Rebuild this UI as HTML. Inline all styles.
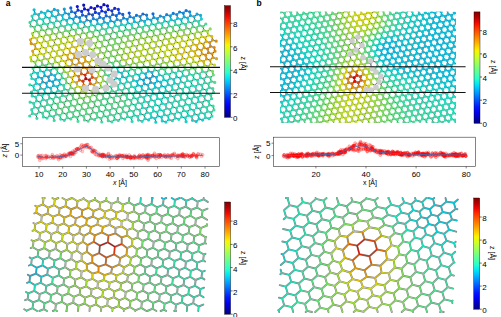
<!DOCTYPE html><html><head><meta charset="utf-8"><style>
html,body{margin:0;padding:0;background:#fff;width:501px;height:317px;overflow:hidden}
svg{display:block;font-family:"Liberation Sans",sans-serif;font-size:7px}
</style></head><body>
<svg width="501" height="317" viewBox="0 0 501 317"><g fill="none"><path fill="none" stroke="#4a4a4a" stroke-opacity="0.7" stroke-width="1.9" stroke-linecap="round" d="M26.6 310.7l-2.4 -1.5M26.6 310.7l-0 0.3M27.7 299.1l5.4 3.3M27.7 299.1l-2.6 1.1M27.7 299.1l0.6 -5.8M45.6 291.8l0.6 -5.8M52.2 283.6l-6 2.4M52.2 283.6l0.6 -5.8M49.1 257.2l-6 2.4M58.7 275.4l-6 2.4M162.6 265.9l5.4 3.3M162.6 265.9l-6 2.5M167.5 275l5.4 3.3M177.1 293.2l5.4 3.3M181.9 302.3l-6 2.4M181.9 302.3l0.6 -5.8M140.3 203.1l5.4 3.3M169.2 257.7l5.4 3.3M178.8 275.9l5.4 3.3M178.8 275.9l-6 2.4M183.6 285l5.4 3.3M183.6 285l-6 2.4M183.6 285l0.6 -5.8M151.6 204l5.4 3.3M151.6 204l-6 2.4M180.5 258.6l-6 2.4M180.5 258.6l0.6 -5.8M163 204.9l5.4 3.3M163 204.9l-6 2.4M191.9 259.4l0.6 -5.8M203.2 260.3l0.6 -5.8M28.3 293.4l-2.3 -1.4M34.3 290.9l5.4 3.3M34.3 290.9l-6 2.4M37.7 256.3l5.4 3.3M53.9 266.3l5.4 3.3M53.9 266.3l0.6 -5.8M167.5 275l0.6 -5.8M181.9 302.3l5.4 3.3M187.3 305.6l-0.5 5.4M174 266.8l5.4 3.3M174 266.8l-6 2.4M174 266.8l0.6 -5.8M178.8 275.9l0.6 -5.8M188.4 294.1l5.4 3.3M188.4 294.1l-6 2.4M188.4 294.1l0.6 -5.8M193.3 303.2l-6 2.4M180.5 258.6l5.4 3.3M185.3 267.7l5.4 3.3M185.3 267.7l-6 2.4M185.3 267.7l0.6 -5.8M190.2 276.8l5.4 3.3M190.2 276.8l-6 2.4M190.2 276.8l0.6 -5.8M195 285.8l-6 2.4M191.9 259.4l5.4 3.3M191.9 259.4l-6 2.4M203.2 260.3l1.9 1.2M203.2 260.3l-6 2.4M185.7 206.6l0.6 -5.8M203.6 199.3l4.2 2.6M203.6 199.3l-6 2.4M32.6 308.2l4.5 2.8M32.6 308.2l-6 2.4M32.6 308.2l0.6 -5.8M39.1 300l-6 2.4M39.1 300l0.6 -5.8M45.6 291.8l-6 2.4M49.1 257.2l5.4 3.3M58.7 275.4l0.6 -5.8M151.3 265.1l5.3 3.3M156.1 274.1l-6 2.5M156.1 274.1l0.6 -5.8M170.6 301.4l5.4 3.3M175.4 310.5l0.8 0.5M175.4 310.5l-1.2 0.5M175.4 310.5l0.6 -5.8M162.6 265.9l0.6 -5.8M167.5 275l-6 2.4M172.3 284.1l5.4 3.3M172.3 284.1l0.6 -5.8M177.1 293.2l-6 2.4M177.1 293.2l0.6 -5.8M169.2 257.7l-6 2.4M169.2 257.7l0.6 -5.8M175.7 249.5l5.4 3.3M187.1 250.4l5.4 3.3M187.1 250.4l-6 2.4M174.3 205.8l5.4 3.3M174.3 205.8l-6 2.4M198.4 251.2l5.4 3.3M198.4 251.2l-6 2.4M203.8 254.5l1.7 -0.7M197.1 207.5l0.6 -5.8M30 276.1l-2.2 -1.3M36 273.6l-6 2.4M36 273.6l0.6 -5.8M152.2 198.2l-0.4 -0.2M152.2 198.2l0.6 -0.2M29.5 281.8l5.4 3.3M40.8 282.7l0.6 -5.8M47.3 274.5l-6 2.4M47.3 274.5l0.6 -5.8M151.6 204l0.6 -5.8M174.9 200l4.9 -2M29.5 281.8l-2.5 1M31.2 264.5l-2.3 1M42.5 265.4l5.4 3.3M174.9 200l-3.2 -2M29.5 281.8l0.6 -5.8M31.2 264.5l5.4 3.3M36 273.6l5.4 3.3M42.5 265.4l-6 2.4M163.6 199.1l-1.8 -1.1M163.6 199.1l2.7 -1.1M34.3 290.9l0.6 -5.8M47.3 274.5l5.4 3.3M53.9 266.3l-6 2.4M140.3 203.1l0.5 -5.1M199.8 294.9l3.8 2.3M196.7 268.5l5.4 3.3M201.5 277.6l2.9 1.8M201.5 277.6l0.6 -5.8M200.4 289.2l3.7 -1.5M192.2 198.4l-6 2.4M39.1 300l5.4 3.3M43.9 309.1l-4.6 1.9M45.6 291.8l5.4 3.3M37.7 256.3l0.6 -5.8M52.2 283.6l5.4 3.3M60.4 258.1l-5.9 2.4M65.2 267.2l-5.9 2.4M144.8 273.3l5.3 3.3M144.8 273.3l0.6 -5.8M151.3 265.1l-5.9 2.5M156.1 274.1l5.4 3.3M165.7 292.3l5.4 3.3M170.6 301.4l-6 2.4M170.6 301.4l0.6 -5.8M157.8 256.8l5.4 3.3M172.3 284.1l-6 2.4M140.3 203.1l-6 2.4M164.4 248.6l5.4 3.3M175.7 249.5l-6 2.4M175.7 249.5l0.6 -5.8M187.1 250.4l0.6 -5.8M198.4 251.2l0.6 -5.8M185.7 206.6l5.4 3.3M185.7 206.6l-6 2.4M43.9 309.1l3.1 1.9M43.9 309.1l0.6 -5.8M50.4 300.9l-6 2.4M50.4 300.9l0.6 -5.8M58.7 275.4l5.4 3.3M149.6 282.4l0.6 -5.8M159.2 300.5l5.4 3.3M159.2 300.5l0.6 -5.8M164 309.6l2.2 1.4M164 309.6l-3.4 1.4M164 309.6l0.6 -5.8M151.3 265.1l0.6 -5.8M160.9 283.2l5.4 3.3M160.9 283.2l0.6 -5.8M165.7 292.3l-6 2.4M165.7 292.3l0.6 -5.8M128.9 202.3l0.4 -4.3M153.1 247.7l5.3 3.3M157.8 256.8l-5.9 2.5M157.8 256.8l0.6 -5.8M145.1 212.2l0.6 -5.8M164.4 248.6l-5.9 2.4M164.4 248.6l0.6 -5.8M156.4 213.1l0.6 -5.8M170.9 240.4l5.4 3.3M167.8 214l0.6 -5.8M182.3 241.3l5.4 3.3M182.3 241.3l-6 2.4M182.3 241.3l0.6 -5.8M179.2 214.9l0.6 -5.8M193.6 242.1l5.4 3.3M193.6 242.1l-6 2.4M205 243l1 0.6M205 243l-6 2.4M197.1 207.5l5.4 3.3M197.1 207.5l-6 2.4M202.4 210.8l5.1 -2.1M31.7 258.7l-2.1 -1.3M40.8 282.7l5.4 3.3M37.7 256.3l-6 2.4M193.3 303.2l5.4 3.3M193.3 303.2l0.6 -5.8M198.7 306.5l-0.4 4.5M195 285.8l5.4 3.3M195 285.8l0.6 -5.8M199.8 294.9l-6 2.4M199.8 294.9l0.6 -5.8M198.7 306.5l4.6 -1.9M196.7 268.5l-6 2.4M196.7 268.5l0.6 -5.8M201.5 277.6l-6 2.4M174.3 205.8l0.6 -5.8M192.2 198.4l5.4 3.3M203.6 199.3l0.1 -1.3M31.2 264.5l0.6 -5.8M40.8 282.7l-6 2.4M42.5 265.4l0.6 -5.8M163 204.9l0.6 -5.8M202.1 271.9l2.7 -1.1M186.3 200.9l-4.7 -2.9M192.2 198.4l0 -0.4M50.4 300.9l5.4 3.3M57 292.7l-6 2.4M57 292.7l0.6 -5.8M49.1 257.2l0.6 -5.8M63.5 284.4l-6 2.4M60.4 258.1l5.3 3.4M147.8 299.7l5.4 3.3M152.7 308.7l3.7 2.3M152.7 308.7l0.6 -5.8M140.4 264.4l5.1 3.2M144.8 273.3l-5.9 2.5M149.6 282.4l5.4 3.3M149.6 282.4l-6 2.5M154.4 291.4l5.4 3.3M154.4 291.4l-6 2.4M154.4 291.4l0.6 -5.8M159.2 300.5l-6 2.4M146.7 256l5.2 3.3M146.7 256l0.6 -5.8M160.9 283.2l-6 2.4M153.1 247.7l-5.8 2.5M153.1 247.7l0.6 -5.8M159.6 239.5l5.4 3.3M170.9 240.4l-6 2.4M170.9 240.4l0.6 -5.8M167.8 214l5.4 3.3M177.4 232.2l5.4 3.3M177.4 232.2l-6 2.4M179.2 214.9l5.4 3.3M179.2 214.9l-6 2.4M184 223.9l-6 2.4M188.8 233l-6 2.4M193.6 242.1l0.6 -5.8M190.5 215.7l0.6 -5.8M205 243l0.6 -5.8M55.3 310l1.7 1M55.3 310l-2.5 1M55.3 310l0.6 -5.8M57 292.7l5.4 3.3M63.5 284.4l0.6 -5.8M65.2 267.2l0.5 -5.8M141.3 307.9l5.1 3.1M143 290.6l5.4 3.3M143 290.6l0.6 -5.8M147.8 299.7l-6 2.4M147.8 299.7l0.6 -5.8M152.7 308.7l-5.5 2.3M142.2 246.8l5.1 3.4M146.7 256l-5.6 2.6M128.9 202.3l5.4 3.3M143.5 229.5l5.3 3.4M148.3 238.6l5.3 3.4M148.3 238.6l-5.7 2.4M148.3 238.6l0.5 -5.8M145.1 212.2l5.4 3.3M149.9 221.3l5.4 3.3M149.9 221.3l-5.9 2.4M149.9 221.3l0.6 -5.8M154.7 230.4l-5.9 2.4M154.7 230.4l0.6 -5.8M159.6 239.5l-5.9 2.4M159.6 239.5l0.6 -5.8M156.4 213.1l5.4 3.3M156.4 213.1l-6 2.4M161.3 222.2l5.4 3.3M161.3 222.2l-6 2.4M161.3 222.2l0.6 -5.8M166.1 231.3l5.4 3.3M167.8 214l-6 2.4M172.6 223.1l5.4 3.3M172.6 223.1l-6 2.4M172.6 223.1l0.6 -5.8M177.4 232.2l0.6 -5.8M184 223.9l5.4 3.3M184 223.9l0.6 -5.8M188.8 233l5.4 3.3M188.8 233l0.6 -5.8M190.5 215.7l5.4 3.3M190.5 215.7l-6 2.4M201.9 216.6l5.2 3.2M201.9 216.6l-6 2.4M201.9 216.6l0.6 -5.8M33.5 241.4l-2 -1.2M66.7 249.8l5.1 3.4M81.2 277.4l5.4 3.4M97.5 287.4l-5.9 2.3M102.4 296.2l5.4 3.3M102.4 296.2l-6 2.4M107.2 305.3l0.6 -5.7M113.8 297.1l5.4 3.3M113.8 297.1l-6 2.4M113.8 297.1l0.6 -5.7M115.7 280.6l5.3 2.8M120.4 289l-6 2.4M83.5 198.8l0.1 -0.8M94.8 199.6l5.4 3.3M94.8 199.6l-6 2.4M130 264.2l1 -6M132.2 245.6l4.7 3.6M127.4 219.2l5.4 3.4M137.6 237.5l-5.2 2.1M32.9 247.2l5.4 3.3M32.9 247.2l-2.2 0.9M61.8 301.8l-6 2.4M61.8 301.8l0.6 -5.8M63.5 284.4l5.4 3.3M60.4 258.1l0.6 -5.8M70 276.3l-5.9 2.4M136.5 298.8l5.4 3.3M141.3 307.9l-6 2.4M141.3 307.9l0.6 -5.8M138.3 281.5l5.3 3.3M138.3 281.5l0.7 -5.7M143 290.6l-6 2.5M140.4 264.4l0.7 -5.8M142.2 246.8l0.4 -5.8M138.6 220.4l5.4 3.4M143.5 229.5l0.5 -5.7M145.1 212.2l-5.9 2.4M154.7 230.4l5.4 3.3M166.1 231.3l-6 2.4M166.1 231.3l0.6 -5.8M195.3 224.8l-6 2.4M195.3 224.8l0.6 -5.8M200.1 233.9l5.4 3.3M200.1 233.9l-6 2.4M205.5 237.2l0.7 -0.3M32.9 247.2l0.6 -5.8M70 276.3l5.4 3.4M74.8 285.4l5.4 3.3M74.8 285.4l0.5 -5.7M79.7 294.4l5.4 3.3M79.7 294.4l0.5 -5.7M84.5 303.5l5.4 3.3M84.5 303.5l0.6 -5.8M89.9 306.8l-0.4 4.2M124 309.4l-0.2 1.6M125.1 297.9l5.4 3.3M125.1 297.9l0.6 -5.7M129.9 307l-6 2.4M127.1 281l5.3 3.1M133.8 272.8l-5.9 2.7M137.6 237.5l0.3 -5.7M61.8 301.8l5.4 3.3M66.6 310.8l0.2 0.2M66.6 310.8l-0.4 0.2M66.6 310.8l0.6 -5.8M44.3 248.1l-6 2.4M68.3 293.5l-6 2.4M65.2 267.2l5.3 3.4M135.3 310.3l-0.1 0.7M136.5 298.8l0.6 -5.8M133.8 272.8l5.1 3.1M136.3 255.3l4.7 3.2M140.4 264.4l-5.7 2.7M117.6 201.4l0.3 -3.4M143.5 229.5l-5.7 2.3M195.3 224.8l5.4 3.3M200.1 233.9l0.6 -5.8M206.7 225.7l0.1 0.1M206.7 225.7l-6 2.4M206.7 225.7l0.2 -1.6M35.2 224.1l-1.8 -1.1M41.2 221.7l5.4 3.3M46 230.8l0.6 -5.8M42.9 204.4l0.6 -5.8M52.5 222.5l5.4 3.3M52.5 222.5l-6 2.4M57.3 231.6l0.6 -5.8M54.2 205.2l0.6 -5.8M68.5 232.4l5.1 3.2M68.5 232.4l-5.9 2.5M72.9 241.5l0.7 -5.8M86.9 269.9l-5.5 1.9M65.6 206.1l0.6 -5.8M104 280l0.5 -4.9M88.3 207.8l0.6 -5.7M104.4 217l5.6 2.9M111 209.4l-6 2.3M116 218l-6.1 2M121.5 226.4l5.6 3.6M127.2 235.6l5.2 3.9M34.6 229.9l5.4 3.3M34.6 229.9l-2.1 0.9M34.6 229.9l0.6 -5.8M46 230.8l5.4 3.3M46 230.8l-6 2.4M57.3 231.6l5.3 3.3M57.3 231.6l-6 2.5M72.9 241.5l4.7 3.2M77.1 250.7l0.6 -6M81.6 260.4l0.1 -6.1M122.9 272.8l-6.3 2.7M122.9 272.8l1.2 -5.5M126.5 254.9l4.6 3.3M116 218l5.6 3.3M39.4 239l5.4 3.3M39.4 239l-6 2.4M50.8 239.9l-6 2.4M66.7 249.8l0.6 -5.8M76.2 268.3l0.3 -5.7M77.1 250.7l-5.3 2.5M97.5 287.4l5.4 3.2M102.4 296.2l0.6 -5.6M109 288.3l5.4 3.2M109 288.3l-6 2.3M109 288.3l0.6 -5.3M122.9 272.8l5 2.6M127.4 219.2l0.4 -5.6M39.4 239l0.6 -5.8M50.8 239.9l0.6 -5.8M43.4 198.6l-1 -0.6M62.1 240.7l0.6 -5.8M54.8 199.5l-2.4 -1.5M43.4 198.6l1.4 -0.6M72.9 241.5l-5.6 2.6M77.1 250.7l4.7 3.6M92.4 278.8l5.6 3.3M54.8 199.5l3.6 -1.5M104 280l5.6 2.9M104 280l-6.1 2M77.5 201.2l-5.2 -3.2M115.7 280.6l0.9 -5.1M83.5 198.8l-6 2.4M99.6 208.6l0.6 -5.7M111 209.4l0.6 -5.6M121.5 226.4l0.1 -5.2M132.2 245.6l0.1 -6.1M122.4 210.3l5.4 3.3M132.6 228.2l-5.5 1.9M44.3 248.1l5.4 3.3M68.3 293.5l5.4 3.3M68.3 293.5l0.6 -5.8M73.2 302.6l5.4 3.3M73.2 302.6l-6 2.4M73.2 302.6l0.6 -5.8M55.6 248.9l-5.9 2.4M74.8 285.4l-5.9 2.4M71.4 259l-5.7 2.4M129.9 307l5.4 3.3M131.7 289.7l5.4 3.3M131.7 289.7l0.6 -5.7M136.5 298.8l-6 2.4M138.3 281.5l-5.9 2.5M137.6 237.5l5.1 3.5M142.2 246.8l-5.3 2.5M133.8 211.3l0.5 -5.7M138.6 220.4l0.5 -5.7M44.3 248.1l0.6 -5.8M66.7 249.8l-5.8 2.5M86.2 286.3l-5.9 2.3M91 295.3l-6 2.4M95.9 304.4l5.4 3.3M95.9 304.4l-6 2.4M101.3 307.7l-0.3 3.3M118.6 306.1l5.4 3.3M120.4 289l5.4 3.2M125.1 297.9l-6 2.4M127.1 281l-6 2.5M127.1 281l0.9 -5.5M94.8 199.6l0.2 -1.6M130 264.2l4.7 2.9M117.6 201.4l5.4 3.3M117.6 201.4l-6 2.4M132.6 228.2l5.3 3.5M78.5 306l-0.5 5M55.6 248.9l5.3 3.3M70 276.3l0.5 -5.7M79.7 294.4l-6 2.4M84.5 303.5l-6 2.4M129.9 307l0.6 -5.8M131.7 289.7l-6 2.5M133.8 272.8l0.9 -5.7M106.2 200.5l0.2 -2.5M136.3 255.3l0.6 -6M128.9 202.3l-6 2.4M133.8 211.3l5.4 3.3M138.6 220.4l-5.8 2.3M36.9 206.8l-1.7 -1.1M41.2 221.7l-6 2.4M41.2 221.7l0.6 -5.8M42.9 204.4l5.4 3.3M42.9 204.4l-6 2.4M52.5 222.5l0.6 -5.8M54.2 205.2l-6 2.4M63.8 223.4l5.3 3.3M63.8 223.4l-6 2.5M68.5 232.4l0.6 -5.8M81.6 260.4l5.2 3.9M92.4 278.8l0.1 -5.2M79.3 232.9l-5.7 2.7M82.9 241.8l-5.3 2.9M86.9 251.8l-5.1 2.5M99.6 208.6l5.4 3.2M104.4 217l-6.2 2.3M104.4 217l0.6 -5.3M109.5 224.9l0.5 -4.9M111 209.4l5.4 3.2M116 218l0.4 -5.3M121.5 226.4l-6 1.6M127.2 235.6l-0.1 -5.6M122.4 210.3l-5.9 2.3M36.3 212.6l5.4 3.3M36.3 212.6l-2 0.8M36.3 212.6l0.6 -5.8M47.7 213.5l5.4 3.3M47.7 213.5l-6 2.4M47.7 213.5l0.6 -5.8M54.2 205.2l5.4 3.3M59 214.3l-6 2.4M63.8 223.4l0.6 -5.8M65.6 206.1l-6 2.4M75.1 224.2l-5.9 2.5M76.9 207l0.6 -5.8M111.1 273l5.6 2.5M97.3 224.5l0.9 -5.1M119.1 264.7l5.1 2.6M99.6 208.6l-6 2.4M109.5 224.9l6 3.2M109.5 224.9l-6.6 2.1M132.2 245.6l-5.1 2.5M50.8 239.9l5.4 3.3M62.1 240.7l5.2 3.3M62.1 240.7l-5.9 2.5M76.2 268.3l5.3 3.5M81.2 277.4l0.3 -5.6M81.6 260.4l-5.2 2.1M92.4 278.8l-5.8 2M97.5 287.4l0.4 -5.3M66.2 200.3l-3.8 -2.3M66.2 200.3l5.7 -2.3M115.7 280.6l-6.2 2.3M83.5 198.8l5.4 3.3M130 264.2l-5.9 3.1M122.4 210.3l0.5 -5.7M127.4 219.2l-5.8 2M55.6 248.9l0.6 -5.8M71.4 259l5.1 3.5M71.4 259l0.4 -5.8M76.2 268.3l-5.7 2.3M81.2 277.4l-5.8 2.3M86.2 286.3l5.4 3.3M86.2 286.3l0.4 -5.6M91 295.3l5.4 3.3M91 295.3l0.5 -5.7M95.9 304.4l0.6 -5.7M107.2 305.3l5.4 3.3M107.2 305.3l-6 2.4M112.6 308.6l-0.2 2.4M118.6 306.1l-6 2.4M118.6 306.1l0.6 -5.8M120.4 289l0.7 -5.5M106.2 200.5l5.4 3.3M106.2 200.5l-6 2.4M136.3 255.3l-5.3 2.9M132.6 228.2l0.3 -5.6M133.8 211.3l-5.9 2.3M59 214.3l5.4 3.3M59 214.3l0.6 -5.8M86.9 269.9l5.6 3.6M86.9 269.9l-0.1 -5.6M65.6 206.1l5.4 3.3M75.1 224.2l5.1 3.1M79.3 232.9l4.7 2.9M79.3 232.9l0.9 -5.7M82.9 241.8l1 -6M111.1 273l-6.6 2.1M88.3 207.8l5.4 3.2M92.9 216.5l5.3 2.8M97.3 224.5l5.6 2.5M70.4 215.2l5.3 3.3M70.4 215.2l0.6 -5.8M86.9 251.8l0.6 -6.7M76.9 207l5.4 3.3M76.9 207l-6 2.5M89.8 232.7l5.1 2.6M101.9 232.3l1 -5.3M115.4 233.4l0.1 -5.4M126.5 254.9l0.6 -6.7M127.2 235.6l-5.5 1.8M70.4 215.2l-6 2.5M75.1 224.2l0.7 -5.7M82.9 241.8l4.6 3.3M98.5 272l6 3.2M98.5 272l-6 1.6M86.1 224.5l5 2.6M86.1 224.5l-5.9 2.7M86.1 224.5l0.9 -5.5M89.8 232.7l-5.9 3.1M89.8 232.7l1.2 -5.5M88.3 207.8l-6 2.5M92.9 216.5l-6 2.5M92.9 216.5l0.7 -5.5M97.3 224.5l-6.3 2.7M119.1 264.7l1.2 -6.5M126.5 254.9l-6.2 3.3M86.9 251.8l5.5 4.2M92.3 262.5l-5.5 1.8M81.7 216l5.3 3.1M81.7 216l-5.9 2.5M81.7 216l0.6 -5.7M111.1 273l1 -5.3M101.9 232.3l-7 3M119.1 264.7l-7 3M92.3 262.5l6.3 4.1M114.1 254.4l6.2 3.8M92.3 262.5l0 -6.5M101.9 232.3l6.5 3.3M115.4 233.4l6.3 4.1M98.5 272l0.1 -5.4M93.7 241.8l-6.2 3.3M93.7 241.8l1.2 -6.5M115.4 233.4l-7 2.2M93.7 241.8l6.2 3.8M99.2 253.2l7.1 4.4M99.2 253.2l-6.8 2.8M105.6 264.4l6.5 3.3M105.6 264.4l-7 2.2M121.7 244l5.5 4.2M121.7 244l0 -6.5M99.2 253.2l0.7 -7.6M114.1 254.4l0.7 -7.6M121.7 244l-6.8 2.8M105.6 264.4l0.7 -6.8M107.8 242.4l7.1 4.4M107.8 242.4l-7.9 3.3M107.8 242.4l0.7 -6.8M114.1 254.4l-7.9 3.3"/><g fill="none" stroke-width="1.0" stroke-linecap="round"><path stroke="#3be1a5" d="M26.6 310.7l-2.4 -1.5M26.6 310.7l-0 0.3M27.7 299.1l5.4 3.3M27.7 299.1l-2.6 1.1M27.7 299.1l0.6 -5.8M45.6 291.8l0.6 -5.8M52.2 283.6l-6 2.4M52.2 283.6l0.6 -5.8M49.1 257.2l-6 2.4M58.7 275.4l-6 2.4M162.6 265.9l5.4 3.3M162.6 265.9l-6 2.5M167.5 275l5.4 3.3M177.1 293.2l5.4 3.3M181.9 302.3l-6 2.4M181.9 302.3l0.6 -5.8M140.3 203.1l5.4 3.3M169.2 257.7l5.4 3.3M178.8 275.9l5.4 3.3M178.8 275.9l-6 2.4M183.6 285l5.4 3.3M183.6 285l-6 2.4M183.6 285l0.6 -5.8M151.6 204l5.4 3.3M151.6 204l-6 2.4M180.5 258.6l-6 2.4M180.5 258.6l0.6 -5.8M163 204.9l5.4 3.3M163 204.9l-6 2.4M191.9 259.4l0.6 -5.8M203.2 260.3l0.6 -5.8"/><path stroke="#31e1ad" d="M28.3 293.4l-2.3 -1.4M34.3 290.9l5.4 3.3M34.3 290.9l-6 2.4M37.7 256.3l5.4 3.3M53.9 266.3l5.4 3.3M53.9 266.3l0.6 -5.8M167.5 275l0.6 -5.8M181.9 302.3l5.4 3.3M187.3 305.6l-0.5 5.4M174 266.8l5.4 3.3M174 266.8l-6 2.4M174 266.8l0.6 -5.8M178.8 275.9l0.6 -5.8M188.4 294.1l5.4 3.3M188.4 294.1l-6 2.4M188.4 294.1l0.6 -5.8M193.3 303.2l-6 2.4M180.5 258.6l5.4 3.3M185.3 267.7l5.4 3.3M185.3 267.7l-6 2.4M185.3 267.7l0.6 -5.8M190.2 276.8l5.4 3.3M190.2 276.8l-6 2.4M190.2 276.8l0.6 -5.8M195 285.8l-6 2.4M191.9 259.4l5.4 3.3M191.9 259.4l-6 2.4M203.2 260.3l1.9 1.2M203.2 260.3l-6 2.4M185.7 206.6l0.6 -5.8M203.6 199.3l4.2 2.6M203.6 199.3l-6 2.4"/><path stroke="#43e19c" d="M32.6 308.2l4.5 2.8M32.6 308.2l-6 2.4M32.6 308.2l0.6 -5.8M39.1 300l-6 2.4M39.1 300l0.6 -5.8M45.6 291.8l-6 2.4M49.1 257.2l5.4 3.3M58.7 275.4l0.6 -5.8M151.3 265.1l5.3 3.3M156.1 274.1l-6 2.5M156.1 274.1l0.6 -5.8M170.6 301.4l5.4 3.3M175.4 310.5l0.8 0.5M175.4 310.5l-1.2 0.5M175.4 310.5l0.6 -5.8M162.6 265.9l0.6 -5.8M167.5 275l-6 2.4M172.3 284.1l5.4 3.3M172.3 284.1l0.6 -5.8M177.1 293.2l-6 2.4M177.1 293.2l0.6 -5.8M169.2 257.7l-6 2.4M169.2 257.7l0.6 -5.8M175.7 249.5l5.4 3.3M187.1 250.4l5.4 3.3M187.1 250.4l-6 2.4M174.3 205.8l5.4 3.3M174.3 205.8l-6 2.4M198.4 251.2l5.4 3.3M198.4 251.2l-6 2.4M203.8 254.5l1.7 -0.7M197.1 207.5l0.6 -5.8"/><path stroke="#06b5e1" d="M30 276.1l-2.2 -1.3M36 273.6l-6 2.4M36 273.6l0.6 -5.8M152.2 198.2l-0.4 -0.2M152.2 198.2l0.6 -0.2"/><path stroke="#0ed6d0" d="M29.5 281.8l5.4 3.3M40.8 282.7l0.6 -5.8M47.3 274.5l-6 2.4M47.3 274.5l0.6 -5.8M151.6 204l0.6 -5.8M174.9 200l4.9 -2"/><path stroke="#06cada" d="M29.5 281.8l-2.5 1M31.2 264.5l-2.3 1M42.5 265.4l5.4 3.3M174.9 200l-3.2 -2"/><path stroke="#06c0e1" d="M29.5 281.8l0.6 -5.8M31.2 264.5l5.4 3.3M36 273.6l5.4 3.3M42.5 265.4l-6 2.4M163.6 199.1l-1.8 -1.1M163.6 199.1l2.7 -1.1"/><path stroke="#20e1bf" d="M34.3 290.9l0.6 -5.8M47.3 274.5l5.4 3.3M53.9 266.3l-6 2.4M140.3 203.1l0.5 -5.1M199.8 294.9l3.8 2.3M196.7 268.5l5.4 3.3M201.5 277.6l2.9 1.8M201.5 277.6l0.6 -5.8M200.4 289.2l3.7 -1.5M192.2 198.4l-6 2.4"/><path stroke="#4ce193" d="M39.1 300l5.4 3.3M43.9 309.1l-4.6 1.9M45.6 291.8l5.4 3.3M37.7 256.3l0.6 -5.8M52.2 283.6l5.4 3.3M60.4 258.1l-5.9 2.4M65.2 267.2l-5.9 2.4M144.8 273.3l5.3 3.3M144.8 273.3l0.6 -5.8M151.3 265.1l-5.9 2.5M156.1 274.1l5.4 3.3M165.7 292.3l5.4 3.3M170.6 301.4l-6 2.4M170.6 301.4l0.6 -5.8M157.8 256.8l5.4 3.3M172.3 284.1l-6 2.4M140.3 203.1l-6 2.4M164.4 248.6l5.4 3.3M175.7 249.5l-6 2.4M175.7 249.5l0.6 -5.8M187.1 250.4l0.6 -5.8M198.4 251.2l0.6 -5.8M185.7 206.6l5.4 3.3M185.7 206.6l-6 2.4"/><path stroke="#55e18a" d="M43.9 309.1l3.1 1.9M43.9 309.1l0.6 -5.8M50.4 300.9l-6 2.4M50.4 300.9l0.6 -5.8M58.7 275.4l5.4 3.3M149.6 282.4l0.6 -5.8M159.2 300.5l5.4 3.3M159.2 300.5l0.6 -5.8M164 309.6l2.2 1.4M164 309.6l-3.4 1.4M164 309.6l0.6 -5.8M151.3 265.1l0.6 -5.8M160.9 283.2l5.4 3.3M160.9 283.2l0.6 -5.8M165.7 292.3l-6 2.4M165.7 292.3l0.6 -5.8M128.9 202.3l0.4 -4.3M153.1 247.7l5.3 3.3M157.8 256.8l-5.9 2.5M157.8 256.8l0.6 -5.8M145.1 212.2l0.6 -5.8M164.4 248.6l-5.9 2.4M164.4 248.6l0.6 -5.8M156.4 213.1l0.6 -5.8M170.9 240.4l5.4 3.3M167.8 214l0.6 -5.8M182.3 241.3l5.4 3.3M182.3 241.3l-6 2.4M182.3 241.3l0.6 -5.8M179.2 214.9l0.6 -5.8M193.6 242.1l5.4 3.3M193.6 242.1l-6 2.4M205 243l1 0.6M205 243l-6 2.4M197.1 207.5l5.4 3.3M197.1 207.5l-6 2.4M202.4 210.8l5.1 -2.1"/><path stroke="#29e1b7" d="M31.7 258.7l-2.1 -1.3M40.8 282.7l5.4 3.3M37.7 256.3l-6 2.4M193.3 303.2l5.4 3.3M193.3 303.2l0.6 -5.8M198.7 306.5l-0.4 4.5M195 285.8l5.4 3.3M195 285.8l0.6 -5.8M199.8 294.9l-6 2.4M199.8 294.9l0.6 -5.8M198.7 306.5l4.6 -1.9M196.7 268.5l-6 2.4M196.7 268.5l0.6 -5.8M201.5 277.6l-6 2.4M174.3 205.8l0.6 -5.8M192.2 198.4l5.4 3.3M203.6 199.3l0.1 -1.3"/><path stroke="#18e1c8" d="M31.2 264.5l0.6 -5.8M40.8 282.7l-6 2.4M42.5 265.4l0.6 -5.8M163 204.9l0.6 -5.8M202.1 271.9l2.7 -1.1M186.3 200.9l-4.7 -2.9M192.2 198.4l0 -0.4"/><path stroke="#5ee181" d="M50.4 300.9l5.4 3.3M57 292.7l-6 2.4M57 292.7l0.6 -5.8M49.1 257.2l0.6 -5.8M63.5 284.4l-6 2.4M60.4 258.1l5.3 3.4M147.8 299.7l5.4 3.3M152.7 308.7l3.7 2.3M152.7 308.7l0.6 -5.8M140.4 264.4l5.1 3.2M144.8 273.3l-5.9 2.5M149.6 282.4l5.4 3.3M149.6 282.4l-6 2.5M154.4 291.4l5.4 3.3M154.4 291.4l-6 2.4M154.4 291.4l0.6 -5.8M159.2 300.5l-6 2.4M146.7 256l5.2 3.3M146.7 256l0.6 -5.8M160.9 283.2l-6 2.4M153.1 247.7l-5.8 2.5M153.1 247.7l0.6 -5.8M159.6 239.5l5.4 3.3M170.9 240.4l-6 2.4M170.9 240.4l0.6 -5.8M167.8 214l5.4 3.3M177.4 232.2l5.4 3.3M177.4 232.2l-6 2.4M179.2 214.9l5.4 3.3M179.2 214.9l-6 2.4M184 223.9l-6 2.4M188.8 233l-6 2.4M193.6 242.1l0.6 -5.8M190.5 215.7l0.6 -5.8M205 243l0.6 -5.8"/><path stroke="#67e179" d="M55.3 310l1.7 1M55.3 310l-2.5 1M55.3 310l0.6 -5.8M57 292.7l5.4 3.3M63.5 284.4l0.6 -5.8M65.2 267.2l0.5 -5.8M141.3 307.9l5.1 3.1M143 290.6l5.4 3.3M143 290.6l0.6 -5.8M147.8 299.7l-6 2.4M147.8 299.7l0.6 -5.8M152.7 308.7l-5.5 2.3M142.2 246.8l5.1 3.4M146.7 256l-5.6 2.6M128.9 202.3l5.4 3.3M143.5 229.5l5.3 3.4M148.3 238.6l5.3 3.4M148.3 238.6l-5.7 2.4M148.3 238.6l0.5 -5.8M145.1 212.2l5.4 3.3M149.9 221.3l5.4 3.3M149.9 221.3l-5.9 2.4M149.9 221.3l0.6 -5.8M154.7 230.4l-5.9 2.4M154.7 230.4l0.6 -5.8M159.6 239.5l-5.9 2.4M159.6 239.5l0.6 -5.8M156.4 213.1l5.4 3.3M156.4 213.1l-6 2.4M161.3 222.2l5.4 3.3M161.3 222.2l-6 2.4M161.3 222.2l0.6 -5.8M166.1 231.3l5.4 3.3M167.8 214l-6 2.4M172.6 223.1l5.4 3.3M172.6 223.1l-6 2.4M172.6 223.1l0.6 -5.8M177.4 232.2l0.6 -5.8M184 223.9l5.4 3.3M184 223.9l0.6 -5.8M188.8 233l5.4 3.3M188.8 233l0.6 -5.8M190.5 215.7l5.4 3.3M190.5 215.7l-6 2.4M201.9 216.6l5.2 3.2M201.9 216.6l-6 2.4M201.9 216.6l0.6 -5.8"/><path stroke="#ade131" d="M33.5 241.4l-2 -1.2M66.7 249.8l5.1 3.4M81.2 277.4l5.4 3.4M97.5 287.4l-5.9 2.3M102.4 296.2l5.4 3.3M102.4 296.2l-6 2.4M107.2 305.3l0.6 -5.7M113.8 297.1l5.4 3.3M113.8 297.1l-6 2.4M113.8 297.1l0.6 -5.7M115.7 280.6l5.3 2.8M120.4 289l-6 2.4M83.5 198.8l0.1 -0.8M94.8 199.6l5.4 3.3M94.8 199.6l-6 2.4M130 264.2l1 -6M132.2 245.6l4.7 3.6M127.4 219.2l5.4 3.4M137.6 237.5l-5.2 2.1"/><path stroke="#6fe16f" d="M32.9 247.2l5.4 3.3M32.9 247.2l-2.2 0.9M61.8 301.8l-6 2.4M61.8 301.8l0.6 -5.8M63.5 284.4l5.4 3.3M60.4 258.1l0.6 -5.8M70 276.3l-5.9 2.4M136.5 298.8l5.4 3.3M141.3 307.9l-6 2.4M141.3 307.9l0.6 -5.8M138.3 281.5l5.3 3.3M138.3 281.5l0.7 -5.7M143 290.6l-6 2.5M140.4 264.4l0.7 -5.8M142.2 246.8l0.4 -5.8M138.6 220.4l5.4 3.4M143.5 229.5l0.5 -5.7M145.1 212.2l-5.9 2.4M154.7 230.4l5.4 3.3M166.1 231.3l-6 2.4M166.1 231.3l0.6 -5.8M195.3 224.8l-6 2.4M195.3 224.8l0.6 -5.8M200.1 233.9l5.4 3.3M200.1 233.9l-6 2.4M205.5 237.2l0.7 -0.3"/><path stroke="#93e14c" d="M32.9 247.2l0.6 -5.8M70 276.3l5.4 3.4M74.8 285.4l5.4 3.3M74.8 285.4l0.5 -5.7M79.7 294.4l5.4 3.3M79.7 294.4l0.5 -5.7M84.5 303.5l5.4 3.3M84.5 303.5l0.6 -5.8M89.9 306.8l-0.4 4.2M124 309.4l-0.2 1.6M125.1 297.9l5.4 3.3M125.1 297.9l0.6 -5.7M129.9 307l-6 2.4M127.1 281l5.3 3.1M133.8 272.8l-5.9 2.7M137.6 237.5l0.3 -5.7"/><path stroke="#79e167" d="M61.8 301.8l5.4 3.3M66.6 310.8l0.2 0.2M66.6 310.8l-0.4 0.2M66.6 310.8l0.6 -5.8M44.3 248.1l-6 2.4M68.3 293.5l-6 2.4M65.2 267.2l5.3 3.4M135.3 310.3l-0.1 0.7M136.5 298.8l0.6 -5.8M133.8 272.8l5.1 3.1M136.3 255.3l4.7 3.2M140.4 264.4l-5.7 2.7M117.6 201.4l0.3 -3.4M143.5 229.5l-5.7 2.3M195.3 224.8l5.4 3.3M200.1 233.9l0.6 -5.8M206.7 225.7l0.1 0.1M206.7 225.7l-6 2.4M206.7 225.7l0.2 -1.6"/><path stroke="#dad906" d="M35.2 224.1l-1.8 -1.1M41.2 221.7l5.4 3.3M46 230.8l0.6 -5.8M42.9 204.4l0.6 -5.8M52.5 222.5l5.4 3.3M52.5 222.5l-6 2.4M57.3 231.6l0.6 -5.8M54.2 205.2l0.6 -5.8M68.5 232.4l5.1 3.2M68.5 232.4l-5.9 2.5M72.9 241.5l0.7 -5.8M86.9 269.9l-5.5 1.9M65.6 206.1l0.6 -5.8M104 280l0.5 -4.9M88.3 207.8l0.6 -5.7M104.4 217l5.6 2.9M111 209.4l-6 2.3M116 218l-6.1 2M121.5 226.4l5.6 3.6M127.2 235.6l5.2 3.9"/><path stroke="#d0e10e" d="M34.6 229.9l5.4 3.3M34.6 229.9l-2.1 0.9M34.6 229.9l0.6 -5.8M46 230.8l5.4 3.3M46 230.8l-6 2.4M57.3 231.6l5.3 3.3M57.3 231.6l-6 2.5M72.9 241.5l4.7 3.2M77.1 250.7l0.6 -6M81.6 260.4l0.1 -6.1M122.9 272.8l-6.3 2.7M122.9 272.8l1.2 -5.5M126.5 254.9l4.6 3.3M116 218l5.6 3.3"/><path stroke="#b7e129" d="M39.4 239l5.4 3.3M39.4 239l-6 2.4M50.8 239.9l-6 2.4M66.7 249.8l0.6 -5.8M76.2 268.3l0.3 -5.7M77.1 250.7l-5.3 2.5M97.5 287.4l5.4 3.2M102.4 296.2l0.6 -5.6M109 288.3l5.4 3.2M109 288.3l-6 2.3M109 288.3l0.6 -5.3M122.9 272.8l5 2.6M127.4 219.2l0.4 -5.6"/><path stroke="#c8e118" d="M39.4 239l0.6 -5.8M50.8 239.9l0.6 -5.8M43.4 198.6l-1 -0.6M62.1 240.7l0.6 -5.8M54.8 199.5l-2.4 -1.5M43.4 198.6l1.4 -0.6M72.9 241.5l-5.6 2.6M77.1 250.7l4.7 3.6M92.4 278.8l5.6 3.3M54.8 199.5l3.6 -1.5M104 280l5.6 2.9M104 280l-6.1 2M77.5 201.2l-5.2 -3.2M115.7 280.6l0.9 -5.1M83.5 198.8l-6 2.4M99.6 208.6l0.6 -5.7M111 209.4l0.6 -5.6M121.5 226.4l0.1 -5.2M132.2 245.6l0.1 -6.1M122.4 210.3l5.4 3.3M132.6 228.2l-5.5 1.9"/><path stroke="#81e15e" d="M44.3 248.1l5.4 3.3M68.3 293.5l5.4 3.3M68.3 293.5l0.6 -5.8M73.2 302.6l5.4 3.3M73.2 302.6l-6 2.4M73.2 302.6l0.6 -5.8M55.6 248.9l-5.9 2.4M74.8 285.4l-5.9 2.4M71.4 259l-5.7 2.4M129.9 307l5.4 3.3M131.7 289.7l5.4 3.3M131.7 289.7l0.6 -5.7M136.5 298.8l-6 2.4M138.3 281.5l-5.9 2.5M137.6 237.5l5.1 3.5M142.2 246.8l-5.3 2.5M133.8 211.3l0.5 -5.7M138.6 220.4l0.5 -5.7"/><path stroke="#9ce143" d="M44.3 248.1l0.6 -5.8M66.7 249.8l-5.8 2.5M86.2 286.3l-5.9 2.3M91 295.3l-6 2.4M95.9 304.4l5.4 3.3M95.9 304.4l-6 2.4M101.3 307.7l-0.3 3.3M118.6 306.1l5.4 3.3M120.4 289l5.4 3.2M125.1 297.9l-6 2.4M127.1 281l-6 2.5M127.1 281l0.9 -5.5M94.8 199.6l0.2 -1.6M130 264.2l4.7 2.9M117.6 201.4l5.4 3.3M117.6 201.4l-6 2.4M132.6 228.2l5.3 3.5"/><path stroke="#8ae155" d="M78.5 306l-0.5 5M55.6 248.9l5.3 3.3M70 276.3l0.5 -5.7M79.7 294.4l-6 2.4M84.5 303.5l-6 2.4M129.9 307l0.6 -5.8M131.7 289.7l-6 2.5M133.8 272.8l0.9 -5.7M106.2 200.5l0.2 -2.5M136.3 255.3l0.6 -6M128.9 202.3l-6 2.4M133.8 211.3l5.4 3.3M138.6 220.4l-5.8 2.3"/><path stroke="#e1cf06" d="M36.9 206.8l-1.7 -1.1M41.2 221.7l-6 2.4M41.2 221.7l0.6 -5.8M42.9 204.4l5.4 3.3M42.9 204.4l-6 2.4M52.5 222.5l0.6 -5.8M54.2 205.2l-6 2.4M63.8 223.4l5.3 3.3M63.8 223.4l-6 2.5M68.5 232.4l0.6 -5.8M81.6 260.4l5.2 3.9M92.4 278.8l0.1 -5.2M79.3 232.9l-5.7 2.7M82.9 241.8l-5.3 2.9M86.9 251.8l-5.1 2.5M99.6 208.6l5.4 3.2M104.4 217l-6.2 2.3M104.4 217l0.6 -5.3M109.5 224.9l0.5 -4.9M111 209.4l5.4 3.2M116 218l0.4 -5.3M121.5 226.4l-6 1.6M127.2 235.6l-0.1 -5.6M122.4 210.3l-5.9 2.3"/><path stroke="#e1c406" d="M36.3 212.6l5.4 3.3M36.3 212.6l-2 0.8M36.3 212.6l0.6 -5.8M47.7 213.5l5.4 3.3M47.7 213.5l-6 2.4M47.7 213.5l0.6 -5.8M54.2 205.2l5.4 3.3M59 214.3l-6 2.4M63.8 223.4l0.6 -5.8M65.6 206.1l-6 2.4M75.1 224.2l-5.9 2.5M76.9 207l0.6 -5.8M111.1 273l5.6 2.5M97.3 224.5l0.9 -5.1M119.1 264.7l5.1 2.6M99.6 208.6l-6 2.4M109.5 224.9l6 3.2M109.5 224.9l-6.6 2.1M132.2 245.6l-5.1 2.5"/><path stroke="#bfe120" d="M50.8 239.9l5.4 3.3M62.1 240.7l5.2 3.3M62.1 240.7l-5.9 2.5M76.2 268.3l5.3 3.5M81.2 277.4l0.3 -5.6M81.6 260.4l-5.2 2.1M92.4 278.8l-5.8 2M97.5 287.4l0.4 -5.3M66.2 200.3l-3.8 -2.3M66.2 200.3l5.7 -2.3M115.7 280.6l-6.2 2.3M83.5 198.8l5.4 3.3M130 264.2l-5.9 3.1M122.4 210.3l0.5 -5.7M127.4 219.2l-5.8 2"/><path stroke="#a5e13b" d="M55.6 248.9l0.6 -5.8M71.4 259l5.1 3.5M71.4 259l0.4 -5.8M76.2 268.3l-5.7 2.3M81.2 277.4l-5.8 2.3M86.2 286.3l5.4 3.3M86.2 286.3l0.4 -5.6M91 295.3l5.4 3.3M91 295.3l0.5 -5.7M95.9 304.4l0.6 -5.7M107.2 305.3l5.4 3.3M107.2 305.3l-6 2.4M112.6 308.6l-0.2 2.4M118.6 306.1l-6 2.4M118.6 306.1l0.6 -5.8M120.4 289l0.7 -5.5M106.2 200.5l5.4 3.3M106.2 200.5l-6 2.4M136.3 255.3l-5.3 2.9M132.6 228.2l0.3 -5.6M133.8 211.3l-5.9 2.3"/><path stroke="#e1ba06" d="M59 214.3l5.4 3.3M59 214.3l0.6 -5.8M86.9 269.9l5.6 3.6M86.9 269.9l-0.1 -5.6M65.6 206.1l5.4 3.3M75.1 224.2l5.1 3.1M79.3 232.9l4.7 2.9M79.3 232.9l0.9 -5.7M82.9 241.8l1 -6M111.1 273l-6.6 2.1M88.3 207.8l5.4 3.2M92.9 216.5l5.3 2.8M97.3 224.5l5.6 2.5"/><path stroke="#e1a606" d="M70.4 215.2l5.3 3.3M70.4 215.2l0.6 -5.8M86.9 251.8l0.6 -6.7M76.9 207l5.4 3.3M76.9 207l-6 2.5M89.8 232.7l5.1 2.6M101.9 232.3l1 -5.3M115.4 233.4l0.1 -5.4M126.5 254.9l0.6 -6.7M127.2 235.6l-5.5 1.8"/><path stroke="#e1b006" d="M70.4 215.2l-6 2.5M75.1 224.2l0.7 -5.7M82.9 241.8l4.6 3.3M98.5 272l6 3.2M98.5 272l-6 1.6M86.1 224.5l5 2.6M86.1 224.5l-5.9 2.7M86.1 224.5l0.9 -5.5M89.8 232.7l-5.9 3.1M89.8 232.7l1.2 -5.5M88.3 207.8l-6 2.5M92.9 216.5l-6 2.5M92.9 216.5l0.7 -5.5M97.3 224.5l-6.3 2.7M119.1 264.7l1.2 -6.5M126.5 254.9l-6.2 3.3"/><path stroke="#e19c06" d="M86.9 251.8l5.5 4.2M92.3 262.5l-5.5 1.8M81.7 216l5.3 3.1M81.7 216l-5.9 2.5M81.7 216l0.6 -5.7M111.1 273l1 -5.3M101.9 232.3l-7 3M119.1 264.7l-7 3"/><path stroke="#e17d06" d="M92.3 262.5l6.3 4.1M114.1 254.4l6.2 3.8"/><path stroke="#e19206" d="M92.3 262.5l0 -6.5M101.9 232.3l6.5 3.3M115.4 233.4l6.3 4.1"/><path stroke="#e18706" d="M98.5 272l0.1 -5.4M93.7 241.8l-6.2 3.3M93.7 241.8l1.2 -6.5M115.4 233.4l-7 2.2"/><path stroke="#e14006" d="M93.7 241.8l6.2 3.8"/><path stroke="#e14a06" d="M99.2 253.2l7.1 4.4"/><path stroke="#e17406" d="M99.2 253.2l-6.8 2.8M105.6 264.4l6.5 3.3M105.6 264.4l-7 2.2M121.7 244l5.5 4.2M121.7 244l0 -6.5"/><path stroke="#e12c06" d="M99.2 253.2l0.7 -7.6M114.1 254.4l0.7 -7.6M121.7 244l-6.8 2.8"/><path stroke="#e15f06" d="M105.6 264.4l0.7 -6.8"/><path stroke="#be0606" d="M107.8 242.4l7.1 4.4"/><path stroke="#ca0606" d="M107.8 242.4l-7.9 3.3"/><path stroke="#e15506" d="M107.8 242.4l0.7 -6.8M114.1 254.4l-7.9 3.3"/></g><path fill="none" stroke="#4a4a4a" stroke-opacity="0.7" stroke-width="1.9" stroke-linecap="round" d="M278.7 310.3l-0.5 -0.1M282.2 298.5l-3.3 -0.8M285.7 286.7l-6 -1.5M287.7 293.5l-2 -6.8M291.2 281.7l-5.6 5M291.2 281.7l-2 -6.8M294.8 269.8l-5.6 5M294.8 269.8l-2 -6.8M298.3 258l-5.6 5M298.3 258l-2 -6.8M290.2 230.7l-7.1 -1.7M292.2 237.5l7.6 1.8M292.2 237.5l-2 -6.8M286.1 217.1l-2.4 2.2M286.1 217.1l-1.9 -6.3M295.7 225.7l-5.6 5M406.8 230l-1.6 -5.9M422.9 246.1l6.8 2M422.9 246.1l-1.7 -6.9M391.2 204.6l7.9 2M401.3 212.5l-5.4 4.2M434.5 243.1l-4.8 5M443.9 252.6l7.5 2.4M443.9 252.6l-5 5M443.9 252.6l-2.4 -7.3M453.9 262.4l0.7 0.2M453.9 262.4l-2.5 -7.3M451.5 255.1l3.7 -3.4M278.7 310.3l0.5 1.7M284.2 305.3l-5.6 5M284.2 305.3l-2 -6.8M287.7 293.5l7.6 1.8M287.7 293.5l-5.6 5M291.2 281.7l7.6 1.8M294.8 269.8l7.6 1.8M298.3 258l7.6 1.8M301.8 246.2l-5.6 5M301.8 246.2l-2 -6.8M286.1 217.1l7.6 1.8M295.7 225.7l7.6 1.8M295.7 225.7l-2 -6.8M305.3 234.4l-5.6 5M305.3 234.4l-2 -6.8M287.6 198.4l-1.7 -0.4M289.6 205.2l7.6 1.8M289.6 205.2l-5.4 4.8M289.6 205.2l-2 -6.8M299.2 213.9l-5.6 5M299.2 213.9l-2 -6.8M287.6 198.4l0.5 -0.4M387.9 214.9l8 1.7M398 222.5l7.2 1.5M398 222.5l-2.1 -5.8M406.8 230l6.5 1.4M414.8 237.6l6.4 1.6M414.8 237.6l-1.5 -6.3M422.9 246.1l-5.1 5.4M431.7 255.4l7.2 2.3M431.7 255.4l-2 -7.3M441.2 265.1l7.5 2.3M441.2 265.1l-2.3 -7.5M391.2 204.6l-2.5 -6.5M453.9 262.4l-5.3 5M284.2 305.3l7.6 1.8M300.9 290.3l-5.6 5M301.8 246.2l7.6 1.8M305.3 234.4l7.6 1.8M299.2 213.9l7.6 1.8M308.9 222.5l7.6 1.8M308.9 222.5l-5.6 5M308.9 222.5l-2 -6.8M302.8 202.1l7.6 1.8M302.8 202.1l-5.6 5M302.8 202.1l-1.2 -4.1M312.4 210.7l-5.6 5M312.4 210.7l-2 -6.8M414.8 237.6l-5.1 5.2M431.7 255.4l-5.1 5.4M441.2 265.1l-5.2 5.3M451 274.8l3 0.8M451 274.8l-2.3 -7.4M388.7 198.1l-0.4 -0.1M391.2 204.6l-5.7 4.3M388.7 198.1l0.1 -0.1M291.8 307.1l1.4 4.9M297.3 302.1l-5.6 5M297.3 302.1l-2 -6.8M300.9 290.3l-2 -6.8M304.4 278.5l-5.6 5M304.4 278.5l-2 -6.8M307.9 266.7l-5.5 5M307.9 266.7l-2 -6.8M311.4 254.8l-5.5 5M311.4 254.8l-2 -6.8M318.4 231.2l-5.5 5M318.4 231.2l-2 -6.8M312.4 210.7l7.6 1.8M322 219.3l-5.6 5M322 219.3l-2 -6.8M315.9 198.9l7.6 1.8M315.9 198.9l-5.6 5M315.9 198.9l-0.3 -0.9M325.6 207.5l-5.6 5M411.1 249.9l6.7 1.6M411.1 249.9l-1.4 -7M419.5 258.8l-1.7 -7.3M428.6 268.3l7.4 2.1M438.1 277.8l7.5 2.1M438.1 277.8l-2.1 -7.4M447.7 287.1l-2.2 -7.2M387.9 214.9l-2.4 -6.1M398 222.5l-5.4 4.3M406.8 230l-5.1 4.8M451 274.8l-5.4 5.1M297.3 302.1l7.6 1.8M300.9 290.3l7.6 1.8M304.4 278.5l7.6 1.8M307.9 266.7l7.5 1.8M314.9 243l-5.5 5M314.9 243l-2 -6.8M322 219.3l7.6 1.7M325.6 207.5l7.7 1.8M325.6 207.5l-2 -6.8M323.5 200.7l3.1 -2.7M444.4 299.3l7.6 1.9M444.4 299.3l-2.1 -7M451.9 301.2l0.5 1.8M419.5 258.8l7.1 1.9M428.6 268.3l-2 -7.5M447.7 287.1l5.5 1.5M447.7 287.1l-5.5 5.1M451.9 301.2l0.7 -0.6M377.2 206.9l8.3 1.9M387.9 214.9l-5.9 4.1M307 310.8l5 1.2M310.5 299l7.6 1.8M314 287.2l7.6 1.8M320.9 263.5l-2 -6.9M324.2 251.7l-5.3 5M331.4 227.8l-5.5 5.1M418.2 305.7l7.6 1.9M348.7 212.7l8 1.5M348.7 212.7l-5.9 4.9M407.2 262.8l7 1.6M415.9 271.8l-1.7 -7.4M425.2 281.1l-5.5 5.3M362.8 209.6l-2.2 -6.5M373.5 217.3l8.5 1.7M366.4 198.4l-5.9 4.7M366.4 198.4l-0.1 -0.4M307 310.8l-1.3 1.2M307 310.8l-2 -6.8M314 287.2l-2 -6.8M317.5 275.3l-5.5 5M317.5 275.3l-2 -6.8M320.9 263.5l-5.4 5M314.9 243l7.4 1.8M331.4 227.8l-1.8 -6.7M425.7 307.6l1.3 4.4M335.2 216.1l7.6 1.6M421.7 293.6l7.5 1.9M431.3 302.5l-5.5 5.1M431.3 302.5l-2 -7M348.7 212.7l-2 -6.6M415.9 271.8l7.3 1.9M425.2 281.1l7.5 2M425.2 281.1l-2 -7.4M434.7 290.3l-5.5 5.2M352.5 201.3l8.1 1.9M352.5 201.3l-5.8 4.9M352.5 201.3l-1.1 -3.3M384.6 224.9l8 1.9M384.6 224.9l-2.6 -5.9M394.8 233l6.9 1.7M394.8 233l-2.2 -6.2M403.2 241.4l-1.5 -6.7M411.1 249.9l-5.3 5.7M419.5 258.8l-5.3 5.6M366.4 198.4l8.3 2M377.2 206.9l-6 4.4M281.6 273l7.6 1.8M281.6 273l-1.3 1.2M285.1 261.2l7.6 1.8M286.6 242.5l-4.3 -1M288.7 249.4l7.6 1.8M288.7 249.4l-2 -6.8M292.2 237.5l-5.6 5M401.3 212.5l7.1 1.6M401.3 212.5l-2.2 -6M410.2 219.7l-5.1 4.3M418.1 226.8l-4.8 4.6M426 234.4l6.5 1.9M426 234.4l-4.7 4.8M434.5 243.1l7.1 2.3M434.5 243.1l-2.1 -6.8M404.2 202.4l7 2M404.2 202.4l-5.1 4.1M404.2 202.4l-1.7 -4.4M446.5 240.7l7.6 2.4M446.5 240.7l-4.9 4.6M454.1 243.2l1.3 3.7M454.1 243.2l1.6 -1.4M281.6 273l-1 -3.4M285.1 261.2l-4.3 3.8M285.1 261.2l-2 -6.8M288.7 249.4l-5.6 5M410.2 219.7l6.4 1.4M410.2 219.7l-1.8 -5.6M418.1 226.8l6.1 1.5M418.1 226.8l-1.5 -5.6M426 234.4l-1.7 -6.1M413.2 210.2l6.3 1.6M413.2 210.2l-4.8 4M413.2 210.2l-2 -5.8M421.1 217.1l-4.5 4M421.1 217.1l-1.6 -5.4M428.7 224l-4.4 4.2M437 231.8l7 2.1M437 231.8l-4.6 4.4M446.5 240.7l-2.4 -6.7M415.8 200.3l6.3 1.8M415.8 200.3l-4.6 4.1M415.8 200.3l-0.7 -2.3M423.9 207.8l-4.4 4M423.9 207.8l-1.7 -5.7M449 229.7l7.2 2M449 229.7l-5 4.3M422.2 202.1l4.2 -4.1M310.5 299l-5.6 5M310.5 299l-2 -6.8M314 287.2l-5.5 5M311.4 254.8l7.5 1.8M318.4 231.2l7.4 1.7M335.2 216.1l-5.7 5M335.2 216.1l-2 -6.7M431.3 302.5l7.6 1.9M440.9 311.3l2.8 0.7M440.9 311.3l-0.8 0.7M440.9 311.3l-2 -6.9M338.9 204.4l7.8 1.8M338.9 204.4l-5.7 5M338.9 204.4l-2 -6.4M434.7 290.3l7.6 2M434.7 290.3l-2.1 -7.2M444.4 299.3l-5.5 5.1M403.2 241.4l6.5 1.5M428.6 268.3l-5.3 5.5M438.1 277.8l-5.4 5.3M377.2 206.9l-2.5 -6.5M374.7 200.4l3.1 -2.4M320.1 307.6l7.6 1.8M323.6 295.8l7.6 1.8M327.1 284l-2.1 -6.8M330.3 272.4l-5.3 4.8M324.2 251.7l7 1.9M405 309l-3.3 3M405 309l-2 -6.9M408.6 296.9l-5.6 5.1M408.6 296.9l-1.9 -7M344.6 224l-5.9 5.2M403.1 275.7l7.3 1.6M412.2 284.6l-5.6 5.3M412.2 284.6l-1.8 -7.2M399.3 254.2l6.5 1.4M407.2 262.8l-5.5 5.8M373.5 217.3l-6.3 4.2M320.1 307.6l-4.9 4.4M320.1 307.6l-2 -6.8M317.5 275.3l7.5 1.9M320.9 263.5l7.3 2M324.2 251.7l-1.9 -6.9M327.6 239.7l-5.4 5.1M327.6 239.7l-1.8 -6.8M412.6 310.8l0.4 1.2M418.2 305.7l-5.6 5.1M418.2 305.7l-2 -7M344.6 224l-1.7 -6.4M421.7 293.6l-5.5 5.2M421.7 293.6l-2 -7.1M415.9 271.8l-5.5 5.5M362.8 209.6l8.4 1.7M362.8 209.6l-6.1 4.6M373.5 217.3l-2.4 -6M327.7 309.5l0.8 2.5M333.2 304.5l-5.5 5M330.3 272.4l-2.1 -6.9M333.1 260.6l-4.9 4.9M395.5 300.3l7.6 1.8M399.2 288.2l7.5 1.7M344.6 224l7.7 1.1M403.1 275.7l-1.5 -7.1M384.6 224.9l-6 4.1M394.8 233l-5.2 4.8M283.1 254.4l-1.6 -0.4M421.1 217.1l5.9 1.4M428.7 224l6.3 1.7M428.7 224l-1.7 -5.5M437 231.8l-2 -6.1M423.9 207.8l6 1.4M431.4 214.6l6.3 1.5M431.4 214.6l-4.4 3.9M431.4 214.6l-1.6 -5.4M439.6 221.7l7.1 1.8M439.6 221.7l-4.6 4M439.6 221.7l-1.9 -5.6M449 229.7l-2.3 -6.2M433 199.1l-4.8 -1.1M434.5 205l6.5 1.3M434.5 205l-4.6 4.2M434.5 205l-1.5 -5.9M442.7 212l7.2 1.5M442.7 212l-5 4.1M442.7 212l-1.7 -5.7M452 219.4l4.8 1.1M452 219.4l-5.3 4.2M452 219.4l-2.1 -5.9M433 199.1l1.2 -1.1M446.4 201.6l7.4 1.2M446.4 201.6l-5.4 4.6M446.4 201.6l-0.9 -3.6M455.6 208.9l1.8 0.3M455.6 208.9l-5.7 4.5M455.6 208.9l-1.8 -6.1M453.8 202.9l4.1 -3.4M323.6 295.8l-5.5 5M323.6 295.8l-2 -6.8M327.1 284l-5.5 4.9M405 309l7.6 1.8M331.4 227.8l7.3 1.4M408.6 296.9l7.5 1.8M412.2 284.6l7.5 1.9M358.7 220.3l-2 -6M407.2 262.8l-1.4 -7.3M403.2 241.4l-5.1 5.5M333.2 304.5l7.6 1.8M333.2 304.5l-2 -6.8M327.1 284l7.5 1.9M336.7 292.7l-5.5 4.9M333.1 260.6l-1.9 -7.1M389.9 305.4l1.9 6.6M327.6 239.7l6.9 1.6M395.5 300.3l-5.6 5.1M395.5 300.3l-1.9 -6.9M399.2 288.2l-5.6 5.2M403.1 275.7l-5.7 5.5M358.7 220.3l8.5 1.3M358.7 220.3l-6.4 4.8M399.3 254.2l-1.2 -7.3M340.8 306.3l1.7 5.7M336.7 292.7l-2.1 -6.8M330.3 272.4l7.3 2.1M382.3 303.6l7.6 1.8M399.2 288.2l-1.7 -6.9M394.8 267.5l6.8 1.2M336.7 292.7l7.6 1.9M346.4 301.3l-5.5 5M356 310l7.6 1.8M356 310l-2.3 2M356 310l-2 -6.8M363.6 311.8l0.1 0.2M339.9 281.3l-5.3 4.7M376.7 308.6l1 3.4M333.1 260.6l6.9 2.3M382.3 303.6l-5.6 5M386 291.8l7.5 1.6M340.1 235.7l-1.4 -6.6M369.5 227.3l-2.3 -5.8M391.5 245.2l6.6 1.7M346.4 301.3l7.6 1.8M346.4 301.3l-2.1 -6.7M359.5 298.3l-5.6 4.9M369.1 306.8l7.6 1.8M369.1 306.8l-5.6 5M369.1 306.8l-2 -6.7M382.3 303.6l-2 -6.7M336.1 248.2l-5 5.3M386 291.8l-5.7 5.1M390.2 279.9l7.3 1.3M399.3 254.2l-5.5 6.1M339.9 281.3l7.6 2.1M359.5 298.3l-2.1 -6.5M342.4 270l-4.9 4.5M342.4 270l-2.5 -7.1M336.1 248.2l-1.5 -7M340.1 235.7l-5.5 5.5M390.2 279.9l-5.9 5.3M390.2 279.9l-1.3 -6.6M394.8 267.5l-5.9 5.9M381.4 235.7l-2.7 -6.6M391.5 245.2l-1.9 -7.4M339.9 281.3l-2.3 -6.7M349.7 289.9l-5.5 4.7M359.5 298.3l7.6 1.8M372.8 295.2l7.6 1.7M372.8 295.2l-5.6 4.9M386 291.8l-1.7 -6.6M353.7 231.2l-1.5 -6.1M394.8 267.5l-1 -7.1M369.5 227.3l9.2 1.7M349.7 289.9l7.7 1.9M349.7 289.9l-2.3 -6.5M372.8 295.2l-1.9 -6.4M381.4 235.7l8.2 2.1M342.4 270l7.6 2.5M352.7 279.1l-5.3 4.2M363 287.2l7.8 1.6M376.7 284l-5.9 4.8M352.7 279.1l8.1 2M353.7 231.2l8.7 1M353.7 231.2l-6.5 5.6M352.7 279.1l-2.7 -6.5M363 287.2l-2.2 -6.1M376.7 284l-1.6 -6M391.5 245.2l-5.8 6.1M363 287.2l-5.6 4.5M344.8 257.8l-4.8 5.1M376.7 284l7.6 1.2M387 259.3l6.9 1.1M336.1 248.2l6.7 1.8M340.1 235.7l7.1 1.1M381.6 272.6l7.4 0.8M369.5 227.3l-7 4.8M344.8 257.8l8 2.5M344.8 257.8l-2 -7.8M381.6 272.6l-6.5 5.4M381.6 272.6l-1.2 -6.8M387 259.3l-6.6 6.5M387 259.3l-1.3 -8M355.5 268.1l9 2.2M355.5 268.1l-2.8 -7.8M371.6 264.6l8.8 1.2M355.5 268.1l-5.5 4.5M366.8 276.7l8.3 1.2M366.8 276.7l-6 4.4M366.8 276.7l-2.3 -6.5M381.4 235.7l-6.8 5.5M348.6 244l8.6 1.6M364.6 239.3l10 1.9M348.6 244l-5.7 6M348.6 244l-1.4 -7.2M359.4 254.2l10 2.1M359.4 254.2l-6.6 6.1M371.6 264.6l-2.2 -8.3M359.4 254.2l-2.3 -8.6M371.6 264.6l-7 5.7M364.6 239.3l-2.2 -7.1M364.6 239.3l-7.5 6.4M377 249.5l8.7 1.8M377 249.5l-7.6 6.8M377 249.5l-2.4 -8.4"/><g fill="none" stroke-width="1.1" stroke-linecap="round"><path stroke="#20e1bf" d="M278.7 310.3l-0.5 -0.1M282.2 298.5l-3.3 -0.8M285.7 286.7l-6 -1.5M287.7 293.5l-2 -6.8M291.2 281.7l-5.6 5M291.2 281.7l-2 -6.8M294.8 269.8l-5.6 5M294.8 269.8l-2 -6.8M298.3 258l-5.6 5M298.3 258l-2 -6.8M290.2 230.7l-7.1 -1.7M292.2 237.5l7.6 1.8M292.2 237.5l-2 -6.8M286.1 217.1l-2.4 2.2M286.1 217.1l-1.9 -6.3M295.7 225.7l-5.6 5M406.8 230l-1.6 -5.9M422.9 246.1l6.8 2M422.9 246.1l-1.7 -6.9M391.2 204.6l7.9 2M401.3 212.5l-5.4 4.2M434.5 243.1l-4.8 5M443.9 252.6l7.5 2.4M443.9 252.6l-5 5M443.9 252.6l-2.4 -7.3M453.9 262.4l0.7 0.2M453.9 262.4l-2.5 -7.3M451.5 255.1l3.7 -3.4"/><path stroke="#29e1b7" d="M278.7 310.3l0.5 1.7M284.2 305.3l-5.6 5M284.2 305.3l-2 -6.8M287.7 293.5l7.6 1.8M287.7 293.5l-5.6 5M291.2 281.7l7.6 1.8M294.8 269.8l7.6 1.8M298.3 258l7.6 1.8M301.8 246.2l-5.6 5M301.8 246.2l-2 -6.8M286.1 217.1l7.6 1.8M295.7 225.7l7.6 1.8M295.7 225.7l-2 -6.8M305.3 234.4l-5.6 5M305.3 234.4l-2 -6.8M287.6 198.4l-1.7 -0.4M289.6 205.2l7.6 1.8M289.6 205.2l-5.4 4.8M289.6 205.2l-2 -6.8M299.2 213.9l-5.6 5M299.2 213.9l-2 -6.8M287.6 198.4l0.5 -0.4M387.9 214.9l8 1.7M398 222.5l7.2 1.5M398 222.5l-2.1 -5.8M406.8 230l6.5 1.4M414.8 237.6l6.4 1.6M414.8 237.6l-1.5 -6.3M422.9 246.1l-5.1 5.4M431.7 255.4l7.2 2.3M431.7 255.4l-2 -7.3M441.2 265.1l7.5 2.3M441.2 265.1l-2.3 -7.5M391.2 204.6l-2.5 -6.5M453.9 262.4l-5.3 5"/><path stroke="#31e1ad" d="M284.2 305.3l7.6 1.8M300.9 290.3l-5.6 5M301.8 246.2l7.6 1.8M305.3 234.4l7.6 1.8M299.2 213.9l7.6 1.8M308.9 222.5l7.6 1.8M308.9 222.5l-5.6 5M308.9 222.5l-2 -6.8M302.8 202.1l7.6 1.8M302.8 202.1l-5.6 5M302.8 202.1l-1.2 -4.1M312.4 210.7l-5.6 5M312.4 210.7l-2 -6.8M414.8 237.6l-5.1 5.2M431.7 255.4l-5.1 5.4M441.2 265.1l-5.2 5.3M451 274.8l3 0.8M451 274.8l-2.3 -7.4M388.7 198.1l-0.4 -0.1M391.2 204.6l-5.7 4.3M388.7 198.1l0.1 -0.1"/><path stroke="#3be1a5" d="M291.8 307.1l1.4 4.9M297.3 302.1l-5.6 5M297.3 302.1l-2 -6.8M300.9 290.3l-2 -6.8M304.4 278.5l-5.6 5M304.4 278.5l-2 -6.8M307.9 266.7l-5.5 5M307.9 266.7l-2 -6.8M311.4 254.8l-5.5 5M311.4 254.8l-2 -6.8M318.4 231.2l-5.5 5M318.4 231.2l-2 -6.8M312.4 210.7l7.6 1.8M322 219.3l-5.6 5M322 219.3l-2 -6.8M315.9 198.9l7.6 1.8M315.9 198.9l-5.6 5M315.9 198.9l-0.3 -0.9M325.6 207.5l-5.6 5M411.1 249.9l6.7 1.6M411.1 249.9l-1.4 -7M419.5 258.8l-1.7 -7.3M428.6 268.3l7.4 2.1M438.1 277.8l7.5 2.1M438.1 277.8l-2.1 -7.4M447.7 287.1l-2.2 -7.2M387.9 214.9l-2.4 -6.1M398 222.5l-5.4 4.3M406.8 230l-5.1 4.8M451 274.8l-5.4 5.1"/><path stroke="#43e19c" d="M297.3 302.1l7.6 1.8M300.9 290.3l7.6 1.8M304.4 278.5l7.6 1.8M307.9 266.7l7.5 1.8M314.9 243l-5.5 5M314.9 243l-2 -6.8M322 219.3l7.6 1.7M325.6 207.5l7.7 1.8M325.6 207.5l-2 -6.8M323.5 200.7l3.1 -2.7M444.4 299.3l7.6 1.9M444.4 299.3l-2.1 -7M451.9 301.2l0.5 1.8M419.5 258.8l7.1 1.9M428.6 268.3l-2 -7.5M447.7 287.1l5.5 1.5M447.7 287.1l-5.5 5.1M451.9 301.2l0.7 -0.6M377.2 206.9l8.3 1.9M387.9 214.9l-5.9 4.1"/><path stroke="#5ee181" d="M307 310.8l5 1.2M310.5 299l7.6 1.8M314 287.2l7.6 1.8M320.9 263.5l-2 -6.9M324.2 251.7l-5.3 5M331.4 227.8l-5.5 5.1M418.2 305.7l7.6 1.9M348.7 212.7l8 1.5M348.7 212.7l-5.9 4.9M407.2 262.8l7 1.6M415.9 271.8l-1.7 -7.4M425.2 281.1l-5.5 5.3M362.8 209.6l-2.2 -6.5M373.5 217.3l8.5 1.7M366.4 198.4l-5.9 4.7M366.4 198.4l-0.1 -0.4"/><path stroke="#55e18a" d="M307 310.8l-1.3 1.2M307 310.8l-2 -6.8M314 287.2l-2 -6.8M317.5 275.3l-5.5 5M317.5 275.3l-2 -6.8M320.9 263.5l-5.4 5M314.9 243l7.4 1.8M331.4 227.8l-1.8 -6.7M425.7 307.6l1.3 4.4M335.2 216.1l7.6 1.6M421.7 293.6l7.5 1.9M431.3 302.5l-5.5 5.1M431.3 302.5l-2 -7M348.7 212.7l-2 -6.6M415.9 271.8l7.3 1.9M425.2 281.1l7.5 2M425.2 281.1l-2 -7.4M434.7 290.3l-5.5 5.2M352.5 201.3l8.1 1.9M352.5 201.3l-5.8 4.9M352.5 201.3l-1.1 -3.3M384.6 224.9l8 1.9M384.6 224.9l-2.6 -5.9M394.8 233l6.9 1.7M394.8 233l-2.2 -6.2M403.2 241.4l-1.5 -6.7M411.1 249.9l-5.3 5.7M419.5 258.8l-5.3 5.6M366.4 198.4l8.3 2M377.2 206.9l-6 4.4"/><path stroke="#18e1c8" d="M281.6 273l7.6 1.8M281.6 273l-1.3 1.2M285.1 261.2l7.6 1.8M286.6 242.5l-4.3 -1M288.7 249.4l7.6 1.8M288.7 249.4l-2 -6.8M292.2 237.5l-5.6 5M401.3 212.5l7.1 1.6M401.3 212.5l-2.2 -6M410.2 219.7l-5.1 4.3M418.1 226.8l-4.8 4.6M426 234.4l6.5 1.9M426 234.4l-4.7 4.8M434.5 243.1l7.1 2.3M434.5 243.1l-2.1 -6.8M404.2 202.4l7 2M404.2 202.4l-5.1 4.1M404.2 202.4l-1.7 -4.4M446.5 240.7l7.6 2.4M446.5 240.7l-4.9 4.6M454.1 243.2l1.3 3.7M454.1 243.2l1.6 -1.4"/><path stroke="#0ed6d0" d="M281.6 273l-1 -3.4M285.1 261.2l-4.3 3.8M285.1 261.2l-2 -6.8M288.7 249.4l-5.6 5M410.2 219.7l6.4 1.4M410.2 219.7l-1.8 -5.6M418.1 226.8l6.1 1.5M418.1 226.8l-1.5 -5.6M426 234.4l-1.7 -6.1M413.2 210.2l6.3 1.6M413.2 210.2l-4.8 4M413.2 210.2l-2 -5.8M421.1 217.1l-4.5 4M421.1 217.1l-1.6 -5.4M428.7 224l-4.4 4.2M437 231.8l7 2.1M437 231.8l-4.6 4.4M446.5 240.7l-2.4 -6.7M415.8 200.3l6.3 1.8M415.8 200.3l-4.6 4.1M415.8 200.3l-0.7 -2.3M423.9 207.8l-4.4 4M423.9 207.8l-1.7 -5.7M449 229.7l7.2 2M449 229.7l-5 4.3M422.2 202.1l4.2 -4.1"/><path stroke="#4ce193" d="M310.5 299l-5.6 5M310.5 299l-2 -6.8M314 287.2l-5.5 5M311.4 254.8l7.5 1.8M318.4 231.2l7.4 1.7M335.2 216.1l-5.7 5M335.2 216.1l-2 -6.7M431.3 302.5l7.6 1.9M440.9 311.3l2.8 0.7M440.9 311.3l-0.8 0.7M440.9 311.3l-2 -6.9M338.9 204.4l7.8 1.8M338.9 204.4l-5.7 5M338.9 204.4l-2 -6.4M434.7 290.3l7.6 2M434.7 290.3l-2.1 -7.2M444.4 299.3l-5.5 5.1M403.2 241.4l6.5 1.5M428.6 268.3l-5.3 5.5M438.1 277.8l-5.4 5.3M377.2 206.9l-2.5 -6.5M374.7 200.4l3.1 -2.4"/><path stroke="#79e167" d="M320.1 307.6l7.6 1.8M323.6 295.8l7.6 1.8M327.1 284l-2.1 -6.8M330.3 272.4l-5.3 4.8M324.2 251.7l7 1.9M405 309l-3.3 3M405 309l-2 -6.9M408.6 296.9l-5.6 5.1M408.6 296.9l-1.9 -7M344.6 224l-5.9 5.2M403.1 275.7l7.3 1.6M412.2 284.6l-5.6 5.3M412.2 284.6l-1.8 -7.2M399.3 254.2l6.5 1.4M407.2 262.8l-5.5 5.8M373.5 217.3l-6.3 4.2"/><path stroke="#67e179" d="M320.1 307.6l-4.9 4.4M320.1 307.6l-2 -6.8M317.5 275.3l7.5 1.9M320.9 263.5l7.3 2M324.2 251.7l-1.9 -6.9M327.6 239.7l-5.4 5.1M327.6 239.7l-1.8 -6.8M412.6 310.8l0.4 1.2M418.2 305.7l-5.6 5.1M418.2 305.7l-2 -7M344.6 224l-1.7 -6.4M421.7 293.6l-5.5 5.2M421.7 293.6l-2 -7.1M415.9 271.8l-5.5 5.5M362.8 209.6l8.4 1.7M362.8 209.6l-6.1 4.6M373.5 217.3l-2.4 -6"/><path stroke="#81e15e" d="M327.7 309.5l0.8 2.5M333.2 304.5l-5.5 5M330.3 272.4l-2.1 -6.9M333.1 260.6l-4.9 4.9M395.5 300.3l7.6 1.8M399.2 288.2l7.5 1.7M344.6 224l7.7 1.1M403.1 275.7l-1.5 -7.1M384.6 224.9l-6 4.1M394.8 233l-5.2 4.8"/><path stroke="#06cada" d="M283.1 254.4l-1.6 -0.4M421.1 217.1l5.9 1.4M428.7 224l6.3 1.7M428.7 224l-1.7 -5.5M437 231.8l-2 -6.1M423.9 207.8l6 1.4M431.4 214.6l6.3 1.5M431.4 214.6l-4.4 3.9M431.4 214.6l-1.6 -5.4M439.6 221.7l7.1 1.8M439.6 221.7l-4.6 4M439.6 221.7l-1.9 -5.6M449 229.7l-2.3 -6.2M433 199.1l-4.8 -1.1M434.5 205l6.5 1.3M434.5 205l-4.6 4.2M434.5 205l-1.5 -5.9M442.7 212l7.2 1.5M442.7 212l-5 4.1M442.7 212l-1.7 -5.7M452 219.4l4.8 1.1M452 219.4l-5.3 4.2M452 219.4l-2.1 -5.9M433 199.1l1.2 -1.1M446.4 201.6l7.4 1.2M446.4 201.6l-5.4 4.6M446.4 201.6l-0.9 -3.6M455.6 208.9l1.8 0.3M455.6 208.9l-5.7 4.5M455.6 208.9l-1.8 -6.1M453.8 202.9l4.1 -3.4"/><path stroke="#6fe16f" d="M323.6 295.8l-5.5 5M323.6 295.8l-2 -6.8M327.1 284l-5.5 4.9M405 309l7.6 1.8M331.4 227.8l7.3 1.4M408.6 296.9l7.5 1.8M412.2 284.6l7.5 1.9M358.7 220.3l-2 -6M407.2 262.8l-1.4 -7.3M403.2 241.4l-5.1 5.5"/><path stroke="#8ae155" d="M333.2 304.5l7.6 1.8M333.2 304.5l-2 -6.8M327.1 284l7.5 1.9M336.7 292.7l-5.5 4.9M333.1 260.6l-1.9 -7.1M389.9 305.4l1.9 6.6M327.6 239.7l6.9 1.6M395.5 300.3l-5.6 5.1M395.5 300.3l-1.9 -6.9M399.2 288.2l-5.6 5.2M403.1 275.7l-5.7 5.5M358.7 220.3l8.5 1.3M358.7 220.3l-6.4 4.8M399.3 254.2l-1.2 -7.3"/><path stroke="#93e14c" d="M340.8 306.3l1.7 5.7M336.7 292.7l-2.1 -6.8M330.3 272.4l7.3 2.1M382.3 303.6l7.6 1.8M399.2 288.2l-1.7 -6.9M394.8 267.5l6.8 1.2"/><path stroke="#9ce143" d="M336.7 292.7l7.6 1.9M346.4 301.3l-5.5 5M356 310l7.6 1.8M356 310l-2.3 2M356 310l-2 -6.8M363.6 311.8l0.1 0.2M339.9 281.3l-5.3 4.7M376.7 308.6l1 3.4M333.1 260.6l6.9 2.3M382.3 303.6l-5.6 5M386 291.8l7.5 1.6M340.1 235.7l-1.4 -6.6M369.5 227.3l-2.3 -5.8M391.5 245.2l6.6 1.7"/><path stroke="#a5e13b" d="M346.4 301.3l7.6 1.8M346.4 301.3l-2.1 -6.7M359.5 298.3l-5.6 4.9M369.1 306.8l7.6 1.8M369.1 306.8l-5.6 5M369.1 306.8l-2 -6.7M382.3 303.6l-2 -6.7M336.1 248.2l-5 5.3M386 291.8l-5.7 5.1M390.2 279.9l7.3 1.3M399.3 254.2l-5.5 6.1"/><path stroke="#b7e129" d="M339.9 281.3l7.6 2.1M359.5 298.3l-2.1 -6.5M342.4 270l-4.9 4.5M342.4 270l-2.5 -7.1M336.1 248.2l-1.5 -7M340.1 235.7l-5.5 5.5M390.2 279.9l-5.9 5.3M390.2 279.9l-1.3 -6.6M394.8 267.5l-5.9 5.9M381.4 235.7l-2.7 -6.6M391.5 245.2l-1.9 -7.4"/><path stroke="#ade131" d="M339.9 281.3l-2.3 -6.7M349.7 289.9l-5.5 4.7M359.5 298.3l7.6 1.8M372.8 295.2l7.6 1.7M372.8 295.2l-5.6 4.9M386 291.8l-1.7 -6.6M353.7 231.2l-1.5 -6.1M394.8 267.5l-1 -7.1M369.5 227.3l9.2 1.7"/><path stroke="#bfe120" d="M349.7 289.9l7.7 1.9M349.7 289.9l-2.3 -6.5M372.8 295.2l-1.9 -6.4M381.4 235.7l8.2 2.1"/><path stroke="#d0e10e" d="M342.4 270l7.6 2.5M352.7 279.1l-5.3 4.2M363 287.2l7.8 1.6M376.7 284l-5.9 4.8"/><path stroke="#e1c406" d="M352.7 279.1l8.1 2M353.7 231.2l8.7 1M353.7 231.2l-6.5 5.6"/><path stroke="#e1cf06" d="M352.7 279.1l-2.7 -6.5M363 287.2l-2.2 -6.1M376.7 284l-1.6 -6M391.5 245.2l-5.8 6.1"/><path stroke="#c8e118" d="M363 287.2l-5.6 4.5M344.8 257.8l-4.8 5.1M376.7 284l7.6 1.2M387 259.3l6.9 1.1"/><path stroke="#dad906" d="M336.1 248.2l6.7 1.8M340.1 235.7l7.1 1.1M381.6 272.6l7.4 0.8M369.5 227.3l-7 4.8"/><path stroke="#e1a606" d="M344.8 257.8l8 2.5"/><path stroke="#e1ba06" d="M344.8 257.8l-2 -7.8M381.6 272.6l-6.5 5.4M381.6 272.6l-1.2 -6.8M387 259.3l-6.6 6.5M387 259.3l-1.3 -8"/><path stroke="#e19206" d="M355.5 268.1l9 2.2M355.5 268.1l-2.8 -7.8M371.6 264.6l8.8 1.2"/><path stroke="#e1b006" d="M355.5 268.1l-5.5 4.5M366.8 276.7l8.3 1.2M366.8 276.7l-6 4.4"/><path stroke="#e19c06" d="M366.8 276.7l-2.3 -6.5M381.4 235.7l-6.8 5.5"/><path stroke="#e14006" d="M348.6 244l8.6 1.6M364.6 239.3l10 1.9"/><path stroke="#e18706" d="M348.6 244l-5.7 6M348.6 244l-1.4 -7.2"/><path stroke="#e12206" d="M359.4 254.2l10 2.1"/><path stroke="#e15506" d="M359.4 254.2l-6.6 6.1M371.6 264.6l-2.2 -8.3"/><path stroke="#d60d06" d="M359.4 254.2l-2.3 -8.6"/><path stroke="#e17d06" d="M371.6 264.6l-7 5.7M364.6 239.3l-2.2 -7.1"/><path stroke="#e11806" d="M364.6 239.3l-7.5 6.4"/><path stroke="#e17406" d="M377 249.5l8.7 1.8"/><path stroke="#e12c06" d="M377 249.5l-7.6 6.8"/><path stroke="#e13706" d="M377 249.5l-2.4 -8.4"/></g><path stroke="#222" stroke-width="0.8" d="M32.5 113.4l3.6 1.2M32.5 113.4l-2.8 2.5M32.5 113.4l-0.8 -3.7M36.9 118.3l-0.8 -3.7M30.1 102.2l3.6 1.2M34.5 107.1l3.6 1.2M34.5 107.1l-2.8 2.5M34.5 107.1l-0.8 -3.7M39 112l3.6 1.2M39 112l-2.8 2.5M39 112l-0.8 -3.7M43.4 116.9l3.6 1.2M43.4 116.9l-0.8 -3.7M32.2 95.9l3.6 1.2M32.2 95.9l-0.8 -3.7M36.6 100.8l3.6 1.2M36.6 100.8l-2.8 2.5M36.6 100.8l-0.8 -3.7M41 105.8l3.6 1.2M41 105.8l-2.8 2.5M41 105.8l-0.8 -3.7M45.4 110.7l3.6 1.2M45.4 110.7l-2.8 2.5M45.4 110.7l-0.8 -3.7M49.8 115.6l3.6 1.2M49.8 115.6l-2.8 2.5M49.8 115.6l-0.8 -3.7M54.2 120.5l-0.8 -3.7M29.8 84.8l3.6 1.2M34.2 89.7l3.6 1.2M34.2 89.7l-2.8 2.5M34.2 89.7l-0.8 -3.7M38.6 94.6l3.6 1.2M38.6 94.6l-2.8 2.5M38.6 94.6l-0.8 -3.7M43 99.5l3.6 1.2M43 99.5l-2.8 2.5M43 99.5l-0.8 -3.7M47.5 104.4l3.6 1.2M47.5 104.4l-2.8 2.5M47.5 104.4l-0.8 -3.7M51.9 109.3l3.6 1.2M51.9 109.3l-2.8 2.5M51.9 109.3l-0.8 -3.7M56.3 114.2l3.6 1.2M56.3 114.2l-2.8 2.5M56.3 114.2l-0.8 -3.7M60.7 119.1l3.6 1.2M60.7 119.1l-0.8 -3.7M31.8 78.5l3.6 1.2M31.8 78.5l-0.8 -3.7M36.2 83.4l3.6 1.2M36.2 83.4l-2.8 2.5M36.2 83.4l-0.8 -3.7M40.7 88.3l3.6 1.2M40.7 88.3l-2.8 2.5M40.7 88.3l-0.8 -3.7M45.1 93.2l3.6 1.2M45.1 93.2l-2.8 2.5M45.1 93.2l-0.8 -3.7M49.5 98.1l3.6 1.2M49.5 98.1l-2.8 2.5M49.5 98.1l-0.8 -3.7M53.9 103l3.6 1.2M53.9 103l-2.8 2.5M53.9 103l-0.8 -3.7M58.3 107.9l3.6 1.2M58.3 107.9l-2.8 2.5M58.3 107.9l-0.8 -3.7M62.7 112.8l3.6 1.2M62.7 112.8l-2.8 2.5M62.7 112.8l-0.8 -3.7M67.2 117.7l3.6 1.2M67.2 117.7l-2.8 2.5M67.2 117.7l-0.8 -3.7M33.9 72.2l3.6 1.2M33.9 72.2l-2.8 2.5M33.9 72.2l-0.8 -3.7M38.3 77.1l3.6 1.2M38.3 77.1l-2.8 2.5M38.3 77.1l-0.8 -3.7M42.7 82l3.6 1.2M42.7 82l-2.8 2.5M42.7 82l-0.8 -3.7M47.1 86.9l3.6 1.2M47.1 86.9l-2.8 2.5M47.1 86.9l-0.8 -3.7M51.5 91.8l3.6 1.2M51.5 91.8l-2.8 2.5M51.5 91.8l-0.8 -3.7M55.9 96.7l3.6 1.2M55.9 96.7l-2.8 2.5M55.9 96.7l-0.8 -3.7M60.4 101.6l3.6 1.2M60.4 101.6l-2.8 2.5M60.4 101.6l-0.8 -3.7M64.8 106.5l3.6 1.2M64.8 106.5l-2.8 2.5M64.8 106.5l-0.8 -3.7M69.2 111.4l3.6 1.2M69.2 111.4l-2.8 2.5M69.2 111.4l-0.8 -3.7M73.6 116.3l3.6 1.2M73.6 116.3l-2.8 2.5M73.6 116.3l-0.8 -3.7M78 121.3l-0.8 -3.7M31.5 61l3.6 1.2M31.5 61l-0.8 -3.7M35.9 65.9l3.6 1.2M35.9 65.9l-2.8 2.5M35.9 65.9l-0.8 -3.7M40.3 70.8l3.6 1.2M40.3 70.8l-2.8 2.5M40.3 70.8l-0.8 -3.7M44.7 75.7l3.6 1.2M44.7 75.7l-2.8 2.5M44.7 75.7l-0.8 -3.7M49.2 80.6l3.6 1.2M49.2 80.6l-2.8 2.5M49.2 80.6l-0.8 -3.7M53.6 85.5l3.6 1.2M53.6 85.5l-2.8 2.5M53.6 85.5l-0.8 -3.7M58 90.5l3.6 1.2M58 90.5l-2.8 2.5M58 90.5l-0.8 -3.7M62.4 95.4l3.6 1.2M62.4 95.4l-2.8 2.5M62.4 95.4l-0.8 -3.7M66.8 100.3l3.6 1.2M66.8 100.3l-2.8 2.5M66.8 100.3l-0.8 -3.7M71.2 105.2l3.6 1.2M71.2 105.2l-2.8 2.5M71.2 105.2l-0.8 -3.7M75.7 110.1l3.6 1.2M75.7 110.1l-2.8 2.5M75.7 110.1l-0.8 -3.7M80.1 115l3.6 1.2M80.1 115l-2.8 2.5M80.1 115l-0.8 -3.7M84.5 119.9l3.6 1.2M84.5 119.9l-0.8 -3.7M33.5 54.7l3.6 1.2M33.5 54.7l-2.8 2.5M33.5 54.7l-0.8 -3.7M37.9 59.7l3.6 1.2M37.9 59.7l-2.8 2.5M37.9 59.7l-0.8 -3.7M42.4 64.6l3.6 1.2M42.4 64.6l-2.8 2.5M42.4 64.6l-0.8 -3.7M46.8 69.5l3.6 1.2M46.8 69.5l-2.8 2.5M46.8 69.5l-0.8 -3.7M51.2 74.4l3.6 1.2M51.2 74.4l-2.8 2.5M51.2 74.4l-0.8 -3.7M55.6 79.3l3.6 1.2M55.6 79.3l-2.8 2.5M55.6 79.3l-0.8 -3.7M60 84.2l3.6 1.2M60 84.2l-2.8 2.5M60 84.2l-0.8 -3.7M64.4 89.1l3.6 1.2M64.4 89.1l-2.8 2.5M64.4 89.1l-0.8 -3.7M68.9 94l3.6 1.2M68.9 94l-2.8 2.5M68.9 94l-0.8 -3.7M73.3 98.9l3.6 1.2M73.3 98.9l-2.8 2.5M73.3 98.9l-0.8 -3.7M77.7 103.8l3.6 1.2M77.7 103.8l-2.8 2.5M77.7 103.8l-0.8 -3.7M82.1 108.7l3.6 1.2M82.1 108.7l-2.8 2.5M82.1 108.7l-0.8 -3.7M86.5 113.6l3.6 1.2M86.5 113.6l-2.8 2.5M86.5 113.6l-0.8 -3.7M90.9 118.5l3.6 1.2M90.9 118.5l-2.8 2.5M90.9 118.5l-0.8 -3.7M31.2 43.6l3.6 1.2M31.2 43.6l-0.8 -3.7M35.6 48.5l3.6 1.2M35.6 48.5l-2.8 2.5M35.6 48.5l-0.8 -3.7M40 53.4l3.6 1.2M40 53.4l-2.8 2.5M40 53.4l-0.8 -3.7M44.4 58.3l3.6 1.2M44.4 58.3l-2.8 2.5M44.4 58.3l-0.8 -3.7M48.8 63.2l3.6 1.2M48.8 63.2l-2.8 2.5M48.8 63.2l-0.8 -3.7M53.2 68.1l3.6 1.2M53.2 68.1l-2.8 2.5M53.2 68.1l-0.8 -3.7M57.7 73l3.6 1.2M57.7 73l-2.8 2.5M57.7 73l-0.8 -3.7M62.1 77.9l3.6 1.2M62.1 77.9l-2.8 2.5M62.1 77.9l-0.8 -3.7M66.5 82.8l3.6 1.2M66.5 82.8l-2.8 2.5M66.5 82.8l-0.8 -3.7M70.9 87.7l3.6 1.2M70.9 87.7l-2.8 2.5M70.9 87.7l-0.8 -3.7M75.3 92.6l3.6 1.2M75.3 92.6l-2.8 2.5M75.3 92.6l-0.8 -3.7M79.7 97.5l3.6 1.2M79.7 97.5l-2.8 2.5M79.7 97.5l-0.8 -3.7M84.1 102.4l3.6 1.2M84.1 102.4l-2.8 2.5M84.1 102.4l-0.8 -3.7M88.6 107.3l3.6 1.2M88.6 107.3l-2.8 2.5M88.6 107.3l-0.8 -3.7M93 112.2l3.6 1.2M93 112.2l-2.8 2.5M93 112.2l-0.8 -3.7M97.4 117.1l3.6 1.2M97.4 117.1l-2.8 2.5M97.4 117.1l-0.8 -3.7M101.8 122l-0.8 -3.7M33.2 37.3l3.6 1.2M33.2 37.3l-2.8 2.5M33.2 37.3l-0.8 -3.7M37.6 42.2l3.6 1.2M37.6 42.2l-2.8 2.5M37.6 42.2l-0.8 -3.7M42 47.1l3.6 1.2M42 47.1l-2.8 2.5M42 47.1l-0.8 -3.7M46.4 52l3.6 1.2M46.4 52l-2.8 2.5M46.4 52l-0.8 -3.7M50.9 56.9l3.6 1.2M50.9 56.9l-2.8 2.5M50.9 56.9l-0.8 -3.7M55.3 61.8l3.6 1.2M55.3 61.8l-2.8 2.5M55.3 61.8l-0.8 -3.7M59.7 66.7l3.6 1.2M59.7 66.7l-2.8 2.5M59.7 66.7l-0.8 -3.7M64.1 71.6l3.6 1.2M64.1 71.6l-2.8 2.5M64.1 71.6l-0.8 -3.7M68.5 76.5l3.6 1.2M68.5 76.5l-2.8 2.5M68.5 76.5l-0.8 -3.7M72.9 81.4l3.6 1.2M72.9 81.4l-2.8 2.5M72.9 81.4l-0.8 -3.7M77.4 86.3l3.6 1.2M77.4 86.3l-2.8 2.5M77.4 86.3l-0.8 -3.7M81.8 91.2l3.6 1.2M81.8 91.2l-2.8 2.5M81.8 91.2l-0.8 -3.7M86.2 96.1l3.6 1.2M86.2 96.1l-2.8 2.5M86.2 96.1l-0.8 -3.7M90.6 101.1l3.6 1.2M90.6 101.1l-2.8 2.5M90.6 101.1l-0.8 -3.7M95 106l3.6 1.2M95 106l-2.8 2.5M95 106l-0.8 -3.7M99.4 110.9l3.6 1.2M99.4 110.9l-2.8 2.5M99.4 110.9l-0.8 -3.7M103.9 115.8l3.6 1.2M103.9 115.8l-2.8 2.5M103.9 115.8l-0.8 -3.7M108.3 120.7l3.6 1.2M108.3 120.7l-0.8 -3.7M30.8 26.1l3.6 1.2M30.8 26.1l-0.8 -3.7M35.2 31l3.6 1.2M35.2 31l-2.8 2.5M35.2 31l-0.8 -3.7M39.6 35.9l3.6 1.2M39.6 35.9l-2.8 2.5M39.6 35.9l-0.8 -3.7M44.1 40.8l3.6 1.2M44.1 40.8l-2.8 2.5M44.1 40.8l-0.8 -3.7M48.5 45.7l3.6 1.2M48.5 45.7l-2.8 2.5M48.5 45.7l-0.8 -3.7M52.9 50.6l3.6 1.2M52.9 50.6l-2.8 2.5M52.9 50.6l-0.8 -3.7M57.3 55.5l3.6 1.2M57.3 55.5l-2.8 2.5M57.3 55.5l-0.8 -3.7M61.7 60.4l3.6 1.2M61.7 60.4l-2.8 2.5M61.7 60.4l-0.8 -3.7M66.1 65.3l3.6 1.2M66.1 65.3l-2.8 2.5M66.1 65.3l-0.8 -3.7M70.6 70.3l3.6 1.2M70.6 70.3l-2.8 2.5M70.6 70.3l-0.8 -3.7M75 75.2l3.6 1.2M75 75.2l-2.8 2.5M75 75.2l-0.8 -3.7M79.4 80.1l3.6 1.2M79.4 80.1l-2.8 2.5M79.4 80.1l-0.8 -3.7M83.8 85l3.6 1.2M83.8 85l-2.8 2.5M83.8 85l-0.8 -3.7M88.2 89.9l3.6 1.2M88.2 89.9l-2.8 2.5M88.2 89.9l-0.8 -3.7M92.6 94.8l3.6 1.2M92.6 94.8l-2.8 2.5M92.6 94.8l-0.8 -3.7M97.1 99.7l3.6 1.2M97.1 99.7l-2.8 2.5M97.1 99.7l-0.8 -3.7M101.5 104.6l3.6 1.2M101.5 104.6l-2.8 2.5M101.5 104.6l-0.8 -3.7M105.9 109.5l3.6 1.2M105.9 109.5l-2.8 2.5M105.9 109.5l-0.8 -3.7M110.3 114.4l3.6 1.2M110.3 114.4l-2.8 2.5M110.3 114.4l-0.8 -3.7M114.7 119.3l3.6 1.2M114.7 119.3l-2.8 2.5M114.7 119.3l-0.8 -3.7M32.9 19.8l3.6 1.2M32.9 19.8l-2.8 2.5M32.9 19.8l-0.8 -3.7M37.3 24.7l3.6 1.2M37.3 24.7l-2.8 2.5M37.3 24.7l-0.8 -3.7M41.7 29.6l3.6 1.2M41.7 29.6l-2.8 2.5M41.7 29.6l-0.8 -3.7M46.1 34.5l3.6 1.2M46.1 34.5l-2.8 2.5M46.1 34.5l-0.8 -3.7M50.5 39.4l3.6 1.2M50.5 39.4l-2.8 2.5M50.5 39.4l-0.8 -3.7M54.9 44.4l3.6 1.2M54.9 44.4l-2.8 2.5M54.9 44.4l-0.8 -3.7M59.4 49.3l3.6 1.2M59.4 49.3l-2.8 2.5M59.4 49.3l-0.8 -3.7M63.8 54.2l3.6 1.2M63.8 54.2l-2.8 2.5M63.8 54.2l-0.8 -3.7M68.2 59.1l3.6 1.2M68.2 59.1l-2.8 2.5M68.2 59.1l-0.8 -3.7M72.6 64l3.6 1.2M72.6 64l-2.8 2.5M72.6 64l-0.8 -3.7M77 68.9l3.6 1.2M77 68.9l-2.8 2.5M77 68.9l-0.8 -3.7M81.4 73.8l3.6 1.2M81.4 73.8l-2.8 2.5M81.4 73.8l-0.8 -3.7M85.8 78.7l3.6 1.2M85.8 78.7l-2.8 2.5M85.8 78.7l-0.8 -3.7M90.3 83.6l3.6 1.2M90.3 83.6l-2.8 2.5M90.3 83.6l-0.8 -3.7M94.7 88.5l3.6 1.2M94.7 88.5l-2.8 2.5M94.7 88.5l-0.8 -3.7M99.1 93.4l3.6 1.2M99.1 93.4l-2.8 2.5M99.1 93.4l-0.8 -3.7M103.5 98.3l3.6 1.2M103.5 98.3l-2.8 2.5M103.5 98.3l-0.8 -3.7M107.9 103.2l3.6 1.2M107.9 103.2l-2.8 2.5M107.9 103.2l-0.8 -3.7M112.3 108.1l3.6 1.2M112.3 108.1l-2.8 2.5M112.3 108.1l-0.8 -3.7M116.8 113l3.6 1.2M116.8 113l-2.8 2.5M116.8 113l-0.8 -3.7M121.2 117.9l3.6 1.2M121.2 117.9l-2.8 2.5M121.2 117.9l-0.8 -3.7M34.9 13.6l3.6 1.2M34.9 13.6l-2.8 2.5M34.9 13.6l-0.8 -3.7M39.3 18.5l3.6 1.2M39.3 18.5l-2.8 2.5M39.3 18.5l-0.8 -3.7M43.7 23.4l3.6 1.2M43.7 23.4l-2.8 2.5M43.7 23.4l-0.8 -3.7M48.1 28.3l3.6 1.2M48.1 28.3l-2.8 2.5M48.1 28.3l-0.8 -3.7M52.6 33.2l3.6 1.2M52.6 33.2l-2.8 2.5M52.6 33.2l-0.8 -3.7M57 38.1l3.6 1.2M57 38.1l-2.8 2.5M57 38.1l-0.8 -3.7M61.4 43l3.6 1.2M61.4 43l-2.8 2.5M61.4 43l-0.8 -3.7M65.8 47.9l3.6 1.2M65.8 47.9l-2.8 2.5M65.8 47.9l-0.8 -3.7M70.2 52.8l3.6 1.2M70.2 52.8l-2.8 2.5M70.2 52.8l-0.8 -3.7M74.6 57.7l3.6 1.2M74.6 57.7l-2.8 2.5M74.6 57.7l-0.8 -3.7M79.1 62.6l3.6 1.2M79.1 62.6l-2.8 2.5M79.1 62.6l-0.8 -3.7M83.5 67.5l3.6 1.2M83.5 67.5l-2.8 2.5M83.5 67.5l-0.8 -3.7M87.9 72.4l3.6 1.2M87.9 72.4l-2.8 2.5M87.9 72.4l-0.8 -3.7M92.3 77.3l3.6 1.2M92.3 77.3l-2.8 2.5M92.3 77.3l-0.8 -3.7M96.7 82.2l3.6 1.2M96.7 82.2l-2.8 2.5M96.7 82.2l-0.8 -3.7M101.1 87.1l3.6 1.2M101.1 87.1l-2.8 2.5M101.1 87.1l-0.8 -3.7M105.6 92l3.6 1.2M105.6 92l-2.8 2.5M105.6 92l-0.8 -3.7M110 96.9l3.6 1.2M110 96.9l-2.8 2.5M110 96.9l-0.8 -3.7M114.4 101.8l3.6 1.2M114.4 101.8l-2.8 2.5M114.4 101.8l-0.8 -3.7M118.8 106.7l3.6 1.2M118.8 106.7l-2.8 2.5M118.8 106.7l-0.8 -3.7M123.2 111.6l3.6 1.2M123.2 111.6l-2.8 2.5M123.2 111.6l-0.8 -3.7M127.6 116.6l3.6 1.2M127.6 116.6l-2.8 2.5M127.6 116.6l-0.8 -3.7M132.1 121.5l-0.8 -3.7M41.3 12.2l3.6 1.2M41.3 12.2l-2.8 2.5M45.8 17.1l3.6 1.2M45.8 17.1l-2.8 2.5M45.8 17.1l-0.8 -3.7M50.2 22l3.6 1.2M50.2 22l-2.8 2.5M50.2 22l-0.8 -3.7M54.6 26.9l3.6 1.2M54.6 26.9l-2.8 2.5M54.6 26.9l-0.8 -3.7M59 31.8l3.6 1.2M59 31.8l-2.8 2.5M59 31.8l-0.8 -3.7M63.4 36.7l3.6 1.2M63.4 36.7l-2.8 2.5M63.4 36.7l-0.8 -3.7M67.8 41.6l3.6 1.2M67.8 41.6l-2.8 2.5M67.8 41.6l-0.8 -3.7M72.3 46.5l3.6 1.2M72.3 46.5l-2.8 2.5M72.3 46.5l-0.8 -3.7M76.7 51.4l3.6 1.2M76.7 51.4l-2.8 2.5M76.7 51.4l-0.8 -3.7M81.1 56.3l3.6 1.2M81.1 56.3l-2.8 2.5M81.1 56.3l-0.8 -3.7M85.5 61.2l3.6 1.2M85.5 61.2l-2.8 2.5M85.5 61.2l-0.8 -3.7M89.9 66.1l3.6 1.2M89.9 66.1l-2.8 2.5M89.9 66.1l-0.8 -3.7M94.3 71l3.6 1.2M94.3 71l-2.8 2.5M94.3 71l-0.8 -3.7M98.8 75.9l3.6 1.2M98.8 75.9l-2.8 2.5M98.8 75.9l-0.8 -3.7M103.2 80.8l3.6 1.2M103.2 80.8l-2.8 2.5M103.2 80.8l-0.8 -3.7M107.6 85.8l3.6 1.2M107.6 85.8l-2.8 2.5M107.6 85.8l-0.8 -3.7M112 90.7l3.6 1.2M112 90.7l-2.8 2.5M112 90.7l-0.8 -3.7M116.4 95.6l3.6 1.2M116.4 95.6l-2.8 2.5M116.4 95.6l-0.8 -3.7M120.8 100.5l3.6 1.2M120.8 100.5l-2.8 2.5M120.8 100.5l-0.8 -3.7M125.3 105.4l3.6 1.2M125.3 105.4l-2.8 2.5M125.3 105.4l-0.8 -3.7M129.7 110.3l3.6 1.2M129.7 110.3l-2.8 2.5M129.7 110.3l-0.8 -3.7M134.1 115.2l3.6 1.2M134.1 115.2l-2.8 2.5M134.1 115.2l-0.8 -3.7M138.5 120.1l3.6 1.2M138.5 120.1l-0.8 -3.7M47.8 10.8l3.6 1.2M47.8 10.8l-2.8 2.5M52.2 15.7l3.6 1.2M52.2 15.7l-2.8 2.5M52.2 15.7l-0.8 -3.7M56.6 20.6l3.6 1.2M56.6 20.6l-2.8 2.5M56.6 20.6l-0.8 -3.7M61.1 25.5l3.6 1.2M61.1 25.5l-2.8 2.5M61.1 25.5l-0.8 -3.7M65.5 30.4l3.6 1.2M65.5 30.4l-2.8 2.5M65.5 30.4l-0.8 -3.7M69.9 35.3l3.6 1.2M69.9 35.3l-2.8 2.5M69.9 35.3l-0.8 -3.7M74.3 40.2l3.6 1.2M74.3 40.2l-2.8 2.5M74.3 40.2l-0.8 -3.7M78.7 45.1l3.6 1.2M78.7 45.1l-2.8 2.5M78.7 45.1l-0.8 -3.7M83.1 50l3.6 1.2M83.1 50l-2.8 2.5M83.1 50l-0.8 -3.7M87.6 55l3.6 1.2M87.6 55l-2.8 2.5M87.6 55l-0.8 -3.7M92 59.9l3.6 1.2M92 59.9l-2.8 2.5M92 59.9l-0.8 -3.7M96.4 64.8l3.6 1.2M96.4 64.8l-2.8 2.5M96.4 64.8l-0.8 -3.7M100.8 69.7l3.6 1.2M100.8 69.7l-2.8 2.5M100.8 69.7l-0.8 -3.7M105.2 74.6l3.6 1.2M105.2 74.6l-2.8 2.5M105.2 74.6l-0.8 -3.7M109.6 79.5l3.6 1.2M109.6 79.5l-2.8 2.5M109.6 79.5l-0.8 -3.7M114 84.4l3.6 1.2M114 84.4l-2.8 2.5M114 84.4l-0.8 -3.7M118.5 89.3l3.6 1.2M118.5 89.3l-2.8 2.5M118.5 89.3l-0.8 -3.7M122.9 94.2l3.6 1.2M122.9 94.2l-2.8 2.5M122.9 94.2l-0.8 -3.7M127.3 99.1l3.6 1.2M127.3 99.1l-2.8 2.5M127.3 99.1l-0.8 -3.7M131.7 104l3.6 1.2M131.7 104l-2.8 2.5M131.7 104l-0.8 -3.7M136.1 108.9l3.6 1.2M136.1 108.9l-2.8 2.5M136.1 108.9l-0.8 -3.7M140.5 113.8l3.6 1.2M140.5 113.8l-2.8 2.5M140.5 113.8l-0.8 -3.7M145 118.7l3.6 1.2M145 118.7l-2.8 2.5M145 118.7l-0.8 -3.7M54.3 9.4l3.6 1.2M54.3 9.4l-2.8 2.5M58.7 14.3l3.6 1.2M58.7 14.3l-2.8 2.5M58.7 14.3l-0.8 -3.7M63.1 19.2l3.6 1.2M63.1 19.2l-2.8 2.5M63.1 19.2l-0.8 -3.7M67.5 24.2l3.6 1.2M67.5 24.2l-2.8 2.5M67.5 24.2l-0.8 -3.7M71.9 29.1l3.6 1.2M71.9 29.1l-2.8 2.5M71.9 29.1l-0.8 -3.7M76.3 34l3.6 1.2M76.3 34l-2.8 2.5M76.3 34l-0.8 -3.7M80.8 38.9l3.6 1.2M80.8 38.9l-2.8 2.5M80.8 38.9l-0.8 -3.7M85.2 43.8l3.6 1.2M85.2 43.8l-2.8 2.5M85.2 43.8l-0.8 -3.7M89.6 48.7l3.6 1.2M89.6 48.7l-2.8 2.5M89.6 48.7l-0.8 -3.7M94 53.6l3.6 1.2M94 53.6l-2.8 2.5M94 53.6l-0.8 -3.7M98.4 58.5l3.6 1.2M98.4 58.5l-2.8 2.5M98.4 58.5l-0.8 -3.7M102.8 63.4l3.6 1.2M102.8 63.4l-2.8 2.5M102.8 63.4l-0.8 -3.7M107.3 68.3l3.6 1.2M107.3 68.3l-2.8 2.5M107.3 68.3l-0.8 -3.7M111.7 73.2l3.6 1.2M111.7 73.2l-2.8 2.5M111.7 73.2l-0.8 -3.7M116.1 78.1l3.6 1.2M116.1 78.1l-2.8 2.5M116.1 78.1l-0.8 -3.7M120.5 83l3.6 1.2M120.5 83l-2.8 2.5M120.5 83l-0.8 -3.7M124.9 87.9l3.6 1.2M124.9 87.9l-2.8 2.5M124.9 87.9l-0.8 -3.7M129.3 92.8l3.6 1.2M129.3 92.8l-2.8 2.5M129.3 92.8l-0.8 -3.7M133.8 97.7l3.6 1.2M133.8 97.7l-2.8 2.5M133.8 97.7l-0.8 -3.7M138.2 102.6l3.6 1.2M138.2 102.6l-2.8 2.5M138.2 102.6l-0.8 -3.7M142.6 107.5l3.6 1.2M142.6 107.5l-2.8 2.5M142.6 107.5l-0.8 -3.7M147 112.4l3.6 1.2M147 112.4l-2.8 2.5M147 112.4l-0.8 -3.7M151.4 117.3l3.6 1.2M151.4 117.3l-2.8 2.5M151.4 117.3l-0.8 -3.7M155.8 122.2l-0.8 -3.7M65.1 13l3.6 1.2M65.1 13l-2.8 2.5M65.1 13l-0.8 -3.7M69.5 17.9l3.6 1.2M69.5 17.9l-2.8 2.5M69.5 17.9l-0.8 -3.7M74 22.8l3.6 1.2M74 22.8l-2.8 2.5M74 22.8l-0.8 -3.7M78.4 27.7l3.6 1.2M78.4 27.7l-2.8 2.5M78.4 27.7l-0.8 -3.7M82.8 32.6l3.6 1.2M82.8 32.6l-2.8 2.5M82.8 32.6l-0.8 -3.7M87.2 37.5l3.6 1.2M87.2 37.5l-2.8 2.5M87.2 37.5l-0.8 -3.7M91.6 42.4l3.6 1.2M91.6 42.4l-2.8 2.5M91.6 42.4l-0.8 -3.7M96 47.3l3.6 1.2M96 47.3l-2.8 2.5M96 47.3l-0.8 -3.7M100.5 52.2l3.6 1.2M100.5 52.2l-2.8 2.5M100.5 52.2l-0.8 -3.7M104.9 57.1l3.6 1.2M104.9 57.1l-2.8 2.5M104.9 57.1l-0.8 -3.7M109.3 62l3.6 1.2M109.3 62l-2.8 2.5M109.3 62l-0.8 -3.7M113.7 66.9l3.6 1.2M113.7 66.9l-2.8 2.5M113.7 66.9l-0.8 -3.7M118.1 71.8l3.6 1.2M118.1 71.8l-2.8 2.5M118.1 71.8l-0.8 -3.7M122.5 76.7l3.6 1.2M122.5 76.7l-2.8 2.5M122.5 76.7l-0.8 -3.7M127 81.6l3.6 1.2M127 81.6l-2.8 2.5M127 81.6l-0.8 -3.7M131.4 86.5l3.6 1.2M131.4 86.5l-2.8 2.5M131.4 86.5l-0.8 -3.7M135.8 91.4l3.6 1.2M135.8 91.4l-2.8 2.5M135.8 91.4l-0.8 -3.7M140.2 96.4l3.6 1.2M140.2 96.4l-2.8 2.5M140.2 96.4l-0.8 -3.7M144.6 101.3l3.6 1.2M144.6 101.3l-2.8 2.5M144.6 101.3l-0.8 -3.7M149 106.2l3.6 1.2M149 106.2l-2.8 2.5M149 106.2l-0.8 -3.7M153.5 111.1l3.6 1.2M153.5 111.1l-2.8 2.5M153.5 111.1l-0.8 -3.7M157.9 116l3.6 1.2M157.9 116l-2.8 2.5M157.9 116l-0.8 -3.7M162.3 120.9l3.6 1.2M162.3 120.9l-0.8 -3.7M71.6 11.6l3.6 1.2M71.6 11.6l-2.8 2.5M71.6 11.6l-0.8 -3.7M76 16.5l3.6 1.2M76 16.5l-2.8 2.5M76 16.5l-0.8 -3.7M80.4 21.4l3.6 1.2M80.4 21.4l-2.8 2.5M80.4 21.4l-0.8 -3.7M84.8 26.3l3.6 1.2M84.8 26.3l-2.8 2.5M84.8 26.3l-0.8 -3.7M89.3 31.2l3.6 1.2M89.3 31.2l-2.8 2.5M89.3 31.2l-0.8 -3.7M93.7 36.1l3.6 1.2M93.7 36.1l-2.8 2.5M93.7 36.1l-0.8 -3.7M98.1 41l3.6 1.2M98.1 41l-2.8 2.5M98.1 41l-0.8 -3.7M102.5 45.9l3.6 1.2M102.5 45.9l-2.8 2.5M102.5 45.9l-0.8 -3.7M106.9 50.8l3.6 1.2M106.9 50.8l-2.8 2.5M106.9 50.8l-0.8 -3.7M111.3 55.7l3.6 1.2M111.3 55.7l-2.8 2.5M111.3 55.7l-0.8 -3.7M115.8 60.6l3.6 1.2M115.8 60.6l-2.8 2.5M115.8 60.6l-0.8 -3.7M120.2 65.5l3.6 1.2M120.2 65.5l-2.8 2.5M120.2 65.5l-0.8 -3.7M124.6 70.5l3.6 1.2M124.6 70.5l-2.8 2.5M124.6 70.5l-0.8 -3.7M129 75.4l3.6 1.2M129 75.4l-2.8 2.5M129 75.4l-0.8 -3.7M133.4 80.3l3.6 1.2M133.4 80.3l-2.8 2.5M133.4 80.3l-0.8 -3.7M137.8 85.2l3.6 1.2M137.8 85.2l-2.8 2.5M137.8 85.2l-0.8 -3.7M142.2 90.1l3.6 1.2M142.2 90.1l-2.8 2.5M142.2 90.1l-0.8 -3.7M146.7 95l3.6 1.2M146.7 95l-2.8 2.5M146.7 95l-0.8 -3.7M151.1 99.9l3.6 1.2M151.1 99.9l-2.8 2.5M151.1 99.9l-0.8 -3.7M155.5 104.8l3.6 1.2M155.5 104.8l-2.8 2.5M155.5 104.8l-0.8 -3.7M159.9 109.7l3.6 1.2M159.9 109.7l-2.8 2.5M159.9 109.7l-0.8 -3.7M164.3 114.6l3.6 1.2M164.3 114.6l-2.8 2.5M164.3 114.6l-0.8 -3.7M168.7 119.5l3.6 1.2M168.7 119.5l-2.8 2.5M168.7 119.5l-0.8 -3.7M78 10.2l3.6 1.2M78 10.2l-2.8 2.5M78 10.2l-0.8 -3.7M82.5 15.1l3.6 1.2M82.5 15.1l-2.8 2.5M82.5 15.1l-0.8 -3.7M86.9 20l3.6 1.2M86.9 20l-2.8 2.5M86.9 20l-0.8 -3.7M91.3 24.9l3.6 1.2M91.3 24.9l-2.8 2.5M91.3 24.9l-0.8 -3.7M95.7 29.8l3.6 1.2M95.7 29.8l-2.8 2.5M95.7 29.8l-0.8 -3.7M100.1 34.7l3.6 1.2M100.1 34.7l-2.8 2.5M100.1 34.7l-0.8 -3.7M104.5 39.7l3.6 1.2M104.5 39.7l-2.8 2.5M104.5 39.7l-0.8 -3.7M109 44.6l3.6 1.2M109 44.6l-2.8 2.5M109 44.6l-0.8 -3.7M113.4 49.5l3.6 1.2M113.4 49.5l-2.8 2.5M113.4 49.5l-0.8 -3.7M117.8 54.4l3.6 1.2M117.8 54.4l-2.8 2.5M117.8 54.4l-0.8 -3.7M122.2 59.3l3.6 1.2M122.2 59.3l-2.8 2.5M122.2 59.3l-0.8 -3.7M126.6 64.2l3.6 1.2M126.6 64.2l-2.8 2.5M126.6 64.2l-0.8 -3.7M131 69.1l3.6 1.2M131 69.1l-2.8 2.5M131 69.1l-0.8 -3.7M135.5 74l3.6 1.2M135.5 74l-2.8 2.5M135.5 74l-0.8 -3.7M139.9 78.9l3.6 1.2M139.9 78.9l-2.8 2.5M139.9 78.9l-0.8 -3.7M144.3 83.8l3.6 1.2M144.3 83.8l-2.8 2.5M144.3 83.8l-0.8 -3.7M148.7 88.7l3.6 1.2M148.7 88.7l-2.8 2.5M148.7 88.7l-0.8 -3.7M153.1 93.6l3.6 1.2M153.1 93.6l-2.8 2.5M153.1 93.6l-0.8 -3.7M157.5 98.5l3.6 1.2M157.5 98.5l-2.8 2.5M157.5 98.5l-0.8 -3.7M162 103.4l3.6 1.2M162 103.4l-2.8 2.5M162 103.4l-0.8 -3.7M166.4 108.3l3.6 1.2M166.4 108.3l-2.8 2.5M166.4 108.3l-0.8 -3.7M170.8 113.2l3.6 1.2M170.8 113.2l-2.8 2.5M170.8 113.2l-0.8 -3.7M175.2 118.1l3.6 1.2M175.2 118.1l-2.8 2.5M175.2 118.1l-0.8 -3.7M84.5 8.9l3.6 1.2M84.5 8.9l-2.8 2.5M84.5 8.9l-0.8 -3.7M88.9 13.8l3.6 1.2M88.9 13.8l-2.8 2.5M88.9 13.8l-0.8 -3.7M93.3 18.7l3.6 1.2M93.3 18.7l-2.8 2.5M93.3 18.7l-0.8 -3.7M97.7 23.6l3.6 1.2M97.7 23.6l-2.8 2.5M97.7 23.6l-0.8 -3.7M102.2 28.5l3.6 1.2M102.2 28.5l-2.8 2.5M102.2 28.5l-0.8 -3.7M106.6 33.4l3.6 1.2M106.6 33.4l-2.8 2.5M106.6 33.4l-0.8 -3.7M111 38.3l3.6 1.2M111 38.3l-2.8 2.5M111 38.3l-0.8 -3.7M115.4 43.2l3.6 1.2M115.4 43.2l-2.8 2.5M115.4 43.2l-0.8 -3.7M119.8 48.1l3.6 1.2M119.8 48.1l-2.8 2.5M119.8 48.1l-0.8 -3.7M124.2 53l3.6 1.2M124.2 53l-2.8 2.5M124.2 53l-0.8 -3.7M128.7 57.9l3.6 1.2M128.7 57.9l-2.8 2.5M128.7 57.9l-0.8 -3.7M133.1 62.8l3.6 1.2M133.1 62.8l-2.8 2.5M133.1 62.8l-0.8 -3.7M137.5 67.7l3.6 1.2M137.5 67.7l-2.8 2.5M137.5 67.7l-0.8 -3.7M141.9 72.6l3.6 1.2M141.9 72.6l-2.8 2.5M141.9 72.6l-0.8 -3.7M146.3 77.5l3.6 1.2M146.3 77.5l-2.8 2.5M146.3 77.5l-0.8 -3.7M150.7 82.4l3.6 1.2M150.7 82.4l-2.8 2.5M150.7 82.4l-0.8 -3.7M155.2 87.3l3.6 1.2M155.2 87.3l-2.8 2.5M155.2 87.3l-0.8 -3.7M159.6 92.2l3.6 1.2M159.6 92.2l-2.8 2.5M159.6 92.2l-0.8 -3.7M164 97.1l3.6 1.2M164 97.1l-2.8 2.5M164 97.1l-0.8 -3.7M168.4 102l3.6 1.2M168.4 102l-2.8 2.5M168.4 102l-0.8 -3.7M172.8 106.9l3.6 1.2M172.8 106.9l-2.8 2.5M172.8 106.9l-0.8 -3.7M177.2 111.9l3.6 1.2M177.2 111.9l-2.8 2.5M177.2 111.9l-0.8 -3.7M181.7 116.8l3.6 1.2M181.7 116.8l-2.8 2.5M181.7 116.8l-0.8 -3.7M186.1 121.7l-0.8 -3.7M91 7.5l3.6 1.2M91 7.5l-2.8 2.5M95.4 12.4l3.6 1.2M95.4 12.4l-2.8 2.5M95.4 12.4l-0.8 -3.7M99.8 17.3l3.6 1.2M99.8 17.3l-2.8 2.5M99.8 17.3l-0.8 -3.7M104.2 22.2l3.6 1.2M104.2 22.2l-2.8 2.5M104.2 22.2l-0.8 -3.7M108.6 27.1l3.6 1.2M108.6 27.1l-2.8 2.5M108.6 27.1l-0.8 -3.7M113 32l3.6 1.2M113 32l-2.8 2.5M113 32l-0.8 -3.7M117.5 36.9l3.6 1.2M117.5 36.9l-2.8 2.5M117.5 36.9l-0.8 -3.7M121.9 41.8l3.6 1.2M121.9 41.8l-2.8 2.5M121.9 41.8l-0.8 -3.7M126.3 46.7l3.6 1.2M126.3 46.7l-2.8 2.5M126.3 46.7l-0.8 -3.7M130.7 51.6l3.6 1.2M130.7 51.6l-2.8 2.5M130.7 51.6l-0.8 -3.7M135.1 56.5l3.6 1.2M135.1 56.5l-2.8 2.5M135.1 56.5l-0.8 -3.7M139.5 61.4l3.6 1.2M139.5 61.4l-2.8 2.5M139.5 61.4l-0.8 -3.7M144 66.3l3.6 1.2M144 66.3l-2.8 2.5M144 66.3l-0.8 -3.7M148.4 71.2l3.6 1.2M148.4 71.2l-2.8 2.5M148.4 71.2l-0.8 -3.7M152.8 76.1l3.6 1.2M152.8 76.1l-2.8 2.5M152.8 76.1l-0.8 -3.7M157.2 81.1l3.6 1.2M157.2 81.1l-2.8 2.5M157.2 81.1l-0.8 -3.7M161.6 86l3.6 1.2M161.6 86l-2.8 2.5M161.6 86l-0.8 -3.7M166 90.9l3.6 1.2M166 90.9l-2.8 2.5M166 90.9l-0.8 -3.7M170.4 95.8l3.6 1.2M170.4 95.8l-2.8 2.5M170.4 95.8l-0.8 -3.7M174.9 100.7l3.6 1.2M174.9 100.7l-2.8 2.5M174.9 100.7l-0.8 -3.7M179.3 105.6l3.6 1.2M179.3 105.6l-2.8 2.5M179.3 105.6l-0.8 -3.7M183.7 110.5l3.6 1.2M183.7 110.5l-2.8 2.5M183.7 110.5l-0.8 -3.7M188.1 115.4l3.6 1.2M188.1 115.4l-2.8 2.5M188.1 115.4l-0.8 -3.7M192.5 120.3l3.6 1.2M192.5 120.3l-0.8 -3.7M97.4 6.1l3.6 1.2M97.4 6.1l-2.8 2.5M101.8 11l3.6 1.2M101.8 11l-2.8 2.5M101.8 11l-0.8 -3.7M106.2 15.9l3.6 1.2M106.2 15.9l-2.8 2.5M106.2 15.9l-0.8 -3.7M110.7 20.8l3.6 1.2M110.7 20.8l-2.8 2.5M110.7 20.8l-0.8 -3.7M115.1 25.7l3.6 1.2M115.1 25.7l-2.8 2.5M115.1 25.7l-0.8 -3.7M119.5 30.6l3.6 1.2M119.5 30.6l-2.8 2.5M119.5 30.6l-0.8 -3.7M123.9 35.5l3.6 1.2M123.9 35.5l-2.8 2.5M123.9 35.5l-0.8 -3.7M128.3 40.4l3.6 1.2M128.3 40.4l-2.8 2.5M128.3 40.4l-0.8 -3.7M132.7 45.3l3.6 1.2M132.7 45.3l-2.8 2.5M132.7 45.3l-0.8 -3.7M137.2 50.3l3.6 1.2M137.2 50.3l-2.8 2.5M137.2 50.3l-0.8 -3.7M141.6 55.2l3.6 1.2M141.6 55.2l-2.8 2.5M141.6 55.2l-0.8 -3.7M146 60.1l3.6 1.2M146 60.1l-2.8 2.5M146 60.1l-0.8 -3.7M150.4 65l3.6 1.2M150.4 65l-2.8 2.5M150.4 65l-0.8 -3.7M154.8 69.9l3.6 1.2M154.8 69.9l-2.8 2.5M154.8 69.9l-0.8 -3.7M159.2 74.8l3.6 1.2M159.2 74.8l-2.8 2.5M159.2 74.8l-0.8 -3.7M163.7 79.7l3.6 1.2M163.7 79.7l-2.8 2.5M163.7 79.7l-0.8 -3.7M168.1 84.6l3.6 1.2M168.1 84.6l-2.8 2.5M168.1 84.6l-0.8 -3.7M172.5 89.5l3.6 1.2M172.5 89.5l-2.8 2.5M172.5 89.5l-0.8 -3.7M176.9 94.4l3.6 1.2M176.9 94.4l-2.8 2.5M176.9 94.4l-0.8 -3.7M181.3 99.3l3.6 1.2M181.3 99.3l-2.8 2.5M181.3 99.3l-0.8 -3.7M185.7 104.2l3.6 1.2M185.7 104.2l-2.8 2.5M185.7 104.2l-0.8 -3.7M190.2 109.1l3.6 1.2M190.2 109.1l-2.8 2.5M190.2 109.1l-0.8 -3.7M194.6 114l3.6 1.2M194.6 114l-2.8 2.5M194.6 114l-0.8 -3.7M199 118.9l3.6 1.2M199 118.9l-2.8 2.5M199 118.9l-0.8 -3.7M103.9 4.7l3.6 1.2M103.9 4.7l-2.8 2.5M108.3 9.6l3.6 1.2M108.3 9.6l-2.8 2.5M108.3 9.6l-0.8 -3.7M112.7 14.5l3.6 1.2M112.7 14.5l-2.8 2.5M112.7 14.5l-0.8 -3.7M117.1 19.5l3.6 1.2M117.1 19.5l-2.8 2.5M117.1 19.5l-0.8 -3.7M121.5 24.4l3.6 1.2M121.5 24.4l-2.8 2.5M121.5 24.4l-0.8 -3.7M125.9 29.3l3.6 1.2M125.9 29.3l-2.8 2.5M125.9 29.3l-0.8 -3.7M130.4 34.2l3.6 1.2M130.4 34.2l-2.8 2.5M130.4 34.2l-0.8 -3.7M134.8 39.1l3.6 1.2M134.8 39.1l-2.8 2.5M134.8 39.1l-0.8 -3.7M139.2 44l3.6 1.2M139.2 44l-2.8 2.5M139.2 44l-0.8 -3.7M143.6 48.9l3.6 1.2M143.6 48.9l-2.8 2.5M143.6 48.9l-0.8 -3.7M148 53.8l3.6 1.2M148 53.8l-2.8 2.5M148 53.8l-0.8 -3.7M152.4 58.7l3.6 1.2M152.4 58.7l-2.8 2.5M152.4 58.7l-0.8 -3.7M156.9 63.6l3.6 1.2M156.9 63.6l-2.8 2.5M156.9 63.6l-0.8 -3.7M161.3 68.5l3.6 1.2M161.3 68.5l-2.8 2.5M161.3 68.5l-0.8 -3.7M165.7 73.4l3.6 1.2M165.7 73.4l-2.8 2.5M165.7 73.4l-0.8 -3.7M170.1 78.3l3.6 1.2M170.1 78.3l-2.8 2.5M170.1 78.3l-0.8 -3.7M174.5 83.2l3.6 1.2M174.5 83.2l-2.8 2.5M174.5 83.2l-0.8 -3.7M178.9 88.1l3.6 1.2M178.9 88.1l-2.8 2.5M178.9 88.1l-0.8 -3.7M183.4 93l3.6 1.2M183.4 93l-2.8 2.5M183.4 93l-0.8 -3.7M187.8 97.9l3.6 1.2M187.8 97.9l-2.8 2.5M187.8 97.9l-0.8 -3.7M192.2 102.8l3.6 1.2M192.2 102.8l-2.8 2.5M192.2 102.8l-0.8 -3.7M196.6 107.7l3.6 1.2M196.6 107.7l-2.8 2.5M196.6 107.7l-0.8 -3.7M201 112.6l3.6 1.2M201 112.6l-2.8 2.5M201 112.6l-0.8 -3.7M205.4 117.5l3.6 1.2M205.4 117.5l-2.8 2.5M205.4 117.5l-0.8 -3.7M114.7 8.3l3.6 1.2M114.7 8.3l-2.8 2.5M119.2 13.2l3.6 1.2M119.2 13.2l-2.8 2.5M119.2 13.2l-0.8 -3.7M123.6 18.1l3.6 1.2M123.6 18.1l-2.8 2.5M123.6 18.1l-0.8 -3.7M128 23l3.6 1.2M128 23l-2.8 2.5M128 23l-0.8 -3.7M132.4 27.9l3.6 1.2M132.4 27.9l-2.8 2.5M132.4 27.9l-0.8 -3.7M136.8 32.8l3.6 1.2M136.8 32.8l-2.8 2.5M136.8 32.8l-0.8 -3.7M141.2 37.7l3.6 1.2M141.2 37.7l-2.8 2.5M141.2 37.7l-0.8 -3.7M145.7 42.6l3.6 1.2M145.7 42.6l-2.8 2.5M145.7 42.6l-0.8 -3.7M150.1 47.5l3.6 1.2M150.1 47.5l-2.8 2.5M150.1 47.5l-0.8 -3.7M154.5 52.4l3.6 1.2M154.5 52.4l-2.8 2.5M154.5 52.4l-0.8 -3.7M158.9 57.3l3.6 1.2M158.9 57.3l-2.8 2.5M158.9 57.3l-0.8 -3.7M163.3 62.2l3.6 1.2M163.3 62.2l-2.8 2.5M163.3 62.2l-0.8 -3.7M167.7 67.1l3.6 1.2M167.7 67.1l-2.8 2.5M167.7 67.1l-0.8 -3.7M172.2 72l3.6 1.2M172.2 72l-2.8 2.5M172.2 72l-0.8 -3.7M176.6 76.9l3.6 1.2M176.6 76.9l-2.8 2.5M176.6 76.9l-0.8 -3.7M181 81.8l3.6 1.2M181 81.8l-2.8 2.5M181 81.8l-0.8 -3.7M185.4 86.7l3.6 1.2M185.4 86.7l-2.8 2.5M185.4 86.7l-0.8 -3.7M189.8 91.6l3.6 1.2M189.8 91.6l-2.8 2.5M189.8 91.6l-0.8 -3.7M194.2 96.6l3.6 1.2M194.2 96.6l-2.8 2.5M194.2 96.6l-0.8 -3.7M198.6 101.5l3.6 1.2M198.6 101.5l-2.8 2.5M198.6 101.5l-0.8 -3.7M203.1 106.4l3.6 1.2M203.1 106.4l-2.8 2.5M203.1 106.4l-0.8 -3.7M207.5 111.3l3.6 1.2M207.5 111.3l-2.8 2.5M207.5 111.3l-0.8 -3.7M211.9 116.2l-2.8 2.5M211.9 116.2l-0.8 -3.7M130 16.7l3.6 1.2M130 16.7l-2.8 2.5M130 16.7l-0.8 -3.7M134.4 21.6l3.6 1.2M134.4 21.6l-2.8 2.5M134.4 21.6l-0.8 -3.7M138.9 26.5l3.6 1.2M138.9 26.5l-2.8 2.5M138.9 26.5l-0.8 -3.7M143.3 31.4l3.6 1.2M143.3 31.4l-2.8 2.5M143.3 31.4l-0.8 -3.7M147.7 36.3l3.6 1.2M147.7 36.3l-2.8 2.5M147.7 36.3l-0.8 -3.7M152.1 41.2l3.6 1.2M152.1 41.2l-2.8 2.5M152.1 41.2l-0.8 -3.7M156.5 46.1l3.6 1.2M156.5 46.1l-2.8 2.5M156.5 46.1l-0.8 -3.7M160.9 51l3.6 1.2M160.9 51l-2.8 2.5M160.9 51l-0.8 -3.7M165.4 55.9l3.6 1.2M165.4 55.9l-2.8 2.5M165.4 55.9l-0.8 -3.7M169.8 60.8l3.6 1.2M169.8 60.8l-2.8 2.5M169.8 60.8l-0.8 -3.7M174.2 65.8l3.6 1.2M174.2 65.8l-2.8 2.5M174.2 65.8l-0.8 -3.7M178.6 70.7l3.6 1.2M178.6 70.7l-2.8 2.5M178.6 70.7l-0.8 -3.7M183 75.6l3.6 1.2M183 75.6l-2.8 2.5M183 75.6l-0.8 -3.7M187.4 80.5l3.6 1.2M187.4 80.5l-2.8 2.5M187.4 80.5l-0.8 -3.7M191.9 85.4l3.6 1.2M191.9 85.4l-2.8 2.5M191.9 85.4l-0.8 -3.7M196.3 90.3l3.6 1.2M196.3 90.3l-2.8 2.5M196.3 90.3l-0.8 -3.7M200.7 95.2l3.6 1.2M200.7 95.2l-2.8 2.5M200.7 95.2l-0.8 -3.7M205.1 100.1l3.6 1.2M205.1 100.1l-2.8 2.5M205.1 100.1l-0.8 -3.7M209.5 105l3.6 1.2M209.5 105l-2.8 2.5M209.5 105l-0.8 -3.7M213.9 109.9l-2.8 2.5M213.9 109.9l-0.8 -3.7M136.5 15.3l3.6 1.2M136.5 15.3l-2.8 2.5M140.9 20.2l3.6 1.2M140.9 20.2l-2.8 2.5M140.9 20.2l-0.8 -3.7M145.3 25.1l3.6 1.2M145.3 25.1l-2.8 2.5M145.3 25.1l-0.8 -3.7M149.7 30l3.6 1.2M149.7 30l-2.8 2.5M149.7 30l-0.8 -3.7M154.1 35l3.6 1.2M154.1 35l-2.8 2.5M154.1 35l-0.8 -3.7M158.6 39.9l3.6 1.2M158.6 39.9l-2.8 2.5M158.6 39.9l-0.8 -3.7M163 44.8l3.6 1.2M163 44.8l-2.8 2.5M163 44.8l-0.8 -3.7M167.4 49.7l3.6 1.2M167.4 49.7l-2.8 2.5M167.4 49.7l-0.8 -3.7M171.8 54.6l3.6 1.2M171.8 54.6l-2.8 2.5M171.8 54.6l-0.8 -3.7M176.2 59.5l3.6 1.2M176.2 59.5l-2.8 2.5M176.2 59.5l-0.8 -3.7M180.6 64.4l3.6 1.2M180.6 64.4l-2.8 2.5M180.6 64.4l-0.8 -3.7M185.1 69.3l3.6 1.2M185.1 69.3l-2.8 2.5M185.1 69.3l-0.8 -3.7M189.5 74.2l3.6 1.2M189.5 74.2l-2.8 2.5M189.5 74.2l-0.8 -3.7M193.9 79.1l3.6 1.2M193.9 79.1l-2.8 2.5M193.9 79.1l-0.8 -3.7M198.3 84l3.6 1.2M198.3 84l-2.8 2.5M198.3 84l-0.8 -3.7M202.7 88.9l3.6 1.2M202.7 88.9l-2.8 2.5M202.7 88.9l-0.8 -3.7M207.1 93.8l3.6 1.2M207.1 93.8l-2.8 2.5M207.1 93.8l-0.8 -3.7M211.6 98.7l-2.8 2.5M211.6 98.7l-0.8 -3.7M142.9 14l3.6 1.2M142.9 14l-2.8 2.5M147.4 18.9l3.6 1.2M147.4 18.9l-2.8 2.5M147.4 18.9l-0.8 -3.7M151.8 23.8l3.6 1.2M151.8 23.8l-2.8 2.5M151.8 23.8l-0.8 -3.7M156.2 28.7l3.6 1.2M156.2 28.7l-2.8 2.5M156.2 28.7l-0.8 -3.7M160.6 33.6l3.6 1.2M160.6 33.6l-2.8 2.5M160.6 33.6l-0.8 -3.7M165 38.5l3.6 1.2M165 38.5l-2.8 2.5M165 38.5l-0.8 -3.7M169.4 43.4l3.6 1.2M169.4 43.4l-2.8 2.5M169.4 43.4l-0.8 -3.7M173.9 48.3l3.6 1.2M173.9 48.3l-2.8 2.5M173.9 48.3l-0.8 -3.7M178.3 53.2l3.6 1.2M178.3 53.2l-2.8 2.5M178.3 53.2l-0.8 -3.7M182.7 58.1l3.6 1.2M182.7 58.1l-2.8 2.5M182.7 58.1l-0.8 -3.7M187.1 63l3.6 1.2M187.1 63l-2.8 2.5M187.1 63l-0.8 -3.7M191.5 67.9l3.6 1.2M191.5 67.9l-2.8 2.5M191.5 67.9l-0.8 -3.7M195.9 72.8l3.6 1.2M195.9 72.8l-2.8 2.5M195.9 72.8l-0.8 -3.7M200.4 77.7l3.6 1.2M200.4 77.7l-2.8 2.5M200.4 77.7l-0.8 -3.7M204.8 82.6l3.6 1.2M204.8 82.6l-2.8 2.5M204.8 82.6l-0.8 -3.7M209.2 87.5l3.6 1.2M209.2 87.5l-2.8 2.5M209.2 87.5l-0.8 -3.7M213.6 92.4l-2.8 2.5M213.6 92.4l-0.8 -3.7M153.8 17.5l3.6 1.2M153.8 17.5l-2.8 2.5M153.8 17.5l-0.8 -3.7M158.2 22.4l3.6 1.2M158.2 22.4l-2.8 2.5M158.2 22.4l-0.8 -3.7M162.6 27.3l3.6 1.2M162.6 27.3l-2.8 2.5M162.6 27.3l-0.8 -3.7M167.1 32.2l3.6 1.2M167.1 32.2l-2.8 2.5M167.1 32.2l-0.8 -3.7M171.5 37.1l3.6 1.2M171.5 37.1l-2.8 2.5M171.5 37.1l-0.8 -3.7M175.9 42l3.6 1.2M175.9 42l-2.8 2.5M175.9 42l-0.8 -3.7M180.3 46.9l3.6 1.2M180.3 46.9l-2.8 2.5M180.3 46.9l-0.8 -3.7M184.7 51.8l3.6 1.2M184.7 51.8l-2.8 2.5M184.7 51.8l-0.8 -3.7M189.1 56.7l3.6 1.2M189.1 56.7l-2.8 2.5M189.1 56.7l-0.8 -3.7M193.6 61.6l3.6 1.2M193.6 61.6l-2.8 2.5M193.6 61.6l-0.8 -3.7M198 66.5l3.6 1.2M198 66.5l-2.8 2.5M198 66.5l-0.8 -3.7M202.4 71.4l3.6 1.2M202.4 71.4l-2.8 2.5M202.4 71.4l-0.8 -3.7M206.8 76.4l3.6 1.2M206.8 76.4l-2.8 2.5M206.8 76.4l-0.8 -3.7M211.2 81.3l3.6 1.2M211.2 81.3l-2.8 2.5M211.2 81.3l-0.8 -3.7M160.3 16.1l3.6 1.2M160.3 16.1l-2.8 2.5M164.7 21l3.6 1.2M164.7 21l-2.8 2.5M164.7 21l-0.8 -3.7M169.1 25.9l3.6 1.2M169.1 25.9l-2.8 2.5M169.1 25.9l-0.8 -3.7M173.5 30.8l3.6 1.2M173.5 30.8l-2.8 2.5M173.5 30.8l-0.8 -3.7M177.9 35.7l3.6 1.2M177.9 35.7l-2.8 2.5M177.9 35.7l-0.8 -3.7M182.3 40.6l3.6 1.2M182.3 40.6l-2.8 2.5M182.3 40.6l-0.8 -3.7M186.8 45.6l3.6 1.2M186.8 45.6l-2.8 2.5M186.8 45.6l-0.8 -3.7M191.2 50.5l3.6 1.2M191.2 50.5l-2.8 2.5M191.2 50.5l-0.8 -3.7M195.6 55.4l3.6 1.2M195.6 55.4l-2.8 2.5M195.6 55.4l-0.8 -3.7M200 60.3l3.6 1.2M200 60.3l-2.8 2.5M200 60.3l-0.8 -3.7M204.4 65.2l3.6 1.2M204.4 65.2l-2.8 2.5M204.4 65.2l-0.8 -3.7M208.8 70.1l3.6 1.2M208.8 70.1l-2.8 2.5M208.8 70.1l-0.8 -3.7M213.3 75l-2.8 2.5M213.3 75l-0.8 -3.7M166.7 14.7l3.6 1.2M166.7 14.7l-2.8 2.5M171.1 19.7l3.6 1.2M171.1 19.7l-2.8 2.5M171.1 19.7l-0.8 -3.7M175.6 24.6l3.6 1.2M175.6 24.6l-2.8 2.5M175.6 24.6l-0.8 -3.7M180 29.5l3.6 1.2M180 29.5l-2.8 2.5M180 29.5l-0.8 -3.7M184.4 34.4l3.6 1.2M184.4 34.4l-2.8 2.5M184.4 34.4l-0.8 -3.7M188.8 39.3l3.6 1.2M188.8 39.3l-2.8 2.5M188.8 39.3l-0.8 -3.7M193.2 44.2l3.6 1.2M193.2 44.2l-2.8 2.5M193.2 44.2l-0.8 -3.7M197.6 49.1l3.6 1.2M197.6 49.1l-2.8 2.5M197.6 49.1l-0.8 -3.7M202.1 54l3.6 1.2M202.1 54l-2.8 2.5M202.1 54l-0.8 -3.7M206.5 58.9l3.6 1.2M206.5 58.9l-2.8 2.5M206.5 58.9l-0.8 -3.7M210.9 63.8l3.6 1.2M210.9 63.8l-2.8 2.5M210.9 63.8l-0.8 -3.7M173.2 13.4l3.6 1.2M173.2 13.4l-2.8 2.5M177.6 18.3l3.6 1.2M177.6 18.3l-2.8 2.5M177.6 18.3l-0.8 -3.7M182 23.2l3.6 1.2M182 23.2l-2.8 2.5M182 23.2l-0.8 -3.7M186.4 28.1l3.6 1.2M186.4 28.1l-2.8 2.5M186.4 28.1l-0.8 -3.7M190.8 33l3.6 1.2M190.8 33l-2.8 2.5M190.8 33l-0.8 -3.7M195.3 37.9l3.6 1.2M195.3 37.9l-2.8 2.5M195.3 37.9l-0.8 -3.7M199.7 42.8l3.6 1.2M199.7 42.8l-2.8 2.5M199.7 42.8l-0.8 -3.7M204.1 47.7l3.6 1.2M204.1 47.7l-2.8 2.5M204.1 47.7l-0.8 -3.7M208.5 52.6l3.6 1.2M208.5 52.6l-2.8 2.5M208.5 52.6l-0.8 -3.7M212.9 57.5l3.6 1.2M212.9 57.5l-2.8 2.5M212.9 57.5l-0.8 -3.7M179.6 12l3.6 1.2M179.6 12l-2.8 2.5M184.1 16.9l3.6 1.2M184.1 16.9l-2.8 2.5M184.1 16.9l-0.8 -3.7M188.5 21.8l3.6 1.2M188.5 21.8l-2.8 2.5M188.5 21.8l-0.8 -3.7M192.9 26.7l3.6 1.2M192.9 26.7l-2.8 2.5M192.9 26.7l-0.8 -3.7M197.3 31.6l3.6 1.2M197.3 31.6l-2.8 2.5M197.3 31.6l-0.8 -3.7M201.7 36.5l3.6 1.2M201.7 36.5l-2.8 2.5M201.7 36.5l-0.8 -3.7M206.1 41.4l3.6 1.2M206.1 41.4l-2.8 2.5M206.1 41.4l-0.8 -3.7M210.5 46.3l3.6 1.2M210.5 46.3l-2.8 2.5M210.5 46.3l-0.8 -3.7M215 51.2l-2.8 2.5M215 51.2l-0.8 -3.7M186.1 10.6l3.6 1.2M186.1 10.6l-2.8 2.5M190.5 15.5l3.6 1.2M190.5 15.5l-2.8 2.5M190.5 15.5l-0.8 -3.7M194.9 20.4l3.6 1.2M194.9 20.4l-2.8 2.5M194.9 20.4l-0.8 -3.7M199.3 25.3l3.6 1.2M199.3 25.3l-2.8 2.5M199.3 25.3l-0.8 -3.7M203.8 30.3l3.6 1.2M203.8 30.3l-2.8 2.5M203.8 30.3l-0.8 -3.7M208.2 35.2l3.6 1.2M208.2 35.2l-2.8 2.5M208.2 35.2l-0.8 -3.7M212.6 40.1l3.6 1.2M212.6 40.1l-2.8 2.5M212.6 40.1l-0.8 -3.7M197 14.2l3.6 1.2M197 14.2l-2.8 2.5M201.4 19.1l-2.8 2.5M201.4 19.1l-0.8 -3.7M205.8 24l-2.8 2.5M210.2 28.9l-2.8 2.5"/><g stroke-width="3.2" stroke-linecap="round" fill="none"><path stroke="#37dbab" d="M30 22.4h0M192.1 23h0M43.7 23.4h0M155.4 24.9h0M138.9 26.5h0M112.2 28.3h0M102.2 28.5h0M113.7 66.9h0M154.8 69.9h0M178.6 70.7h0M158.4 71h0M172.2 72h0M57.7 73h0M189.5 74.2h0M193.1 75.4h0M108.8 75.7h0M63.7 85.4h0M209.2 87.5h0M64.4 89.1h0M118.5 89.3h0M122.1 90.5h0M129.3 92.8h0M210.8 95h0M55.9 96.7h0M133.8 97.7h0M49.5 98.1h0M211.6 98.7h0M46.7 100.7h0M209.5 105h0M135.3 105.2h0M41 105.8h0M34.5 107.1h0M206.7 107.5h0M38.2 108.3h0M136.1 108.9h0M31.7 109.7h0M133.3 111.5h0M39 112h0M211.1 112.4h0M32.5 113.4h0M36.1 114.6h0M29.7 116h0M127.6 116.6h0M43.4 116.9h0M121.2 117.9h0M47 118.1h0M36.9 118.3h0M60.7 119.1h0M124.8 119.1h0M64.3 120.3h0M54.2 120.5h0M118.3 120.5h0"/><path stroke="#2fdbb3" d="M198.5 21.6h0M53.8 23.2h0M182 23.2h0M145.3 25.1h0M71.1 25.3h0M84.8 26.3h0M118.7 26.9h0M108.6 27.1h0M117.3 68.1h0M110.9 69.5h0M128.2 71.6h0M182.2 71.8h0M165.7 73.4h0M200.4 77.7h0M204 78.9h0M193.9 79.1h0M197.5 80.3h0M191.1 81.6h0M204.8 82.6h0M29.8 84.8h0M201.9 85.2h0M117.7 85.6h0M124.9 87.9h0M202.7 88.9h0M128.5 89.1h0M182.6 89.3h0M206.4 90.1h0M61.6 91.6h0M189.8 91.6h0M183.4 93h0M207.1 93.8h0M133 94h0M187 94.2h0M176.9 94.4h0M180.5 95.6h0M204.3 96.4h0M187.8 97.9h0M137.4 98.9h0M191.4 99.1h0M181.3 99.3h0M43 99.5h0M205.1 100.1h0M184.9 100.5h0M36.6 100.8h0M208.7 101.3h0M178.5 101.8h0M40.2 102h0M30.1 102.2h0M138.2 102.6h0M202.3 102.6h0M33.7 103.4h0M185.7 104.2h0M179.3 105.6h0M203.1 106.4h0M182.9 106.8h0M176.5 108.1h0M139.8 110.1h0M207.5 111.3h0M134.1 115.2h0M211.9 116.2h0M131.3 117.7h0"/><path stroke="#40dba3" d="M185.6 24.4h0M47.4 24.5h0M175.6 24.6h0M37.3 24.7h0M61.1 25.5h0M148.9 26.3h0M88.5 27.5h0M132.4 27.9h0M105.8 29.6h0M199.6 74h0M206.8 76.4h0M62.1 77.9h0M208.4 83.8h0M111.2 86.9h0M212.8 88.7h0M115.6 91.8h0M213.6 92.4h0M62.4 95.4h0M53.1 99.3h0M130.9 100.3h0M131.7 104h0M47.5 104.4h0M213.1 106.2h0M44.6 106.9h0M213.9 109.9h0M129.7 110.3h0M45.4 110.7h0M126.8 112.8h0M42.6 113.2h0M49.8 115.6h0M53.5 116.7h0M114.7 119.3h0M108.3 120.7h0M111.9 121.8h0M101.8 122h0"/><path stroke="#27dbbb" d="M32.9 19.8h0M36.5 21h0M60.3 21.8h0M188.5 21.8h0M50.2 22h0M161.9 23.6h0M151.8 23.8h0M67.5 24.2h0M125.2 25.5h0M94.9 26.1h0M46.8 69.5h0M124.6 70.5h0M175.8 73.2h0M135.5 74h0M169.3 74.6h0M31 74.8h0M186.6 76.7h0M187.4 80.5h0M113.3 80.7h0M184.6 83h0M198.3 84h0M124.1 84.2h0M191.9 85.4h0M131.4 86.5h0M195.5 86.6h0M185.4 86.7h0M189 87.9h0M178.9 88.1h0M196.3 90.3h0M176.1 90.7h0M135.8 91.4h0M199.9 91.5h0M31.4 92.2h0M193.4 92.8h0M55.2 93h0M48.7 94.4h0M38.6 94.6h0M200.7 95.2h0M42.2 95.7h0M170.4 95.8h0M32.2 95.9h0M140.2 96.4h0M194.2 96.6h0M174.1 96.9h0M35.8 97.1h0M143.8 97.5h0M197.9 97.7h0M167.6 98.3h0M174.9 100.7h0M144.6 101.3h0M198.6 101.5h0M168.4 102h0M192.2 102.8h0M172 103.2h0M141.8 103.8h0M195.8 104h0M165.6 104.6h0M189.4 105.4h0M172.8 106.9h0M142.6 107.5h0M196.6 107.7h0M166.4 108.3h0M200.2 108.9h0M190.2 109.1h0M170 109.5h0M193.8 110.3h0M183.7 110.5h0M187.3 111.7h0M177.2 111.9h0M201 112.6h0M180.9 113h0M170.8 113.2h0M140.5 113.8h0M204.7 113.8h0M174.4 114.4h0M137.7 116.4h0M138.5 120.1h0M132.1 121.5h0"/><path stroke="#48db9b" d="M205.8 24h0M179.2 25.7h0M40.9 25.9h0M169.1 25.9h0M64.7 26.7h0M78.4 27.7h0M142.5 27.7h0M125.9 29.3h0M95.7 29.8h0M39.5 67.1h0M53.2 68.1h0M33.1 68.5h0M134.7 70.3h0M202.4 71.4h0M206 72.6h0M195.9 72.8h0M211.2 81.3h0M112 90.7h0M109.2 93.2h0M122.9 94.2h0M126.5 95.4h0M66 96.5h0M59.6 97.9h0M127.3 99.1h0M51.1 105.6h0M128.9 106.5h0M123.2 111.6h0M49 111.8h0M116.8 113h0M56.3 114.2h0M120.4 114.2h0M110.3 114.4h0M59.9 115.4h0M113.9 115.6h0M103.9 115.8h0M107.5 116.9h0M67.2 117.7h0M101 118.3h0M70.8 118.9h0M94.6 119.7h0M88.1 121.1h0M78 121.3h0"/><path stroke="#1fdbc3" d="M32.1 16.1h0M39.3 18.5h0M42.9 19.6h0M194.9 20.4h0M56.6 20.6h0M168.3 22.2h0M158.2 22.4h0M77.6 24h0M131.6 24.2h0M91.3 24.9h0M115.1 25.7h0M40.3 70.8h0M33.9 72.2h0M141.9 72.6h0M129 75.4h0M183 75.6h0M162.9 76h0M132.6 76.5h0M170.1 78.3h0M31.8 78.5h0M127 81.6h0M181 81.8h0M130.6 82.8h0M120.5 83h0M178.2 84.4h0M171.7 85.8h0M33.4 85.9h0M135 87.7h0M172.5 89.5h0M34.2 89.7h0M58 90.5h0M37.8 90.8h0M166 90.9h0M51.5 91.8h0M169.7 92h0M139.4 92.6h0M45.1 93.2h0M163.2 93.4h0M153.1 93.6h0M156.7 94.8h0M146.7 95h0M150.3 96.2h0M164 97.1h0M157.5 98.5h0M161.2 99.7h0M151.1 99.9h0M154.7 101.1h0M148.3 102.4h0M162 103.4h0M155.5 104.8h0M159.1 106h0M149 106.2h0M152.7 107.3h0M146.2 108.7h0M159.9 109.7h0M163.5 110.9h0M153.5 111.1h0M157.1 112.2h0M147 112.4h0M150.6 113.6h0M194.6 114h0M164.3 114.6h0M144.2 115h0M198.2 115.2h0M188.1 115.4h0M168 115.8h0M191.7 116.6h0M181.7 116.8h0M205.4 117.5h0M185.3 117.9h0M175.2 118.1h0M145 118.7h0M209.1 118.7h0M178.8 119.3h0M168.7 119.5h0M172.4 120.7h0M142.1 121.3h0"/><path stroke="#50db93" d="M199.3 25.3h0M30.8 26.1h0M54.6 26.9h0M162.6 27.3h0M82 28.9h0M136 29.1h0M119.5 30.6h0M99.3 31h0M141.1 68.9h0M131 69.1h0M164.9 69.7h0M61.3 74.2h0M210.4 77.5h0M68.1 90.3h0M105.6 92h0M68.9 94h0M116.4 95.6h0M120.1 96.7h0M110 96.9h0M113.6 98.1h0M103.5 98.3h0M107.1 99.5h0M66.8 100.3h0M60.4 101.6h0M53.9 103h0M107.9 103.2h0M101.5 104.6h0M125.3 105.4h0M105.1 105.8h0M122.4 107.9h0M112.3 108.1h0M51.9 109.3h0M116 109.3h0M105.9 109.5h0M55.5 110.5h0M109.5 110.7h0M99.4 110.9h0M103.1 112h0M72.8 112.6h0M96.6 113.4h0M66.4 114h0M80.1 115h0M83.7 116.2h0M73.6 116.3h0M97.4 117.1h0M77.2 117.5h0M90.9 118.5h0M84.5 119.9h0"/><path stroke="#17d0cb" d="M45.8 17.1h0M49.4 18.3h0M201.4 19.1h0M63.1 19.2h0M174.8 20.8h0M164.7 21h0M74 22.8h0M138.1 22.8h0M121.5 24.4h0M101.4 24.7h0M50.4 70.6h0M37.5 73.4h0M159.2 74.8h0M139.1 75.2h0M176.6 76.9h0M126.2 77.9h0M116.1 78.1h0M180.2 78.1h0M119.7 79.3h0M173.7 79.5h0M35.5 79.7h0M163.7 79.7h0M133.4 80.3h0M167.3 80.9h0M174.5 83.2h0M36.2 83.4h0M60 84.2h0M168.1 84.6h0M165.2 87.1h0M40.7 88.3h0M158.8 88.5h0M148.7 88.7h0M44.3 89.5h0M152.3 89.9h0M142.2 90.1h0M145.9 91.3h0M159.6 92.2h0M157.9 116h0M161.5 117.1h0M151.4 117.3h0M155 118.5h0M199 118.9h0M148.6 119.9h0M202.6 120.1h0M192.5 120.3h0M162.3 120.9h0M186.1 121.7h0M165.9 122.1h0M155.8 122.2h0"/><path stroke="#0fc6d4" d="M45 13.4h0M34.9 13.6h0M38.5 14.7h0M52.2 15.7h0M55.8 16.9h0M181.2 19.5h0M171.1 19.7h0M66.7 20.4h0M128 23h0M97.7 23.6h0M148.4 71.2h0M118.1 71.8h0M43.9 72h0M121.8 73h0M122.5 76.7h0M59.2 80.4h0M137 81.4h0M160.8 82.2h0M39.9 84.6h0M137.8 85.2h0M161.6 86h0M141.5 86.3h0M57.2 86.7h0M155.2 87.3h0M50.7 88.1h0M196.2 121.5h0"/><path stroke="#59db8a" d="M192.9 26.7h0M172.7 27.1h0M34.4 27.3h0M58.2 28.1h0M156.2 28.7h0M71.9 29.1h0M129.6 30.4h0M123.1 31.8h0M113 32h0M116.7 33.2h0M106.6 33.4h0M112.9 63.2h0M120.2 65.5h0M46 65.7h0M147.6 67.5h0M161.3 68.5h0M56.9 69.3h0M185.1 69.3h0M188.7 70.5h0M104.4 70.8h0M214.8 82.4h0M102.7 94.6h0M120.8 100.5h0M100.7 100.9h0M70.4 101.4h0M124.5 101.6h0M114.4 101.8h0M64 102.8h0M118 103h0M57.5 104.2h0M111.6 104.4h0M71.2 105.2h0M95 106h0M118.8 106.7h0M98.6 107.1h0M68.4 107.7h0M58.3 107.9h0M75.7 110.1h0M79.3 111.3h0M69.2 111.4h0M93 112.2h0M62.7 112.8h0M86.5 113.6h0M90.1 114.8h0"/><path stroke="#61db82" d="M203 26.5h0M48.1 28.3h0M166.3 28.5h0M149.7 30h0M75.6 30.2h0M89.3 31.2h0M110.2 34.6h0M35.9 65.9h0M123.8 66.7h0M137.5 67.7h0M171.4 68.3h0M105.2 74.6h0M106.8 82h0M72.5 95.2h0M73.3 98.9h0M97.1 99.7h0M94.2 102.2h0M77.7 103.8h0M74.9 106.3h0M64.8 106.5h0M88.6 107.3h0M92.2 108.5h0M82.1 108.7h0M61.9 109.1h0M85.7 109.9h0"/><path stroke="#0fbcdb" d="M34.1 9.8h0M47.8 10.8h0M51.4 12h0M41.3 12.2h0M58.7 14.3h0M62.3 15.5h0M194.1 16.7h0M187.7 18.1h0M177.6 18.3h0M144.5 21.4h0M134.4 21.6h0M84 22.6h0M107.8 23.4h0M152 72.4h0M145.5 73.8h0M54.8 75.5h0M38.3 77.1h0M156.4 77.3h0M139.9 78.9h0M157.2 81.1h0M154.4 83.6h0M147.9 85h0M53.6 85.5h0M47.1 86.9h0"/><path stroke="#0fb2db" d="M57.9 10.6h0M200.6 15.3h0M184.1 16.9h0M69.5 17.9h0M151 20h0M140.9 20.2h0M80.4 21.4h0M114.3 22h0M104.2 22.2h0M51.2 74.4h0M44.7 75.7h0M41.9 78.3h0M55.6 79.3h0M42.7 82h0M150.7 82.4h0M46.3 83.2h0M144.3 83.8h0"/><path stroke="#cbdb17" d="M208.2 35.2h0M36.8 38.5h0M198.9 39.1h0M192.4 40.5h0M186 41.8h0M71.5 42.8h0M179.5 43.2h0M41.2 43.4h0M173.1 44.6h0M82.3 46.3h0M42 47.1h0M45.6 48.3h0M173.9 48.3h0M167.4 49.7h0M63 50.4h0M52.9 50.6h0M171 50.8h0M56.5 51.8h0M46.4 52h0M50.1 53.2h0M40 53.4h0M171.8 54.6h0M57.3 55.5h0M50.9 56.9h0M30.7 57.3h0M186.3 59.3h0M176.2 59.5h0M61.7 60.4h0M66.1 65.3h0M70.6 70.3h0M77.4 86.3h0"/><path stroke="#abdb37" d="M188 35.5h0M177.9 35.7h0M39.6 35.9h0M73.5 36.5h0M43.3 37.1h0M171.5 37.1h0M67.1 37.9h0M57 38.1h0M165 38.5h0M158.6 39.9h0M152.1 41.2h0M145.7 42.6h0M139.2 44h0M136.4 46.5h0M89.6 48.7h0M44.4 58.3h0M169.8 60.8h0M31.5 61h0M55.3 61.8h0M180.6 64.4h0M208.1 66.3h0M98 72.2h0M67.7 72.8h0M68.5 76.5h0M81.8 91.2h0"/><path stroke="#93db50" d="M197.3 31.6h0M190.8 33h0M56.2 34.4h0M46.1 34.5h0M164.2 34.8h0M80 35.1h0M157.8 36.1h0M147.7 36.3h0M141.2 37.7h0M134.8 39.1h0M125.5 43h0M95.3 43.6h0M96 47.3h0M123.5 49.3h0M100.5 52.2h0M41.6 60.8h0M35.1 62.2h0M166.9 63.4h0M156.9 63.6h0M126.6 64.2h0M150.4 65h0M184.3 65.6h0M102.4 77.1h0M103.2 80.8h0M74.5 88.9h0"/><path stroke="#0fa7db" d="M54.3 9.4h0M65.1 13h0M197 14.2h0M190.5 15.5h0M157.4 18.7h0M147.4 18.9h0M73.2 19.1h0M120.7 20.6h0M110.7 20.8h0M90.5 21.2h0M152.8 76.1h0M48.4 76.9h0M146.3 77.5h0M143.5 80.1h0M49.2 80.6h0M52.8 81.8h0"/><path stroke="#dba40f" d="M201.3 50.3h0M32.7 51h0M202.1 54h0M81.1 56.3h0M210.1 60.1h0M71.8 60.2h0M85.5 61.2h0M76.2 65.2h0"/><path stroke="#dbca0f" d="M205.3 37.7h0M37.6 42.2h0M193.2 44.2h0M72.3 46.5h0M190.4 46.7h0M75.9 47.7h0M69.4 49.1h0M184.7 51.8h0M188.3 53h0M63.8 54.2h0M181.9 54.4h0M33.5 54.7h0M182.7 58.1h0M200 60.3h0M65.4 61.6h0M72.9 81.4h0"/><path stroke="#c3db1f" d="M201.7 36.5h0M195.3 37.9h0M188.8 39.3h0M74.3 40.2h0M182.3 40.6h0M67.8 41.6h0M175.9 42h0M169.4 43.4h0M65 44.2h0M58.6 45.5h0M48.5 45.7h0M166.6 45.9h0M52.1 46.9h0M160.2 47.3h0M59.4 49.3h0M160.9 51h0M164.6 52.2h0M43.6 54.6h0M37.2 55.9h0M165.4 55.9h0M169 57.1h0M54.5 58.1h0M96.4 64.8h0M214.5 65h0M98.8 75.9h0"/><path stroke="#a3db40" d="M207.4 31.4h0M200.9 32.8h0M32.4 33.6h0M194.5 34.2h0M184.4 34.4h0M63.4 36.7h0M132.7 45.3h0M129.9 47.9h0M93.2 49.9h0M124.2 53h0M97.6 54.8h0M122.2 59.3h0M37.9 59.7h0M139.5 61.4h0M190.7 64.2h0M100 65.9h0M63.3 67.9h0M91.9 91h0M85.4 92.4h0"/><path stroke="#69db7a" d="M196.5 27.9h0M186.4 28.1h0M51.8 29.4h0M41.7 29.6h0M159.8 29.9h0M65.5 30.4h0M143.3 31.4h0M92.9 32.4h0M136.8 32.8h0M100.1 34.7h0M103.8 35.9h0M109.3 62h0M42.4 64.6h0M106.5 64.6h0M195.1 69.1h0M213.3 75h0M66.5 82.8h0M99.1 93.4h0M96.3 96h0M76.9 100.1h0M90.6 101.1h0M84.1 102.4h0M87.8 103.6h0M81.3 105h0"/><path stroke="#dbad0f" d="M30.4 39.8h0M206.1 41.4h0M203.3 44h0M34.8 44.7h0M35.6 48.5h0M197.6 49.1h0M73.8 54h0M84.7 57.5h0M216.5 58.7h0M68.2 59.1h0M72.6 64h0M89.9 66.1h0M75 75.2h0M96.7 82.2h0M76.6 82.6h0M93.9 84.8h0"/><path stroke="#db910f" d="M216.2 41.2h0M209.8 42.6h0M31.2 43.6h0M212.1 53.8h0M205.7 55.2h0M78.3 58.9h0M83.5 67.5h0M87.1 68.7h0M80.6 70.1h0M95.9 78.5h0"/><path stroke="#d4d30f" d="M33.2 37.3h0M78.7 45.1h0M186.8 45.6h0M180.3 46.9h0M65.8 47.9h0M183.9 48.1h0M177.5 49.5h0M39.2 49.6h0M83.1 50h0M178.3 53.2h0M175.4 55.7h0M60.9 56.7h0M189.1 56.7h0M192.8 57.9h0M92 59.9h0M179.9 60.7h0M210.9 63.8h0M69.8 66.5h0M81 87.5h0"/><path stroke="#b3db2f" d="M181.6 36.9h0M175.1 38.3h0M60.6 39.3h0M50.5 39.4h0M168.6 39.7h0M84.4 40h0M54.1 40.6h0M162.2 41h0M155.7 42.4h0M149.3 43.8h0M142.8 45.2h0M150.1 47.5h0M143.6 48.9h0M147.2 50.1h0M137.2 50.3h0M130.7 51.6h0M148 53.8h0M127.9 54.2h0M151.7 55h0M138.7 57.7h0M162.5 58.5h0M132.3 59.1h0M48 59.5h0M156.1 59.9h0M146 60.1h0M125.8 60.5h0M173.4 62h0M58.9 63h0M187.1 63h0M100.3 83.4h0"/><path stroke="#82db61" d="M183.6 30.6h0M35.2 31h0M167.1 32.2h0M62.6 33h0M160.6 33.6h0M86.4 33.8h0M93.7 36.1h0M121.9 41.8h0M101.7 42.2h0M119 44.4h0M102.5 45.9h0M106.1 47.1h0M113.4 49.5h0M106.9 50.8h0M110.5 52h0M115 56.9h0M48.8 63.2h0M160.5 64.8h0M130.2 65.4h0M174.2 65.8h0M201.6 67.7h0M101.1 87.1h0M92.6 94.8h0"/><path stroke="#7adb69" d="M45.3 30.8h0M173.5 30.8h0M59 31.8h0M82.8 32.6h0M146.9 32.6h0M140.4 34h0M134 35.3h0M127.5 36.7h0M97.3 37.3h0M121.1 38.1h0M115.4 43.2h0M109 44.6h0M112.6 45.7h0M111.3 55.7h0M108.5 58.3h0M119.4 61.8h0M52.4 64.4h0M177.8 66.9h0M100.8 69.7h0M212.5 71.3h0M70.9 87.7h0M75.3 92.6h0M89.8 97.3h0M79.7 97.5h0M83.4 98.7h0"/><path stroke="#71db71" d="M190.1 29.3h0M180 29.5h0M153.4 31.2h0M69.1 31.6h0M130.4 34.2h0M123.9 35.5h0M117.5 36.9h0M111 38.3h0M114.6 39.5h0M104.5 39.7h0M108.2 40.8h0M115.8 60.6h0M154 66.1h0M144 66.3h0M167.7 67.1h0M191.5 67.9h0M208.8 70.1h0M65.7 79.1h0"/><path stroke="#9bdb48" d="M69.9 35.3h0M49.7 35.7h0M87.2 37.5h0M151.3 37.5h0M90.8 38.7h0M144.9 38.9h0M138.4 40.2h0M132 41.6h0M126.3 46.7h0M121.4 55.5h0M102 59.7h0M163.3 62.2h0M143.2 62.6h0M133.1 62.8h0M70.1 84h0"/><path stroke="#8adb59" d="M210.2 28.9h0M203.8 30.3h0M177.1 32h0M38.9 32.2h0M52.6 33.2h0M170.7 33.4h0M76.3 34h0M154.1 35h0M128.3 40.4h0M98.1 41h0M119.8 48.1h0M99.7 48.5h0M117 50.6h0M104.1 53.4h0M117.8 54.4h0M104.9 57.1h0M136.7 64h0M198 66.5h0M59.7 66.7h0M64.1 71.6h0M78.9 93.8h0M86.2 96.1h0"/><path stroke="#dbc00f" d="M211.8 36.3h0M199.7 42.8h0M191.2 50.5h0M195.6 55.4h0M74.2 71.4h0M72.1 77.7h0"/><path stroke="#bbdb27" d="M44.1 40.8h0M47.7 42h0M61.4 43h0M85.2 43.8h0M54.9 44.4h0M163 44.8h0M156.5 46.1h0M153.7 48.7h0M140.8 51.4h0M154.5 52.4h0M134.3 52.8h0M158.1 53.6h0M141.6 55.2h0M145.2 56.3h0M135.1 56.5h0M158.9 57.3h0M128.7 57.9h0M152.4 58.7h0M149.6 61.2h0M193.6 61.6h0M197.2 62.8h0M204.4 65.2h0"/><path stroke="#db7e0f" d="M78.6 76.3h0M83.8 85h0"/><path stroke="#db6b0f" d="M79.4 80.1h0"/><path stroke="#db3c0f" d="M83 81.2h0"/><path stroke="#dbb70f" d="M196.8 45.4h0M76.7 51.4h0M194.8 51.6h0M70.2 52.8h0M67.4 55.3h0M199.2 56.5h0M203.6 61.4h0M89.1 62.4h0"/><path stroke="#db620f" d="M87.9 72.4h0M81.4 73.8h0M90.3 83.6h0"/><path stroke="#db290f" d="M85.1 75h0"/><path stroke="#af0f0f" d="M85.8 78.7h0"/><path stroke="#d1160f" d="M89.5 79.9h0"/><path stroke="#db9b0f" d="M212.6 40.1h0M204.1 47.7h0M212.9 57.5h0M74.6 57.7h0M206.5 58.9h0M79.1 62.6h0M82.7 63.8h0"/><path stroke="#db750f" d="M91.5 73.6h0"/><path stroke="#db4f0f" d="M92.3 77.3h0"/><path stroke="#0f9edb" d="M64.3 9.2h0M68.8 14.1h0M170.3 15.9h0M163.9 17.3h0M86.9 20h0M150 78.7h0"/><path stroke="#0f60db" d="M70.8 7.9h0M75.2 12.8h0M122.8 14.4h0M112.7 14.5h0M82.5 15.1h0"/><path stroke="#0f75db" d="M186.1 10.6h0M71.6 11.6h0M136.5 15.3h0M99.8 17.3h0"/><path stroke="#0f89db" d="M189.7 11.8h0M183.3 13.2h0M166.7 14.7h0M76 16.5h0M140.1 16.5h0M79.6 17.7h0M123.6 18.1h0M103.4 18.5h0M93.3 18.7h0"/><path stroke="#0f0fdb" d="M77.3 6.5h0M94.6 8.7h0M84.5 8.9h0"/><path stroke="#0f37db" d="M118.4 9.4h0M78 10.2h0M111.9 10.8h0M81.7 11.4h0M95.4 12.4h0"/><path stroke="#0f6bdb" d="M153 13.8h0M142.9 14h0M116.3 15.7h0M106.2 15.9h0M86.1 16.3h0"/><path stroke="#0f0fba" d="M103.9 4.7h0M83.7 5.1h0"/><path stroke="#0f19db" d="M88.1 10h0"/><path stroke="#0f4cdb" d="M99 13.6h0M88.9 13.8h0"/><path stroke="#0f56db" d="M129.2 13h0M119.2 13.2h0M92.5 14.9h0"/><path stroke="#0f93db" d="M176.8 14.6h0M160.3 16.1h0M153.8 17.5h0M133.7 17.9h0M127.2 19.3h0M117.1 19.5h0M97 19.8h0"/><path stroke="#0f0fd1" d="M107.5 5.9h0M101 7.3h0M91 7.5h0"/><path stroke="#0f0fc6" d="M97.4 6.1h0"/><path stroke="#0f2ddb" d="M101.8 11h0"/><path stroke="#0f42db" d="M105.5 12.2h0"/><path stroke="#0f7fdb" d="M179.6 12h0M173.2 13.4h0M146.6 15.1h0M130 16.7h0M109.9 17.1h0"/><path stroke="#0f23db" d="M114.7 8.3h0M108.3 9.6h0"/><path stroke="#db870f" d="M210.5 46.3h0M214.2 47.5h0M207.7 48.9h0M215 51.2h0M208.5 52.6h0"/></g><g stroke-width="7.2" stroke-linecap="round" fill="none"><path stroke="#cdcdcd" d="M80.4 41.3h0M89.6 43.3h0M85.5 52.5h0M78.3 54.6h0M92.7 54.6h0M97.8 61h0M102.9 64h0M108 68h0M77.3 69h0M92 70h0M114.2 74h0M110 80h0M114 84h0M106 88h0M85.5 88.4h0M95.7 89.4h0"/></g><clipPath id="cpb"><rect x="280" y="11.8" width="176" height="110.9"/></clipPath><g clip-path="url(#cpb)"><path stroke="#222" stroke-width="0.8" d="M278.3 117.8l3.4 1.2M282.4 122.6l3.4 1.2M282.4 122.6l-2.8 2.4M282.4 122.6l-0.7 -3.6M280.4 111.8l3.4 1.2M280.4 111.8l-0.7 -3.6M284.5 116.6l3.4 1.2M284.5 116.6l-2.8 2.4M284.5 116.6l-0.7 -3.6M288.6 121.4l3.4 1.2M288.6 121.4l-2.8 2.4M288.6 121.4l-0.7 -3.6M278.4 101.1l3.4 1.2M282.5 105.9l3.4 1.2M282.5 105.9l-2.8 2.4M282.5 105.9l-0.7 -3.6M286.6 110.7l3.4 1.2M286.6 110.7l-2.8 2.4M286.6 110.7l-0.7 -3.6M290.7 115.5l3.4 1.2M290.7 115.5l-2.8 2.4M290.7 115.5l-0.7 -3.6M294.8 120.3l3.4 1.2M294.8 120.3l-2.8 2.4M294.8 120.3l-0.7 -3.6M280.5 95.2l3.4 1.2M280.5 95.2l-0.7 -3.6M284.6 100l3.4 1.2M284.6 100l-2.8 2.4M284.6 100l-0.7 -3.6M288.7 104.7l3.4 1.2M288.7 104.7l-2.8 2.4M288.7 104.7l-0.7 -3.6M292.8 109.5l3.4 1.2M292.8 109.5l-2.8 2.4M292.8 109.5l-0.7 -3.6M296.9 114.3l3.4 1.2M296.9 114.3l-2.8 2.4M296.9 114.3l-0.7 -3.6M301 119.1l3.4 1.2M301 119.1l-2.8 2.4M301 119.1l-0.7 -3.6M305 123.9l-0.7 -3.6M278.5 84.4l3.4 1.2M282.6 89.2l3.4 1.2M282.6 89.2l-2.8 2.4M282.6 89.2l-0.7 -3.6M286.7 94l3.4 1.2M286.7 94l-2.8 2.4M286.7 94l-0.7 -3.6M290.8 98.8l3.4 1.2M290.8 98.8l-2.8 2.4M290.8 98.8l-0.7 -3.6M294.9 103.6l3.4 1.2M294.9 103.6l-2.8 2.4M294.9 103.6l-0.7 -3.6M299 108.4l3.4 1.2M299 108.4l-2.8 2.4M299 108.4l-0.7 -3.6M303.1 113.2l3.4 1.2M303.1 113.2l-2.8 2.4M303.1 113.2l-0.7 -3.6M307.2 118l3.4 1.2M307.2 118l-2.8 2.4M307.2 118l-0.7 -3.6M311.2 122.8l3.4 1.2M311.2 122.8l-0.7 -3.6M280.6 78.5l3.4 1.2M280.6 78.5l-0.7 -3.6M284.7 83.3l3.4 1.2M284.7 83.3l-2.8 2.4M284.7 83.3l-0.7 -3.6M288.8 88.1l3.4 1.2M288.8 88.1l-2.8 2.4M288.8 88.1l-0.7 -3.6M292.9 92.9l3.4 1.2M292.9 92.9l-2.8 2.4M292.9 92.9l-0.7 -3.6M297 97.7l3.4 1.2M297 97.7l-2.8 2.4M297 97.7l-0.7 -3.6M301.1 102.4l3.4 1.2M301.1 102.4l-2.8 2.4M301.1 102.4l-0.7 -3.6M305.2 107.2l3.4 1.2M305.2 107.2l-2.8 2.4M305.2 107.2l-0.7 -3.6M309.3 112l3.4 1.2M309.3 112l-2.8 2.4M309.3 112l-0.7 -3.6M313.3 116.8l3.4 1.2M313.3 116.8l-2.8 2.4M313.3 116.8l-0.7 -3.6M317.4 121.6l3.4 1.2M317.4 121.6l-2.8 2.4M317.4 121.6l-0.7 -3.6M278.6 67.8l3.4 1.2M282.7 72.6l3.4 1.2M282.7 72.6l-2.8 2.4M282.7 72.6l-0.7 -3.6M286.8 77.3l3.4 1.2M286.8 77.3l-2.8 2.4M286.8 77.3l-0.7 -3.6M290.9 82.1l3.4 1.2M290.9 82.1l-2.8 2.4M290.9 82.1l-0.7 -3.6M295 86.9l3.4 1.2M295 86.9l-2.8 2.4M295 86.9l-0.7 -3.6M299.1 91.7l3.4 1.2M299.1 91.7l-2.8 2.4M299.1 91.7l-0.7 -3.6M303.2 96.5l3.4 1.2M303.2 96.5l-2.8 2.4M303.2 96.5l-0.7 -3.6M307.3 101.3l3.4 1.2M307.3 101.3l-2.8 2.4M307.3 101.3l-0.7 -3.6M311.4 106.1l3.4 1.2M311.4 106.1l-2.8 2.4M311.4 106.1l-0.7 -3.6M315.4 110.9l3.4 1.2M315.4 110.9l-2.8 2.4M315.4 110.9l-0.7 -3.6M319.5 115.7l3.4 1.2M319.5 115.7l-2.8 2.4M319.5 115.7l-0.7 -3.6M323.6 120.5l3.4 1.2M323.6 120.5l-2.8 2.4M323.6 120.5l-0.7 -3.6M280.7 61.8l3.4 1.2M280.7 61.8l-0.7 -3.6M284.8 66.6l3.4 1.2M284.8 66.6l-2.8 2.4M284.8 66.6l-0.7 -3.6M288.9 71.4l3.4 1.2M288.9 71.4l-2.8 2.4M288.9 71.4l-0.7 -3.6M293 76.2l3.4 1.2M293 76.2l-2.8 2.4M293 76.2l-0.7 -3.6M297.1 81l3.4 1.2M297.1 81l-2.8 2.4M297.1 81l-0.7 -3.6M301.2 85.8l3.4 1.2M301.2 85.8l-2.8 2.4M301.2 85.8l-0.7 -3.6M305.3 90.6l3.4 1.2M305.3 90.6l-2.8 2.4M305.3 90.6l-0.7 -3.6M309.4 95.4l3.4 1.2M309.4 95.4l-2.8 2.4M309.4 95.4l-0.7 -3.6M313.5 100.2l3.4 1.2M313.5 100.2l-2.8 2.4M313.5 100.2l-0.7 -3.6M317.6 104.9l3.4 1.2M317.6 104.9l-2.8 2.4M317.6 104.9l-0.7 -3.6M321.6 109.7l3.4 1.2M321.6 109.7l-2.8 2.4M321.6 109.7l-0.7 -3.6M325.7 114.5l3.4 1.2M325.7 114.5l-2.8 2.4M325.7 114.5l-0.7 -3.6M329.8 119.3l3.4 1.2M329.8 119.3l-2.8 2.4M329.8 119.3l-0.7 -3.6M333.9 124.1l-0.7 -3.6M278.7 51.1l3.4 1.2M278.7 51.1l-0.7 -3.6M282.8 55.9l3.4 1.2M282.8 55.9l-2.8 2.4M282.8 55.9l-0.7 -3.6M286.9 60.7l3.4 1.2M286.9 60.7l-2.8 2.4M286.9 60.7l-0.7 -3.6M291 65.5l3.4 1.2M291 65.5l-2.8 2.4M291 65.5l-0.7 -3.6M295.1 70.3l3.4 1.2M295.1 70.3l-2.8 2.4M295.1 70.3l-0.7 -3.6M299.2 75.1l3.4 1.2M299.2 75.1l-2.8 2.4M299.2 75.1l-0.7 -3.6M303.3 79.8l3.4 1.2M303.3 79.8l-2.8 2.4M303.3 79.8l-0.7 -3.6M307.4 84.6l3.4 1.2M307.4 84.6l-2.8 2.4M307.4 84.6l-0.7 -3.6M311.5 89.4l3.4 1.2M311.5 89.4l-2.8 2.4M311.5 89.4l-0.7 -3.6M315.6 94.2l3.4 1.2M315.6 94.2l-2.8 2.4M315.6 94.2l-0.7 -3.6M319.7 99l3.4 1.2M319.7 99l-2.8 2.4M319.7 99l-0.7 -3.6M323.7 103.8l3.4 1.2M323.7 103.8l-2.8 2.4M323.7 103.8l-0.7 -3.6M327.8 108.6l3.4 1.2M327.8 108.6l-2.8 2.4M327.8 108.6l-0.7 -3.6M331.9 113.4l3.4 1.2M331.9 113.4l-2.8 2.4M331.9 113.4l-0.7 -3.6M336 118.2l3.4 1.2M336 118.2l-2.8 2.4M336 118.2l-0.7 -3.6M340.1 123l3.4 1.2M340.1 123l-0.7 -3.6M280.8 45.2l3.4 1.2M280.8 45.2l-2.8 2.4M280.8 45.2l-0.7 -3.6M284.9 50l3.4 1.2M284.9 50l-2.8 2.4M284.9 50l-0.7 -3.6M289 54.7l3.4 1.2M289 54.7l-2.8 2.4M289 54.7l-0.7 -3.6M293.1 59.5l3.4 1.2M293.1 59.5l-2.8 2.4M293.1 59.5l-0.7 -3.6M297.2 64.3l3.4 1.2M297.2 64.3l-2.8 2.4M297.2 64.3l-0.7 -3.6M301.3 69.1l3.4 1.2M301.3 69.1l-2.8 2.4M301.3 69.1l-0.7 -3.6M305.4 73.9l3.4 1.2M305.4 73.9l-2.8 2.4M305.4 73.9l-0.7 -3.6M309.5 78.7l3.4 1.2M309.5 78.7l-2.8 2.4M309.5 78.7l-0.7 -3.6M313.6 83.5l3.4 1.2M313.6 83.5l-2.8 2.4M313.6 83.5l-0.7 -3.6M317.7 88.3l3.4 1.2M317.7 88.3l-2.8 2.4M317.7 88.3l-0.7 -3.6M321.8 93.1l3.4 1.2M321.8 93.1l-2.8 2.4M321.8 93.1l-0.7 -3.6M325.8 97.9l3.4 1.2M325.8 97.9l-2.8 2.4M325.8 97.9l-0.7 -3.6M329.9 102.6l3.4 1.2M329.9 102.6l-2.8 2.4M329.9 102.6l-0.7 -3.6M334 107.4l3.4 1.2M334 107.4l-2.8 2.4M334 107.4l-0.7 -3.6M338.1 112.2l3.4 1.2M338.1 112.2l-2.8 2.4M338.1 112.2l-0.7 -3.6M342.2 117l3.4 1.2M342.2 117l-2.8 2.4M342.2 117l-0.7 -3.6M346.3 121.8l3.4 1.2M346.3 121.8l-2.8 2.4M346.3 121.8l-0.7 -3.6M278.9 34.4l3.4 1.2M278.9 34.4l-0.7 -3.6M282.9 39.2l3.4 1.2M282.9 39.2l-2.8 2.4M282.9 39.2l-0.7 -3.6M287 44l3.4 1.2M287 44l-2.8 2.4M287 44l-0.7 -3.6M291.1 48.8l3.4 1.2M291.1 48.8l-2.8 2.4M291.1 48.8l-0.7 -3.6M295.2 53.6l3.4 1.2M295.2 53.6l-2.8 2.4M295.2 53.6l-0.7 -3.6M299.3 58.4l3.4 1.2M299.3 58.4l-2.8 2.4M299.3 58.4l-0.7 -3.6M303.4 63.2l3.4 1.2M303.4 63.2l-2.8 2.4M303.4 63.2l-0.7 -3.6M307.5 68l3.4 1.2M307.5 68l-2.8 2.4M307.5 68l-0.7 -3.6M311.6 72.8l3.4 1.2M311.6 72.8l-2.8 2.4M311.6 72.8l-0.7 -3.6M315.7 77.5l3.4 1.2M315.7 77.5l-2.8 2.4M315.7 77.5l-0.7 -3.6M319.8 82.3l3.4 1.2M319.8 82.3l-2.8 2.4M319.8 82.3l-0.7 -3.6M323.9 87.1l3.4 1.2M323.9 87.1l-2.8 2.4M323.9 87.1l-0.7 -3.6M328 91.9l3.4 1.2M328 91.9l-2.8 2.4M328 91.9l-0.7 -3.6M332 96.7l3.4 1.2M332 96.7l-2.8 2.4M332 96.7l-0.7 -3.6M336.1 101.5l3.4 1.2M336.1 101.5l-2.8 2.4M336.1 101.5l-0.7 -3.6M340.2 106.3l3.4 1.2M340.2 106.3l-2.8 2.4M340.2 106.3l-0.7 -3.6M344.3 111.1l3.4 1.2M344.3 111.1l-2.8 2.4M344.3 111.1l-0.7 -3.6M348.4 115.9l3.4 1.2M348.4 115.9l-2.8 2.4M348.4 115.9l-0.7 -3.6M352.5 120.7l3.4 1.2M352.5 120.7l-2.8 2.4M352.5 120.7l-0.7 -3.6M281 28.5l3.4 1.2M281 28.5l-2.8 2.4M281 28.5l-0.7 -3.6M285 33.3l3.4 1.2M285 33.3l-2.8 2.4M285 33.3l-0.7 -3.6M289.1 38.1l3.4 1.2M289.1 38.1l-2.8 2.4M289.1 38.1l-0.7 -3.6M293.2 42.9l3.4 1.2M293.2 42.9l-2.8 2.4M293.2 42.9l-0.7 -3.6M297.3 47.7l3.4 1.2M297.3 47.7l-2.8 2.4M297.3 47.7l-0.7 -3.6M301.4 52.4l3.4 1.2M301.4 52.4l-2.8 2.4M301.4 52.4l-0.7 -3.6M305.5 57.2l3.4 1.2M305.5 57.2l-2.8 2.4M305.5 57.2l-0.7 -3.6M309.6 62l3.4 1.2M309.6 62l-2.8 2.4M309.6 62l-0.7 -3.6M313.7 66.8l3.4 1.2M313.7 66.8l-2.8 2.4M313.7 66.8l-0.7 -3.6M317.8 71.6l3.4 1.2M317.8 71.6l-2.8 2.4M317.8 71.6l-0.7 -3.6M321.9 76.4l3.4 1.2M321.9 76.4l-2.8 2.4M321.9 76.4l-0.7 -3.6M326 81.2l3.4 1.2M326 81.2l-2.8 2.4M326 81.2l-0.7 -3.6M330.1 86l3.4 1.2M330.1 86l-2.8 2.4M330.1 86l-0.7 -3.6M334.1 90.8l3.4 1.2M334.1 90.8l-2.8 2.4M334.1 90.8l-0.7 -3.6M338.2 95.6l3.4 1.2M338.2 95.6l-2.8 2.4M338.2 95.6l-0.7 -3.6M342.3 100.4l3.4 1.2M342.3 100.4l-2.8 2.4M342.3 100.4l-0.7 -3.6M346.4 105.1l3.4 1.2M346.4 105.1l-2.8 2.4M346.4 105.1l-0.7 -3.6M350.5 109.9l3.4 1.2M350.5 109.9l-2.8 2.4M350.5 109.9l-0.7 -3.6M354.6 114.7l3.4 1.2M354.6 114.7l-2.8 2.4M354.6 114.7l-0.7 -3.6M358.7 119.5l3.4 1.2M358.7 119.5l-2.8 2.4M358.7 119.5l-0.7 -3.6M362.8 124.3l-0.7 -3.6M279 17.8l3.4 1.2M279 17.8l-0.7 -3.6M283.1 22.6l3.4 1.2M283.1 22.6l-2.8 2.4M283.1 22.6l-0.7 -3.6M287.2 27.3l3.4 1.2M287.2 27.3l-2.8 2.4M287.2 27.3l-0.7 -3.6M291.2 32.1l3.4 1.2M291.2 32.1l-2.8 2.4M291.2 32.1l-0.7 -3.6M295.3 36.9l3.4 1.2M295.3 36.9l-2.8 2.4M295.3 36.9l-0.7 -3.6M299.4 41.7l3.4 1.2M299.4 41.7l-2.8 2.4M299.4 41.7l-0.7 -3.6M303.5 46.5l3.4 1.2M303.5 46.5l-2.8 2.4M303.5 46.5l-0.7 -3.6M307.6 51.3l3.4 1.2M307.6 51.3l-2.8 2.4M307.6 51.3l-0.7 -3.6M311.7 56.1l3.4 1.2M311.7 56.1l-2.8 2.4M311.7 56.1l-0.7 -3.6M315.8 60.9l3.4 1.2M315.8 60.9l-2.8 2.4M315.8 60.9l-0.7 -3.6M319.9 65.7l3.4 1.2M319.9 65.7l-2.8 2.4M319.9 65.7l-0.7 -3.6M324 70.5l3.4 1.2M324 70.5l-2.8 2.4M324 70.5l-0.7 -3.6M328.1 75.3l3.4 1.2M328.1 75.3l-2.8 2.4M328.1 75.3l-0.7 -3.6M332.2 80l3.4 1.2M332.2 80l-2.8 2.4M332.2 80l-0.7 -3.6M336.3 84.8l3.4 1.2M336.3 84.8l-2.8 2.4M336.3 84.8l-0.7 -3.6M340.3 89.6l3.4 1.2M340.3 89.6l-2.8 2.4M340.3 89.6l-0.7 -3.6M344.4 94.4l3.4 1.2M344.4 94.4l-2.8 2.4M344.4 94.4l-0.7 -3.6M348.5 99.2l3.4 1.2M348.5 99.2l-2.8 2.4M348.5 99.2l-0.7 -3.6M352.6 104l3.4 1.2M352.6 104l-2.8 2.4M352.6 104l-0.7 -3.6M356.7 108.8l3.4 1.2M356.7 108.8l-2.8 2.4M356.7 108.8l-0.7 -3.6M360.8 113.6l3.4 1.2M360.8 113.6l-2.8 2.4M360.8 113.6l-0.7 -3.6M364.9 118.4l3.4 1.2M364.9 118.4l-2.8 2.4M364.9 118.4l-0.7 -3.6M369 123.2l3.4 1.2M369 123.2l-0.7 -3.6M281.1 11.8l3.4 1.2M281.1 11.8l-2.8 2.4M285.2 16.6l3.4 1.2M285.2 16.6l-2.8 2.4M285.2 16.6l-0.7 -3.6M289.3 21.4l3.4 1.2M289.3 21.4l-2.8 2.4M289.3 21.4l-0.7 -3.6M293.3 26.2l3.4 1.2M293.3 26.2l-2.8 2.4M293.3 26.2l-0.7 -3.6M297.4 31l3.4 1.2M297.4 31l-2.8 2.4M297.4 31l-0.7 -3.6M301.5 35.8l3.4 1.2M301.5 35.8l-2.8 2.4M301.5 35.8l-0.7 -3.6M305.6 40.6l3.4 1.2M305.6 40.6l-2.8 2.4M305.6 40.6l-0.7 -3.6M309.7 45.4l3.4 1.2M309.7 45.4l-2.8 2.4M309.7 45.4l-0.7 -3.6M313.8 50.1l3.4 1.2M313.8 50.1l-2.8 2.4M313.8 50.1l-0.7 -3.6M317.9 54.9l3.4 1.2M317.9 54.9l-2.8 2.4M317.9 54.9l-0.7 -3.6M322 59.7l3.4 1.2M322 59.7l-2.8 2.4M322 59.7l-0.7 -3.6M326.1 64.5l3.4 1.2M326.1 64.5l-2.8 2.4M326.1 64.5l-0.7 -3.6M330.2 69.3l3.4 1.2M330.2 69.3l-2.8 2.4M330.2 69.3l-0.7 -3.6M334.3 74.1l3.4 1.2M334.3 74.1l-2.8 2.4M334.3 74.1l-0.7 -3.6M338.4 78.9l3.4 1.2M338.4 78.9l-2.8 2.4M338.4 78.9l-0.7 -3.6M342.4 83.7l3.4 1.2M342.4 83.7l-2.8 2.4M342.4 83.7l-0.7 -3.6M346.5 88.5l3.4 1.2M346.5 88.5l-2.8 2.4M346.5 88.5l-0.7 -3.6M350.6 93.3l3.4 1.2M350.6 93.3l-2.8 2.4M350.6 93.3l-0.7 -3.6M354.7 98.1l3.4 1.2M354.7 98.1l-2.8 2.4M354.7 98.1l-0.7 -3.6M358.8 102.8l3.4 1.2M358.8 102.8l-2.8 2.4M358.8 102.8l-0.7 -3.6M362.9 107.6l3.4 1.2M362.9 107.6l-2.8 2.4M362.9 107.6l-0.7 -3.6M367 112.4l3.4 1.2M367 112.4l-2.8 2.4M367 112.4l-0.7 -3.6M371.1 117.2l3.4 1.2M371.1 117.2l-2.8 2.4M371.1 117.2l-0.7 -3.6M375.2 122l3.4 1.2M375.2 122l-2.8 2.4M375.2 122l-0.7 -3.6M287.3 10.7l3.4 1.2M287.3 10.7l-2.8 2.4M291.4 15.5l3.4 1.2M291.4 15.5l-2.8 2.4M291.4 15.5l-0.7 -3.6M295.4 20.3l3.4 1.2M295.4 20.3l-2.8 2.4M295.4 20.3l-0.7 -3.6M299.5 25l3.4 1.2M299.5 25l-2.8 2.4M299.5 25l-0.7 -3.6M303.6 29.8l3.4 1.2M303.6 29.8l-2.8 2.4M303.6 29.8l-0.7 -3.6M307.7 34.6l3.4 1.2M307.7 34.6l-2.8 2.4M307.7 34.6l-0.7 -3.6M311.8 39.4l3.4 1.2M311.8 39.4l-2.8 2.4M311.8 39.4l-0.7 -3.6M315.9 44.2l3.4 1.2M315.9 44.2l-2.8 2.4M315.9 44.2l-0.7 -3.6M320 49l3.4 1.2M320 49l-2.8 2.4M320 49l-0.7 -3.6M324.1 53.8l3.4 1.2M324.1 53.8l-2.8 2.4M324.1 53.8l-0.7 -3.6M328.2 58.6l3.4 1.2M328.2 58.6l-2.8 2.4M328.2 58.6l-0.7 -3.6M332.3 63.4l3.4 1.2M332.3 63.4l-2.8 2.4M332.3 63.4l-0.7 -3.6M336.4 68.2l3.4 1.2M336.4 68.2l-2.8 2.4M336.4 68.2l-0.7 -3.6M340.5 73l3.4 1.2M340.5 73l-2.8 2.4M340.5 73l-0.7 -3.6M344.5 77.7l3.4 1.2M344.5 77.7l-2.8 2.4M344.5 77.7l-0.7 -3.6M348.6 82.5l3.4 1.2M348.6 82.5l-2.8 2.4M348.6 82.5l-0.7 -3.6M352.7 87.3l3.4 1.2M352.7 87.3l-2.8 2.4M352.7 87.3l-0.7 -3.6M356.8 92.1l3.4 1.2M356.8 92.1l-2.8 2.4M356.8 92.1l-0.7 -3.6M360.9 96.9l3.4 1.2M360.9 96.9l-2.8 2.4M360.9 96.9l-0.7 -3.6M365 101.7l3.4 1.2M365 101.7l-2.8 2.4M365 101.7l-0.7 -3.6M369.1 106.5l3.4 1.2M369.1 106.5l-2.8 2.4M369.1 106.5l-0.7 -3.6M373.2 111.3l3.4 1.2M373.2 111.3l-2.8 2.4M373.2 111.3l-0.7 -3.6M377.3 116.1l3.4 1.2M377.3 116.1l-2.8 2.4M377.3 116.1l-0.7 -3.6M381.4 120.9l3.4 1.2M381.4 120.9l-2.8 2.4M381.4 120.9l-0.7 -3.6M293.5 9.5l3.4 1.2M293.5 9.5l-2.8 2.4M297.6 14.3l3.4 1.2M297.6 14.3l-2.8 2.4M297.6 14.3l-0.7 -3.6M301.6 19.1l3.4 1.2M301.6 19.1l-2.8 2.4M301.6 19.1l-0.7 -3.6M305.7 23.9l3.4 1.2M305.7 23.9l-2.8 2.4M305.7 23.9l-0.7 -3.6M309.8 28.7l3.4 1.2M309.8 28.7l-2.8 2.4M309.8 28.7l-0.7 -3.6M313.9 33.5l3.4 1.2M313.9 33.5l-2.8 2.4M313.9 33.5l-0.7 -3.6M318 38.3l3.4 1.2M318 38.3l-2.8 2.4M318 38.3l-0.7 -3.6M322.1 43.1l3.4 1.2M322.1 43.1l-2.8 2.4M322.1 43.1l-0.7 -3.6M326.2 47.9l3.4 1.2M326.2 47.9l-2.8 2.4M326.2 47.9l-0.7 -3.6M330.3 52.6l3.4 1.2M330.3 52.6l-2.8 2.4M330.3 52.6l-0.7 -3.6M334.4 57.4l3.4 1.2M334.4 57.4l-2.8 2.4M334.4 57.4l-0.7 -3.6M338.5 62.2l3.4 1.2M338.5 62.2l-2.8 2.4M338.5 62.2l-0.7 -3.6M342.6 67l3.4 1.2M342.6 67l-2.8 2.4M342.6 67l-0.7 -3.6M346.7 71.8l3.4 1.2M346.7 71.8l-2.8 2.4M346.7 71.8l-0.7 -3.6M350.7 76.6l3.4 1.2M350.7 76.6l-2.8 2.4M350.7 76.6l-0.7 -3.6M354.8 81.4l3.4 1.2M354.8 81.4l-2.8 2.4M354.8 81.4l-0.7 -3.6M358.9 86.2l3.4 1.2M358.9 86.2l-2.8 2.4M358.9 86.2l-0.7 -3.6M363 91l3.4 1.2M363 91l-2.8 2.4M363 91l-0.7 -3.6M367.1 95.8l3.4 1.2M367.1 95.8l-2.8 2.4M367.1 95.8l-0.7 -3.6M371.2 100.5l3.4 1.2M371.2 100.5l-2.8 2.4M371.2 100.5l-0.7 -3.6M375.3 105.3l3.4 1.2M375.3 105.3l-2.8 2.4M375.3 105.3l-0.7 -3.6M379.4 110.1l3.4 1.2M379.4 110.1l-2.8 2.4M379.4 110.1l-0.7 -3.6M383.5 114.9l3.4 1.2M383.5 114.9l-2.8 2.4M383.5 114.9l-0.7 -3.6M387.6 119.7l3.4 1.2M387.6 119.7l-2.8 2.4M387.6 119.7l-0.7 -3.6M391.7 124.5l-0.7 -3.6M303.7 13.2l3.4 1.2M303.7 13.2l-2.8 2.4M303.7 13.2l-0.7 -3.6M307.8 18l3.4 1.2M307.8 18l-2.8 2.4M307.8 18l-0.7 -3.6M311.9 22.8l3.4 1.2M311.9 22.8l-2.8 2.4M311.9 22.8l-0.7 -3.6M316 27.5l3.4 1.2M316 27.5l-2.8 2.4M316 27.5l-0.7 -3.6M320.1 32.3l3.4 1.2M320.1 32.3l-2.8 2.4M320.1 32.3l-0.7 -3.6M324.2 37.1l3.4 1.2M324.2 37.1l-2.8 2.4M324.2 37.1l-0.7 -3.6M328.3 41.9l3.4 1.2M328.3 41.9l-2.8 2.4M328.3 41.9l-0.7 -3.6M332.4 46.7l3.4 1.2M332.4 46.7l-2.8 2.4M332.4 46.7l-0.7 -3.6M336.5 51.5l3.4 1.2M336.5 51.5l-2.8 2.4M336.5 51.5l-0.7 -3.6M340.6 56.3l3.4 1.2M340.6 56.3l-2.8 2.4M340.6 56.3l-0.7 -3.6M344.7 61.1l3.4 1.2M344.7 61.1l-2.8 2.4M344.7 61.1l-0.7 -3.6M348.8 65.9l3.4 1.2M348.8 65.9l-2.8 2.4M348.8 65.9l-0.7 -3.6M352.8 70.7l3.4 1.2M352.8 70.7l-2.8 2.4M352.8 70.7l-0.7 -3.6M356.9 75.4l3.4 1.2M356.9 75.4l-2.8 2.4M356.9 75.4l-0.7 -3.6M361 80.2l3.4 1.2M361 80.2l-2.8 2.4M361 80.2l-0.7 -3.6M365.1 85l3.4 1.2M365.1 85l-2.8 2.4M365.1 85l-0.7 -3.6M369.2 89.8l3.4 1.2M369.2 89.8l-2.8 2.4M369.2 89.8l-0.7 -3.6M373.3 94.6l3.4 1.2M373.3 94.6l-2.8 2.4M373.3 94.6l-0.7 -3.6M377.4 99.4l3.4 1.2M377.4 99.4l-2.8 2.4M377.4 99.4l-0.7 -3.6M381.5 104.2l3.4 1.2M381.5 104.2l-2.8 2.4M381.5 104.2l-0.7 -3.6M385.6 109l3.4 1.2M385.6 109l-2.8 2.4M385.6 109l-0.7 -3.6M389.7 113.8l3.4 1.2M389.7 113.8l-2.8 2.4M389.7 113.8l-0.7 -3.6M393.8 118.6l3.4 1.2M393.8 118.6l-2.8 2.4M393.8 118.6l-0.7 -3.6M397.9 123.4l3.4 1.2M397.9 123.4l-0.7 -3.6M309.9 12l3.4 1.2M309.9 12l-2.8 2.4M314 16.8l3.4 1.2M314 16.8l-2.8 2.4M314 16.8l-0.7 -3.6M318.1 21.6l3.4 1.2M318.1 21.6l-2.8 2.4M318.1 21.6l-0.7 -3.6M322.2 26.4l3.4 1.2M322.2 26.4l-2.8 2.4M322.2 26.4l-0.7 -3.6M326.3 31.2l3.4 1.2M326.3 31.2l-2.8 2.4M326.3 31.2l-0.7 -3.6M330.4 36l3.4 1.2M330.4 36l-2.8 2.4M330.4 36l-0.7 -3.6M334.5 40.8l3.4 1.2M334.5 40.8l-2.8 2.4M334.5 40.8l-0.7 -3.6M338.6 45.6l3.4 1.2M338.6 45.6l-2.8 2.4M338.6 45.6l-0.7 -3.6M342.7 50.3l3.4 1.2M342.7 50.3l-2.8 2.4M342.7 50.3l-0.7 -3.6M346.8 55.1l3.4 1.2M346.8 55.1l-2.8 2.4M346.8 55.1l-0.7 -3.6M350.9 59.9l3.4 1.2M350.9 59.9l-2.8 2.4M350.9 59.9l-0.7 -3.6M354.9 64.7l3.4 1.2M354.9 64.7l-2.8 2.4M354.9 64.7l-0.7 -3.6M359 69.5l3.4 1.2M359 69.5l-2.8 2.4M359 69.5l-0.7 -3.6M363.1 74.3l3.4 1.2M363.1 74.3l-2.8 2.4M363.1 74.3l-0.7 -3.6M367.2 79.1l3.4 1.2M367.2 79.1l-2.8 2.4M367.2 79.1l-0.7 -3.6M371.3 83.9l3.4 1.2M371.3 83.9l-2.8 2.4M371.3 83.9l-0.7 -3.6M375.4 88.7l3.4 1.2M375.4 88.7l-2.8 2.4M375.4 88.7l-0.7 -3.6M379.5 93.5l3.4 1.2M379.5 93.5l-2.8 2.4M379.5 93.5l-0.7 -3.6M383.6 98.3l3.4 1.2M383.6 98.3l-2.8 2.4M383.6 98.3l-0.7 -3.6M387.7 103l3.4 1.2M387.7 103l-2.8 2.4M387.7 103l-0.7 -3.6M391.8 107.8l3.4 1.2M391.8 107.8l-2.8 2.4M391.8 107.8l-0.7 -3.6M395.9 112.6l3.4 1.2M395.9 112.6l-2.8 2.4M395.9 112.6l-0.7 -3.6M400 117.4l3.4 1.2M400 117.4l-2.8 2.4M400 117.4l-0.7 -3.6M404 122.2l3.4 1.2M404 122.2l-2.8 2.4M404 122.2l-0.7 -3.6M316.1 10.9l3.4 1.2M316.1 10.9l-2.8 2.4M320.2 15.7l3.4 1.2M320.2 15.7l-2.8 2.4M320.2 15.7l-0.7 -3.6M324.3 20.5l3.4 1.2M324.3 20.5l-2.8 2.4M324.3 20.5l-0.7 -3.6M328.4 25.2l3.4 1.2M328.4 25.2l-2.8 2.4M328.4 25.2l-0.7 -3.6M332.5 30l3.4 1.2M332.5 30l-2.8 2.4M332.5 30l-0.7 -3.6M336.6 34.8l3.4 1.2M336.6 34.8l-2.8 2.4M336.6 34.8l-0.7 -3.6M340.7 39.6l3.4 1.2M340.7 39.6l-2.8 2.4M340.7 39.6l-0.7 -3.6M344.8 44.4l3.4 1.2M344.8 44.4l-2.8 2.4M344.8 44.4l-0.7 -3.6M348.9 49.2l3.4 1.2M348.9 49.2l-2.8 2.4M348.9 49.2l-0.7 -3.6M353 54l3.4 1.2M353 54l-2.8 2.4M353 54l-0.7 -3.6M357.1 58.8l3.4 1.2M357.1 58.8l-2.8 2.4M357.1 58.8l-0.7 -3.6M361.1 63.6l3.4 1.2M361.1 63.6l-2.8 2.4M361.1 63.6l-0.7 -3.6M365.2 68.4l3.4 1.2M365.2 68.4l-2.8 2.4M365.2 68.4l-0.7 -3.6M369.3 73.2l3.4 1.2M369.3 73.2l-2.8 2.4M369.3 73.2l-0.7 -3.6M373.4 77.9l3.4 1.2M373.4 77.9l-2.8 2.4M373.4 77.9l-0.7 -3.6M377.5 82.7l3.4 1.2M377.5 82.7l-2.8 2.4M377.5 82.7l-0.7 -3.6M381.6 87.5l3.4 1.2M381.6 87.5l-2.8 2.4M381.6 87.5l-0.7 -3.6M385.7 92.3l3.4 1.2M385.7 92.3l-2.8 2.4M385.7 92.3l-0.7 -3.6M389.8 97.1l3.4 1.2M389.8 97.1l-2.8 2.4M389.8 97.1l-0.7 -3.6M393.9 101.9l3.4 1.2M393.9 101.9l-2.8 2.4M393.9 101.9l-0.7 -3.6M398 106.7l3.4 1.2M398 106.7l-2.8 2.4M398 106.7l-0.7 -3.6M402.1 111.5l3.4 1.2M402.1 111.5l-2.8 2.4M402.1 111.5l-0.7 -3.6M406.1 116.3l3.4 1.2M406.1 116.3l-2.8 2.4M406.1 116.3l-0.7 -3.6M410.2 121.1l3.4 1.2M410.2 121.1l-2.8 2.4M410.2 121.1l-0.7 -3.6M322.3 9.7l3.4 1.2M322.3 9.7l-2.8 2.4M326.4 14.5l3.4 1.2M326.4 14.5l-2.8 2.4M326.4 14.5l-0.7 -3.6M330.5 19.3l3.4 1.2M330.5 19.3l-2.8 2.4M330.5 19.3l-0.7 -3.6M334.6 24.1l3.4 1.2M334.6 24.1l-2.8 2.4M334.6 24.1l-0.7 -3.6M338.7 28.9l3.4 1.2M338.7 28.9l-2.8 2.4M338.7 28.9l-0.7 -3.6M342.8 33.7l3.4 1.2M342.8 33.7l-2.8 2.4M342.8 33.7l-0.7 -3.6M346.9 38.5l3.4 1.2M346.9 38.5l-2.8 2.4M346.9 38.5l-0.7 -3.6M351 43.3l3.4 1.2M351 43.3l-2.8 2.4M351 43.3l-0.7 -3.6M355.1 48.1l3.4 1.2M355.1 48.1l-2.8 2.4M355.1 48.1l-0.7 -3.6M359.2 52.8l3.4 1.2M359.2 52.8l-2.8 2.4M359.2 52.8l-0.7 -3.6M363.2 57.6l3.4 1.2M363.2 57.6l-2.8 2.4M363.2 57.6l-0.7 -3.6M367.3 62.4l3.4 1.2M367.3 62.4l-2.8 2.4M367.3 62.4l-0.7 -3.6M371.4 67.2l3.4 1.2M371.4 67.2l-2.8 2.4M371.4 67.2l-0.7 -3.6M375.5 72l3.4 1.2M375.5 72l-2.8 2.4M375.5 72l-0.7 -3.6M379.6 76.8l3.4 1.2M379.6 76.8l-2.8 2.4M379.6 76.8l-0.7 -3.6M383.7 81.6l3.4 1.2M383.7 81.6l-2.8 2.4M383.7 81.6l-0.7 -3.6M387.8 86.4l3.4 1.2M387.8 86.4l-2.8 2.4M387.8 86.4l-0.7 -3.6M391.9 91.2l3.4 1.2M391.9 91.2l-2.8 2.4M391.9 91.2l-0.7 -3.6M396 96l3.4 1.2M396 96l-2.8 2.4M396 96l-0.7 -3.6M400.1 100.7l3.4 1.2M400.1 100.7l-2.8 2.4M400.1 100.7l-0.7 -3.6M404.2 105.5l3.4 1.2M404.2 105.5l-2.8 2.4M404.2 105.5l-0.7 -3.6M408.3 110.3l3.4 1.2M408.3 110.3l-2.8 2.4M408.3 110.3l-0.7 -3.6M412.3 115.1l3.4 1.2M412.3 115.1l-2.8 2.4M412.3 115.1l-0.7 -3.6M416.4 119.9l3.4 1.2M416.4 119.9l-2.8 2.4M416.4 119.9l-0.7 -3.6M420.5 124.7l-0.7 -3.6M332.6 13.4l3.4 1.2M332.6 13.4l-2.8 2.4M332.6 13.4l-0.7 -3.6M336.7 18.2l3.4 1.2M336.7 18.2l-2.8 2.4M336.7 18.2l-0.7 -3.6M340.8 23l3.4 1.2M340.8 23l-2.8 2.4M340.8 23l-0.7 -3.6M344.9 27.7l3.4 1.2M344.9 27.7l-2.8 2.4M344.9 27.7l-0.7 -3.6M349 32.5l3.4 1.2M349 32.5l-2.8 2.4M349 32.5l-0.7 -3.6M353.1 37.3l3.4 1.2M353.1 37.3l-2.8 2.4M353.1 37.3l-0.7 -3.6M357.2 42.1l3.4 1.2M357.2 42.1l-2.8 2.4M357.2 42.1l-0.7 -3.6M361.3 46.9l3.4 1.2M361.3 46.9l-2.8 2.4M361.3 46.9l-0.7 -3.6M365.3 51.7l3.4 1.2M365.3 51.7l-2.8 2.4M365.3 51.7l-0.7 -3.6M369.4 56.5l3.4 1.2M369.4 56.5l-2.8 2.4M369.4 56.5l-0.7 -3.6M373.5 61.3l3.4 1.2M373.5 61.3l-2.8 2.4M373.5 61.3l-0.7 -3.6M377.6 66.1l3.4 1.2M377.6 66.1l-2.8 2.4M377.6 66.1l-0.7 -3.6M381.7 70.9l3.4 1.2M381.7 70.9l-2.8 2.4M381.7 70.9l-0.7 -3.6M385.8 75.6l3.4 1.2M385.8 75.6l-2.8 2.4M385.8 75.6l-0.7 -3.6M389.9 80.4l3.4 1.2M389.9 80.4l-2.8 2.4M389.9 80.4l-0.7 -3.6M394 85.2l3.4 1.2M394 85.2l-2.8 2.4M394 85.2l-0.7 -3.6M398.1 90l3.4 1.2M398.1 90l-2.8 2.4M398.1 90l-0.7 -3.6M402.2 94.8l3.4 1.2M402.2 94.8l-2.8 2.4M402.2 94.8l-0.7 -3.6M406.3 99.6l3.4 1.2M406.3 99.6l-2.8 2.4M406.3 99.6l-0.7 -3.6M410.4 104.4l3.4 1.2M410.4 104.4l-2.8 2.4M410.4 104.4l-0.7 -3.6M414.4 109.2l3.4 1.2M414.4 109.2l-2.8 2.4M414.4 109.2l-0.7 -3.6M418.5 114l3.4 1.2M418.5 114l-2.8 2.4M418.5 114l-0.7 -3.6M422.6 118.8l3.4 1.2M422.6 118.8l-2.8 2.4M422.6 118.8l-0.7 -3.6M426.7 123.6l3.4 1.2M426.7 123.6l-0.7 -3.6M338.8 12.2l3.4 1.2M338.8 12.2l-2.8 2.4M342.9 17l3.4 1.2M342.9 17l-2.8 2.4M342.9 17l-0.7 -3.6M347 21.8l3.4 1.2M347 21.8l-2.8 2.4M347 21.8l-0.7 -3.6M351.1 26.6l3.4 1.2M351.1 26.6l-2.8 2.4M351.1 26.6l-0.7 -3.6M355.2 31.4l3.4 1.2M355.2 31.4l-2.8 2.4M355.2 31.4l-0.7 -3.6M359.3 36.2l3.4 1.2M359.3 36.2l-2.8 2.4M359.3 36.2l-0.7 -3.6M363.4 41l3.4 1.2M363.4 41l-2.8 2.4M363.4 41l-0.7 -3.6M367.5 45.8l3.4 1.2M367.5 45.8l-2.8 2.4M367.5 45.8l-0.7 -3.6M371.5 50.5l3.4 1.2M371.5 50.5l-2.8 2.4M371.5 50.5l-0.7 -3.6M375.6 55.3l3.4 1.2M375.6 55.3l-2.8 2.4M375.6 55.3l-0.7 -3.6M379.7 60.1l3.4 1.2M379.7 60.1l-2.8 2.4M379.7 60.1l-0.7 -3.6M383.8 64.9l3.4 1.2M383.8 64.9l-2.8 2.4M383.8 64.9l-0.7 -3.6M387.9 69.7l3.4 1.2M387.9 69.7l-2.8 2.4M387.9 69.7l-0.7 -3.6M392 74.5l3.4 1.2M392 74.5l-2.8 2.4M392 74.5l-0.7 -3.6M396.1 79.3l3.4 1.2M396.1 79.3l-2.8 2.4M396.1 79.3l-0.7 -3.6M400.2 84.1l3.4 1.2M400.2 84.1l-2.8 2.4M400.2 84.1l-0.7 -3.6M404.3 88.9l3.4 1.2M404.3 88.9l-2.8 2.4M404.3 88.9l-0.7 -3.6M408.4 93.7l3.4 1.2M408.4 93.7l-2.8 2.4M408.4 93.7l-0.7 -3.6M412.5 98.5l3.4 1.2M412.5 98.5l-2.8 2.4M412.5 98.5l-0.7 -3.6M416.5 103.2l3.4 1.2M416.5 103.2l-2.8 2.4M416.5 103.2l-0.7 -3.6M420.6 108l3.4 1.2M420.6 108l-2.8 2.4M420.6 108l-0.7 -3.6M424.7 112.8l3.4 1.2M424.7 112.8l-2.8 2.4M424.7 112.8l-0.7 -3.6M428.8 117.6l3.4 1.2M428.8 117.6l-2.8 2.4M428.8 117.6l-0.7 -3.6M432.9 122.4l3.4 1.2M432.9 122.4l-2.8 2.4M432.9 122.4l-0.7 -3.6M345 11.1l3.4 1.2M345 11.1l-2.8 2.4M349.1 15.9l3.4 1.2M349.1 15.9l-2.8 2.4M349.1 15.9l-0.7 -3.6M353.2 20.7l3.4 1.2M353.2 20.7l-2.8 2.4M353.2 20.7l-0.7 -3.6M357.3 25.4l3.4 1.2M357.3 25.4l-2.8 2.4M357.3 25.4l-0.7 -3.6M361.4 30.2l3.4 1.2M361.4 30.2l-2.8 2.4M361.4 30.2l-0.7 -3.6M365.5 35l3.4 1.2M365.5 35l-2.8 2.4M365.5 35l-0.7 -3.6M369.6 39.8l3.4 1.2M369.6 39.8l-2.8 2.4M369.6 39.8l-0.7 -3.6M373.6 44.6l3.4 1.2M373.6 44.6l-2.8 2.4M373.6 44.6l-0.7 -3.6M377.7 49.4l3.4 1.2M377.7 49.4l-2.8 2.4M377.7 49.4l-0.7 -3.6M381.8 54.2l3.4 1.2M381.8 54.2l-2.8 2.4M381.8 54.2l-0.7 -3.6M385.9 59l3.4 1.2M385.9 59l-2.8 2.4M385.9 59l-0.7 -3.6M390 63.8l3.4 1.2M390 63.8l-2.8 2.4M390 63.8l-0.7 -3.6M394.1 68.6l3.4 1.2M394.1 68.6l-2.8 2.4M394.1 68.6l-0.7 -3.6M398.2 73.4l3.4 1.2M398.2 73.4l-2.8 2.4M398.2 73.4l-0.7 -3.6M402.3 78.1l3.4 1.2M402.3 78.1l-2.8 2.4M402.3 78.1l-0.7 -3.6M406.4 82.9l3.4 1.2M406.4 82.9l-2.8 2.4M406.4 82.9l-0.7 -3.6M410.5 87.7l3.4 1.2M410.5 87.7l-2.8 2.4M410.5 87.7l-0.7 -3.6M414.6 92.5l3.4 1.2M414.6 92.5l-2.8 2.4M414.6 92.5l-0.7 -3.6M418.7 97.3l3.4 1.2M418.7 97.3l-2.8 2.4M418.7 97.3l-0.7 -3.6M422.7 102.1l3.4 1.2M422.7 102.1l-2.8 2.4M422.7 102.1l-0.7 -3.6M426.8 106.9l3.4 1.2M426.8 106.9l-2.8 2.4M426.8 106.9l-0.7 -3.6M430.9 111.7l3.4 1.2M430.9 111.7l-2.8 2.4M430.9 111.7l-0.7 -3.6M435 116.5l3.4 1.2M435 116.5l-2.8 2.4M435 116.5l-0.7 -3.6M439.1 121.3l3.4 1.2M439.1 121.3l-2.8 2.4M439.1 121.3l-0.7 -3.6M351.2 9.9l3.4 1.2M351.2 9.9l-2.8 2.4M355.3 14.7l3.4 1.2M355.3 14.7l-2.8 2.4M355.3 14.7l-0.7 -3.6M359.4 19.5l3.4 1.2M359.4 19.5l-2.8 2.4M359.4 19.5l-0.7 -3.6M363.5 24.3l3.4 1.2M363.5 24.3l-2.8 2.4M363.5 24.3l-0.7 -3.6M367.6 29.1l3.4 1.2M367.6 29.1l-2.8 2.4M367.6 29.1l-0.7 -3.6M371.7 33.9l3.4 1.2M371.7 33.9l-2.8 2.4M371.7 33.9l-0.7 -3.6M375.7 38.7l3.4 1.2M375.7 38.7l-2.8 2.4M375.7 38.7l-0.7 -3.6M379.8 43.5l3.4 1.2M379.8 43.5l-2.8 2.4M379.8 43.5l-0.7 -3.6M383.9 48.3l3.4 1.2M383.9 48.3l-2.8 2.4M383.9 48.3l-0.7 -3.6M388 53l3.4 1.2M388 53l-2.8 2.4M388 53l-0.7 -3.6M392.1 57.8l3.4 1.2M392.1 57.8l-2.8 2.4M392.1 57.8l-0.7 -3.6M396.2 62.6l3.4 1.2M396.2 62.6l-2.8 2.4M396.2 62.6l-0.7 -3.6M400.3 67.4l3.4 1.2M400.3 67.4l-2.8 2.4M400.3 67.4l-0.7 -3.6M404.4 72.2l3.4 1.2M404.4 72.2l-2.8 2.4M404.4 72.2l-0.7 -3.6M408.5 77l3.4 1.2M408.5 77l-2.8 2.4M408.5 77l-0.7 -3.6M412.6 81.8l3.4 1.2M412.6 81.8l-2.8 2.4M412.6 81.8l-0.7 -3.6M416.7 86.6l3.4 1.2M416.7 86.6l-2.8 2.4M416.7 86.6l-0.7 -3.6M420.8 91.4l3.4 1.2M420.8 91.4l-2.8 2.4M420.8 91.4l-0.7 -3.6M424.8 96.2l3.4 1.2M424.8 96.2l-2.8 2.4M424.8 96.2l-0.7 -3.6M428.9 100.9l3.4 1.2M428.9 100.9l-2.8 2.4M428.9 100.9l-0.7 -3.6M433 105.7l3.4 1.2M433 105.7l-2.8 2.4M433 105.7l-0.7 -3.6M437.1 110.5l3.4 1.2M437.1 110.5l-2.8 2.4M437.1 110.5l-0.7 -3.6M441.2 115.3l3.4 1.2M441.2 115.3l-2.8 2.4M441.2 115.3l-0.7 -3.6M445.3 120.1l3.4 1.2M445.3 120.1l-2.8 2.4M445.3 120.1l-0.7 -3.6M449.4 124.9l-0.7 -3.6M361.5 13.6l3.4 1.2M361.5 13.6l-2.8 2.4M361.5 13.6l-0.7 -3.6M365.6 18.4l3.4 1.2M365.6 18.4l-2.8 2.4M365.6 18.4l-0.7 -3.6M369.7 23.1l3.4 1.2M369.7 23.1l-2.8 2.4M369.7 23.1l-0.7 -3.6M373.8 27.9l3.4 1.2M373.8 27.9l-2.8 2.4M373.8 27.9l-0.7 -3.6M377.9 32.7l3.4 1.2M377.9 32.7l-2.8 2.4M377.9 32.7l-0.7 -3.6M381.9 37.5l3.4 1.2M381.9 37.5l-2.8 2.4M381.9 37.5l-0.7 -3.6M386 42.3l3.4 1.2M386 42.3l-2.8 2.4M386 42.3l-0.7 -3.6M390.1 47.1l3.4 1.2M390.1 47.1l-2.8 2.4M390.1 47.1l-0.7 -3.6M394.2 51.9l3.4 1.2M394.2 51.9l-2.8 2.4M394.2 51.9l-0.7 -3.6M398.3 56.7l3.4 1.2M398.3 56.7l-2.8 2.4M398.3 56.7l-0.7 -3.6M402.4 61.5l3.4 1.2M402.4 61.5l-2.8 2.4M402.4 61.5l-0.7 -3.6M406.5 66.3l3.4 1.2M406.5 66.3l-2.8 2.4M406.5 66.3l-0.7 -3.6M410.6 71.1l3.4 1.2M410.6 71.1l-2.8 2.4M410.6 71.1l-0.7 -3.6M414.7 75.8l3.4 1.2M414.7 75.8l-2.8 2.4M414.7 75.8l-0.7 -3.6M418.8 80.6l3.4 1.2M418.8 80.6l-2.8 2.4M418.8 80.6l-0.7 -3.6M422.9 85.4l3.4 1.2M422.9 85.4l-2.8 2.4M422.9 85.4l-0.7 -3.6M427 90.2l3.4 1.2M427 90.2l-2.8 2.4M427 90.2l-0.7 -3.6M431 95l3.4 1.2M431 95l-2.8 2.4M431 95l-0.7 -3.6M435.1 99.8l3.4 1.2M435.1 99.8l-2.8 2.4M435.1 99.8l-0.7 -3.6M439.2 104.6l3.4 1.2M439.2 104.6l-2.8 2.4M439.2 104.6l-0.7 -3.6M443.3 109.4l3.4 1.2M443.3 109.4l-2.8 2.4M443.3 109.4l-0.7 -3.6M447.4 114.2l3.4 1.2M447.4 114.2l-2.8 2.4M447.4 114.2l-0.7 -3.6M451.5 119l3.4 1.2M451.5 119l-2.8 2.4M451.5 119l-0.7 -3.6M455.6 123.8l-0.7 -3.6M367.7 12.4l3.4 1.2M367.7 12.4l-2.8 2.4M371.8 17.2l3.4 1.2M371.8 17.2l-2.8 2.4M371.8 17.2l-0.7 -3.6M375.9 22l3.4 1.2M375.9 22l-2.8 2.4M375.9 22l-0.7 -3.6M380 26.8l3.4 1.2M380 26.8l-2.8 2.4M380 26.8l-0.7 -3.6M384 31.6l3.4 1.2M384 31.6l-2.8 2.4M384 31.6l-0.7 -3.6M388.1 36.4l3.4 1.2M388.1 36.4l-2.8 2.4M388.1 36.4l-0.7 -3.6M392.2 41.2l3.4 1.2M392.2 41.2l-2.8 2.4M392.2 41.2l-0.7 -3.6M396.3 46l3.4 1.2M396.3 46l-2.8 2.4M396.3 46l-0.7 -3.6M400.4 50.7l3.4 1.2M400.4 50.7l-2.8 2.4M400.4 50.7l-0.7 -3.6M404.5 55.5l3.4 1.2M404.5 55.5l-2.8 2.4M404.5 55.5l-0.7 -3.6M408.6 60.3l3.4 1.2M408.6 60.3l-2.8 2.4M408.6 60.3l-0.7 -3.6M412.7 65.1l3.4 1.2M412.7 65.1l-2.8 2.4M412.7 65.1l-0.7 -3.6M416.8 69.9l3.4 1.2M416.8 69.9l-2.8 2.4M416.8 69.9l-0.7 -3.6M420.9 74.7l3.4 1.2M420.9 74.7l-2.8 2.4M420.9 74.7l-0.7 -3.6M425 79.5l3.4 1.2M425 79.5l-2.8 2.4M425 79.5l-0.7 -3.6M429.1 84.3l3.4 1.2M429.1 84.3l-2.8 2.4M429.1 84.3l-0.7 -3.6M433.1 89.1l3.4 1.2M433.1 89.1l-2.8 2.4M433.1 89.1l-0.7 -3.6M437.2 93.9l3.4 1.2M437.2 93.9l-2.8 2.4M437.2 93.9l-0.7 -3.6M441.3 98.7l3.4 1.2M441.3 98.7l-2.8 2.4M441.3 98.7l-0.7 -3.6M445.4 103.4l3.4 1.2M445.4 103.4l-2.8 2.4M445.4 103.4l-0.7 -3.6M449.5 108.2l3.4 1.2M449.5 108.2l-2.8 2.4M449.5 108.2l-0.7 -3.6M453.6 113l3.4 1.2M453.6 113l-2.8 2.4M453.6 113l-0.7 -3.6M457.7 117.8l-2.8 2.4M457.7 117.8l-0.7 -3.6M373.9 11.3l3.4 1.2M373.9 11.3l-2.8 2.4M378 16.1l3.4 1.2M378 16.1l-2.8 2.4M378 16.1l-0.7 -3.6M382.1 20.9l3.4 1.2M382.1 20.9l-2.8 2.4M382.1 20.9l-0.7 -3.6M386.1 25.6l3.4 1.2M386.1 25.6l-2.8 2.4M386.1 25.6l-0.7 -3.6M390.2 30.4l3.4 1.2M390.2 30.4l-2.8 2.4M390.2 30.4l-0.7 -3.6M394.3 35.2l3.4 1.2M394.3 35.2l-2.8 2.4M394.3 35.2l-0.7 -3.6M398.4 40l3.4 1.2M398.4 40l-2.8 2.4M398.4 40l-0.7 -3.6M402.5 44.8l3.4 1.2M402.5 44.8l-2.8 2.4M402.5 44.8l-0.7 -3.6M406.6 49.6l3.4 1.2M406.6 49.6l-2.8 2.4M406.6 49.6l-0.7 -3.6M410.7 54.4l3.4 1.2M410.7 54.4l-2.8 2.4M410.7 54.4l-0.7 -3.6M414.8 59.2l3.4 1.2M414.8 59.2l-2.8 2.4M414.8 59.2l-0.7 -3.6M418.9 64l3.4 1.2M418.9 64l-2.8 2.4M418.9 64l-0.7 -3.6M423 68.8l3.4 1.2M423 68.8l-2.8 2.4M423 68.8l-0.7 -3.6M427.1 73.5l3.4 1.2M427.1 73.5l-2.8 2.4M427.1 73.5l-0.7 -3.6M431.2 78.3l3.4 1.2M431.2 78.3l-2.8 2.4M431.2 78.3l-0.7 -3.6M435.2 83.1l3.4 1.2M435.2 83.1l-2.8 2.4M435.2 83.1l-0.7 -3.6M439.3 87.9l3.4 1.2M439.3 87.9l-2.8 2.4M439.3 87.9l-0.7 -3.6M443.4 92.7l3.4 1.2M443.4 92.7l-2.8 2.4M443.4 92.7l-0.7 -3.6M447.5 97.5l3.4 1.2M447.5 97.5l-2.8 2.4M447.5 97.5l-0.7 -3.6M451.6 102.3l3.4 1.2M451.6 102.3l-2.8 2.4M451.6 102.3l-0.7 -3.6M455.7 107.1l-2.8 2.4M455.7 107.1l-0.7 -3.6M380.1 10.1l3.4 1.2M380.1 10.1l-2.8 2.4M384.2 14.9l3.4 1.2M384.2 14.9l-2.8 2.4M384.2 14.9l-0.7 -3.6M388.3 19.7l3.4 1.2M388.3 19.7l-2.8 2.4M388.3 19.7l-0.7 -3.6M392.3 24.5l3.4 1.2M392.3 24.5l-2.8 2.4M392.3 24.5l-0.7 -3.6M396.4 29.3l3.4 1.2M396.4 29.3l-2.8 2.4M396.4 29.3l-0.7 -3.6M400.5 34.1l3.4 1.2M400.5 34.1l-2.8 2.4M400.5 34.1l-0.7 -3.6M404.6 38.9l3.4 1.2M404.6 38.9l-2.8 2.4M404.6 38.9l-0.7 -3.6M408.7 43.7l3.4 1.2M408.7 43.7l-2.8 2.4M408.7 43.7l-0.7 -3.6M412.8 48.4l3.4 1.2M412.8 48.4l-2.8 2.4M412.8 48.4l-0.7 -3.6M416.9 53.2l3.4 1.2M416.9 53.2l-2.8 2.4M416.9 53.2l-0.7 -3.6M421 58l3.4 1.2M421 58l-2.8 2.4M421 58l-0.7 -3.6M425.1 62.8l3.4 1.2M425.1 62.8l-2.8 2.4M425.1 62.8l-0.7 -3.6M429.2 67.6l3.4 1.2M429.2 67.6l-2.8 2.4M429.2 67.6l-0.7 -3.6M433.3 72.4l3.4 1.2M433.3 72.4l-2.8 2.4M433.3 72.4l-0.7 -3.6M437.4 77.2l3.4 1.2M437.4 77.2l-2.8 2.4M437.4 77.2l-0.7 -3.6M441.4 82l3.4 1.2M441.4 82l-2.8 2.4M441.4 82l-0.7 -3.6M445.5 86.8l3.4 1.2M445.5 86.8l-2.8 2.4M445.5 86.8l-0.7 -3.6M449.6 91.6l3.4 1.2M449.6 91.6l-2.8 2.4M449.6 91.6l-0.7 -3.6M453.7 96.4l3.4 1.2M453.7 96.4l-2.8 2.4M453.7 96.4l-0.7 -3.6M457.8 101.1l-2.8 2.4M457.8 101.1l-0.7 -3.6M390.4 13.8l3.4 1.2M390.4 13.8l-2.8 2.4M390.4 13.8l-0.7 -3.6M394.4 18.6l3.4 1.2M394.4 18.6l-2.8 2.4M394.4 18.6l-0.7 -3.6M398.5 23.3l3.4 1.2M398.5 23.3l-2.8 2.4M398.5 23.3l-0.7 -3.6M402.6 28.1l3.4 1.2M402.6 28.1l-2.8 2.4M402.6 28.1l-0.7 -3.6M406.7 32.9l3.4 1.2M406.7 32.9l-2.8 2.4M406.7 32.9l-0.7 -3.6M410.8 37.7l3.4 1.2M410.8 37.7l-2.8 2.4M410.8 37.7l-0.7 -3.6M414.9 42.5l3.4 1.2M414.9 42.5l-2.8 2.4M414.9 42.5l-0.7 -3.6M419 47.3l3.4 1.2M419 47.3l-2.8 2.4M419 47.3l-0.7 -3.6M423.1 52.1l3.4 1.2M423.1 52.1l-2.8 2.4M423.1 52.1l-0.7 -3.6M427.2 56.9l3.4 1.2M427.2 56.9l-2.8 2.4M427.2 56.9l-0.7 -3.6M431.3 61.7l3.4 1.2M431.3 61.7l-2.8 2.4M431.3 61.7l-0.7 -3.6M435.4 66.5l3.4 1.2M435.4 66.5l-2.8 2.4M435.4 66.5l-0.7 -3.6M439.5 71.3l3.4 1.2M439.5 71.3l-2.8 2.4M439.5 71.3l-0.7 -3.6M443.5 76l3.4 1.2M443.5 76l-2.8 2.4M443.5 76l-0.7 -3.6M447.6 80.8l3.4 1.2M447.6 80.8l-2.8 2.4M447.6 80.8l-0.7 -3.6M451.7 85.6l3.4 1.2M451.7 85.6l-2.8 2.4M451.7 85.6l-0.7 -3.6M455.8 90.4l-2.8 2.4M455.8 90.4l-0.7 -3.6M396.6 12.6l3.4 1.2M396.6 12.6l-2.8 2.4M400.6 17.4l3.4 1.2M400.6 17.4l-2.8 2.4M400.6 17.4l-0.7 -3.6M404.7 22.2l3.4 1.2M404.7 22.2l-2.8 2.4M404.7 22.2l-0.7 -3.6M408.8 27l3.4 1.2M408.8 27l-2.8 2.4M408.8 27l-0.7 -3.6M412.9 31.8l3.4 1.2M412.9 31.8l-2.8 2.4M412.9 31.8l-0.7 -3.6M417 36.6l3.4 1.2M417 36.6l-2.8 2.4M417 36.6l-0.7 -3.6M421.1 41.4l3.4 1.2M421.1 41.4l-2.8 2.4M421.1 41.4l-0.7 -3.6M425.2 46.2l3.4 1.2M425.2 46.2l-2.8 2.4M425.2 46.2l-0.7 -3.6M429.3 50.9l3.4 1.2M429.3 50.9l-2.8 2.4M429.3 50.9l-0.7 -3.6M433.4 55.7l3.4 1.2M433.4 55.7l-2.8 2.4M433.4 55.7l-0.7 -3.6M437.5 60.5l3.4 1.2M437.5 60.5l-2.8 2.4M437.5 60.5l-0.7 -3.6M441.6 65.3l3.4 1.2M441.6 65.3l-2.8 2.4M441.6 65.3l-0.7 -3.6M445.6 70.1l3.4 1.2M445.6 70.1l-2.8 2.4M445.6 70.1l-0.7 -3.6M449.7 74.9l3.4 1.2M449.7 74.9l-2.8 2.4M449.7 74.9l-0.7 -3.6M453.8 79.7l3.4 1.2M453.8 79.7l-2.8 2.4M453.8 79.7l-0.7 -3.6M457.9 84.5l-2.8 2.4M457.9 84.5l-0.7 -3.6M402.7 11.5l3.4 1.2M402.7 11.5l-2.8 2.4M406.8 16.3l3.4 1.2M406.8 16.3l-2.8 2.4M406.8 16.3l-0.7 -3.6M410.9 21.1l3.4 1.2M410.9 21.1l-2.8 2.4M410.9 21.1l-0.7 -3.6M415 25.8l3.4 1.2M415 25.8l-2.8 2.4M415 25.8l-0.7 -3.6M419.1 30.6l3.4 1.2M419.1 30.6l-2.8 2.4M419.1 30.6l-0.7 -3.6M423.2 35.4l3.4 1.2M423.2 35.4l-2.8 2.4M423.2 35.4l-0.7 -3.6M427.3 40.2l3.4 1.2M427.3 40.2l-2.8 2.4M427.3 40.2l-0.7 -3.6M431.4 45l3.4 1.2M431.4 45l-2.8 2.4M431.4 45l-0.7 -3.6M435.5 49.8l3.4 1.2M435.5 49.8l-2.8 2.4M435.5 49.8l-0.7 -3.6M439.6 54.6l3.4 1.2M439.6 54.6l-2.8 2.4M439.6 54.6l-0.7 -3.6M443.7 59.4l3.4 1.2M443.7 59.4l-2.8 2.4M443.7 59.4l-0.7 -3.6M447.8 64.2l3.4 1.2M447.8 64.2l-2.8 2.4M447.8 64.2l-0.7 -3.6M451.8 69l3.4 1.2M451.8 69l-2.8 2.4M451.8 69l-0.7 -3.6M455.9 73.7l-2.8 2.4M455.9 73.7l-0.7 -3.6M408.9 10.3l3.4 1.2M408.9 10.3l-2.8 2.4M413 15.1l3.4 1.2M413 15.1l-2.8 2.4M413 15.1l-0.7 -3.6M417.1 19.9l3.4 1.2M417.1 19.9l-2.8 2.4M417.1 19.9l-0.7 -3.6M421.2 24.7l3.4 1.2M421.2 24.7l-2.8 2.4M421.2 24.7l-0.7 -3.6M425.3 29.5l3.4 1.2M425.3 29.5l-2.8 2.4M425.3 29.5l-0.7 -3.6M429.4 34.3l3.4 1.2M429.4 34.3l-2.8 2.4M429.4 34.3l-0.7 -3.6M433.5 39.1l3.4 1.2M433.5 39.1l-2.8 2.4M433.5 39.1l-0.7 -3.6M437.6 43.9l3.4 1.2M437.6 43.9l-2.8 2.4M437.6 43.9l-0.7 -3.6M441.7 48.6l3.4 1.2M441.7 48.6l-2.8 2.4M441.7 48.6l-0.7 -3.6M445.8 53.4l3.4 1.2M445.8 53.4l-2.8 2.4M445.8 53.4l-0.7 -3.6M449.9 58.2l3.4 1.2M449.9 58.2l-2.8 2.4M449.9 58.2l-0.7 -3.6M453.9 63l3.4 1.2M453.9 63l-2.8 2.4M453.9 63l-0.7 -3.6M419.2 14l3.4 1.2M419.2 14l-2.8 2.4M419.2 14l-0.7 -3.6M423.3 18.8l3.4 1.2M423.3 18.8l-2.8 2.4M423.3 18.8l-0.7 -3.6M427.4 23.5l3.4 1.2M427.4 23.5l-2.8 2.4M427.4 23.5l-0.7 -3.6M431.5 28.3l3.4 1.2M431.5 28.3l-2.8 2.4M431.5 28.3l-0.7 -3.6M435.6 33.1l3.4 1.2M435.6 33.1l-2.8 2.4M435.6 33.1l-0.7 -3.6M439.7 37.9l3.4 1.2M439.7 37.9l-2.8 2.4M439.7 37.9l-0.7 -3.6M443.8 42.7l3.4 1.2M443.8 42.7l-2.8 2.4M443.8 42.7l-0.7 -3.6M447.9 47.5l3.4 1.2M447.9 47.5l-2.8 2.4M447.9 47.5l-0.7 -3.6M452 52.3l3.4 1.2M452 52.3l-2.8 2.4M452 52.3l-0.7 -3.6M456 57.1l-2.8 2.4M456 57.1l-0.7 -3.6M425.4 12.8l3.4 1.2M425.4 12.8l-2.8 2.4M429.5 17.6l3.4 1.2M429.5 17.6l-2.8 2.4M429.5 17.6l-0.7 -3.6M433.6 22.4l3.4 1.2M433.6 22.4l-2.8 2.4M433.6 22.4l-0.7 -3.6M437.7 27.2l3.4 1.2M437.7 27.2l-2.8 2.4M437.7 27.2l-0.7 -3.6M441.8 32l3.4 1.2M441.8 32l-2.8 2.4M441.8 32l-0.7 -3.6M445.9 36.8l3.4 1.2M445.9 36.8l-2.8 2.4M445.9 36.8l-0.7 -3.6M450 41.6l3.4 1.2M450 41.6l-2.8 2.4M450 41.6l-0.7 -3.6M454.1 46.4l3.4 1.2M454.1 46.4l-2.8 2.4M454.1 46.4l-0.7 -3.6M431.6 11.7l3.4 1.2M431.6 11.7l-2.8 2.4M435.7 16.5l3.4 1.2M435.7 16.5l-2.8 2.4M435.7 16.5l-0.7 -3.6M439.8 21.2l3.4 1.2M439.8 21.2l-2.8 2.4M439.8 21.2l-0.7 -3.6M443.9 26l3.4 1.2M443.9 26l-2.8 2.4M443.9 26l-0.7 -3.6M448 30.8l3.4 1.2M448 30.8l-2.8 2.4M448 30.8l-0.7 -3.6M452.1 35.6l3.4 1.2M452.1 35.6l-2.8 2.4M452.1 35.6l-0.7 -3.6M456.2 40.4l-2.8 2.4M456.2 40.4l-0.7 -3.6M437.8 10.5l3.4 1.2M437.8 10.5l-2.8 2.4M441.9 15.3l3.4 1.2M441.9 15.3l-2.8 2.4M441.9 15.3l-0.7 -3.6M446 20.1l3.4 1.2M446 20.1l-2.8 2.4M446 20.1l-0.7 -3.6M450.1 24.9l3.4 1.2M450.1 24.9l-2.8 2.4M450.1 24.9l-0.7 -3.6M454.2 29.7l3.4 1.2M454.2 29.7l-2.8 2.4M454.2 29.7l-0.7 -3.6M448.1 14.2l3.4 1.2M448.1 14.2l-2.8 2.4M448.1 14.2l-0.7 -3.6M452.2 19l3.4 1.2M452.2 19l-2.8 2.4M452.2 19l-0.7 -3.6M456.3 23.7l-2.8 2.4M456.3 23.7l-0.7 -3.6M454.3 13l3.4 1.2M454.3 13l-2.8 2.4"/><g stroke-width="3.4" stroke-linecap="round" fill="none"><path stroke="#27dbbb" d="M406.2 12.7h0M404.1 18.6h0M402 24.6h0M287.2 27.3h0M281 28.5h0M290.6 28.6h0M396.4 29.3h0M284.4 29.7h0M297.4 31h0M393.7 31.6h0M291.2 32.1h0M300.9 32.2h0M294.7 33.3h0M301.5 35.8h0M305 37h0M379.2 39.9h0M305.6 40.6h0M309 41.8h0M309.7 45.4h0M313.1 46.6h0M313.8 50.1h0M317.2 51.4h0M317.9 54.9h0M319.2 62.1h0M319.9 65.7h0M381.1 67.3h0M317.1 68h0M317.8 71.6h0M385.1 72.1h0M315 74h0M315.7 77.5h0M396.1 79.3h0M312.9 79.9h0M406.4 82.9h0M409.8 84.1h0M310.8 85.8h0M410.5 87.7h0M413.9 88.9h0M305.3 90.6h0M420.8 91.4h0M414.6 92.5h0M302.5 92.9h0M418 93.7h0M424.8 96.2h0M428.3 97.4h0M297 97.7h0M422.1 98.5h0M300.4 98.9h0M435.1 99.8h0M428.9 100.9h0M438.6 101h0M432.4 102.2h0M451.6 102.3h0M445.4 103.4h0M455 103.5h0M294.9 103.6h0M439.2 104.6h0M448.8 104.7h0M442.7 105.8h0M292.1 106h0M455.7 107.1h0M449.5 108.2h0M452.9 109.4h0M286.6 110.7h0M453.6 113h0M283.8 113h0M457 114.2h0M284.5 116.6h0M457.7 117.8h0M281.7 119h0M282.4 122.6h0M279.6 124.9h0"/><path stroke="#1fdbc3" d="M408.9 10.3h0M412.4 11.5h0M406.8 16.3h0M410.3 17.5h0M404.7 22.2h0M408.2 23.4h0M402.6 28.1h0M399.9 30.5h0M278.2 30.9h0M285 33.3h0M288.5 34.5h0M388.1 36.4h0M295.3 36.9h0M298.8 38.1h0M299.4 41.7h0M302.9 42.9h0M303.5 46.5h0M306.9 47.7h0M307.6 51.3h0M375 51.8h0M311 52.5h0M375.6 55.3h0M311.7 56.1h0M315.1 57.3h0M315.8 60.9h0M313 63.2h0M313.7 66.8h0M311.6 72.8h0M392 74.5h0M395.4 75.7h0M402.3 78.1h0M309.5 78.7h0M405.7 79.4h0M306.7 81.1h0M412.6 81.8h0M416 83h0M307.4 84.6h0M416.7 86.6h0M304.6 87h0M420.1 87.8h0M427 90.2h0M430.4 91.4h0M299.1 91.7h0M424.2 92.6h0M437.2 93.9h0M446.9 93.9h0M296.3 94.1h0M431 95h0M440.7 95.1h0M434.5 96.2h0M453.7 96.4h0M447.5 97.5h0M457.1 97.6h0M441.3 98.7h0M451 98.7h0M290.8 98.8h0M444.8 99.9h0M294.2 100h0M457.8 101.1h0M288 101.2h0M288.7 104.7h0M282.5 105.9h0M285.9 107.1h0M279.7 108.3h0M280.4 111.8h0M278.3 117.8h0"/><path stroke="#2fdbb3" d="M402.7 11.5h0M400 13.8h0M400.6 17.4h0M283.1 22.6h0M398.5 23.3h0M286.5 23.8h0M280.3 24.9h0M299.5 25h0M293.3 26.2h0M303 26.3h0M296.8 27.4h0M303.6 29.8h0M307.1 31.1h0M307.7 34.6h0M311.2 35.8h0M381.9 37.5h0M311.8 39.4h0M315.2 40.6h0M315.9 44.2h0M373.6 44.6h0M319.3 45.4h0M320 49h0M321.3 56.2h0M322 59.7h0M377 62.5h0M381.7 70.9h0M321.2 72.8h0M385.8 75.6h0M389.2 76.9h0M399.5 80.5h0M313.6 83.5h0M400.2 84.1h0M403.6 85.3h0M404.3 88.9h0M311.5 89.4h0M407.7 90.1h0M308.7 91.8h0M408.4 93.7h0M411.8 94.9h0M303.2 96.5h0M418.7 97.3h0M412.5 98.5h0M415.9 99.7h0M422.7 102.1h0M301.1 102.4h0M426.2 103.3h0M420 104.5h0M298.3 104.8h0M433 105.7h0M426.8 106.9h0M436.5 107h0M430.3 108.1h0M443.3 109.4h0M292.8 109.5h0M437.1 110.5h0M446.7 110.6h0M430.9 111.7h0M440.6 111.7h0M290 111.9h0M434.4 112.9h0M447.4 114.2h0M441.2 115.3h0M450.8 115.4h0M290.7 115.5h0M444.6 116.5h0M438.4 117.7h0M287.9 117.8h0M451.5 119h0M445.3 120.1h0M454.9 120.2h0M448.7 121.3h0M288.6 121.4h0M455.6 123.8h0M285.8 123.8h0M449.4 124.9h0"/><path stroke="#37dbab" d="M396.6 12.6h0M282.4 19h0M397.9 19.8h0M295.4 20.3h0M289.3 21.4h0M298.9 21.5h0M292.7 22.6h0M305.7 23.9h0M309.2 25.1h0M395.8 25.7h0M309.8 28.7h0M313.3 29.9h0M390.2 30.4h0M387.5 32.8h0M313.9 33.5h0M317.3 34.7h0M318 38.3h0M322.1 43.1h0M323.4 50.2h0M371.5 50.5h0M324.1 53.8h0M372.9 57.7h0M325.4 60.9h0M377.6 66.1h0M323.3 66.9h0M324 70.5h0M321.9 76.4h0M319.1 78.8h0M389.9 80.4h0M393.3 81.7h0M317 84.7h0M397.4 86.4h0M401.5 91.2h0M402.2 94.8h0M309.4 95.4h0M405.6 96h0M306.6 97.7h0M409.7 100.8h0M307.3 101.3h0M416.5 103.2h0M304.5 103.7h0M413.8 105.6h0M420.6 108h0M299 108.4h0M424.1 109.2h0M417.9 110.4h0M296.2 110.8h0M424.7 112.8h0M428.2 114h0M296.9 114.3h0M422 115.2h0M435 116.5h0M294.1 116.7h0M428.8 117.6h0M432.3 118.8h0M439.1 121.3h0M432.9 122.4h0M442.5 122.5h0M292 122.6h0M436.3 123.6h0"/><path stroke="#0fc6d4" d="M425.4 12.8h0M419.2 14h0M428.8 14h0M422.7 15.2h0M429.5 17.6h0M423.3 18.8h0M426.7 20h0M420.6 21.1h0M427.4 23.5h0M421.2 24.7h0M424.6 25.9h0M418.4 27.1h0M425.3 29.5h0M419.1 30.6h0M422.5 31.8h0M416.3 33h0M417 36.6h0M391.6 37.6h0M410.8 37.7h0M420.4 37.8h0M404.6 38.9h0M414.2 38.9h0M398.4 40h0M408 40.1h0M401.9 41.2h0M280.2 41.6h0M414.9 42.5h0M408.7 43.7h0M418.3 43.7h0M287 44h0M412.1 44.9h0M280.8 45.2h0M290.5 45.2h0M405.9 46h0M284.3 46.4h0M412.8 48.4h0M291.1 48.8h0M377.7 49.4h0M416.2 49.7h0M294.6 50h0M410 50.8h0M295.2 53.6h0M410.7 54.4h0M298.6 54.8h0M379.1 56.6h0M456 57.1h0M299.3 58.4h0M302.7 59.6h0M296.5 60.7h0M383.2 61.3h0M453.9 63h0M303.4 63.2h0M457.4 64.2h0M306.8 64.4h0M300.6 65.5h0M387.2 66.1h0M394.1 68.6h0M301.3 69.1h0M397.5 69.8h0M455.3 70.2h0M304.7 70.3h0M410.6 71.1h0M404.4 72.2h0M414 72.3h0M407.8 73.4h0M305.4 73.9h0M420.9 74.7h0M299.2 75.1h0M414.7 75.8h0M424.3 75.9h0M302.6 76.3h0M418.1 77.1h0M296.4 77.4h0M431.2 78.3h0M440.8 78.4h0M425 79.5h0M434.6 79.6h0M428.4 80.7h0M447.6 80.8h0M457.3 80.9h0M297.1 81h0M441.4 82h0M451.1 82h0M435.2 83.1h0M444.9 83.2h0M294.3 83.4h0M438.7 84.3h0M457.9 84.5h0M451.7 85.6h0M445.5 86.8h0M455.2 86.8h0M295 86.9h0M288.8 88.1h0M292.2 89.3h0M286 90.4h0M286.7 94h0M280.5 95.2h0M283.9 96.4h0M278.4 101.1h0"/><path stroke="#17d0cb" d="M418.6 10.4h0M413 15.1h0M416.5 16.3h0M417.1 19.9h0M410.9 21.1h0M414.4 22.3h0M415 25.8h0M408.8 27h0M412.3 28.2h0M406.1 29.4h0M412.9 31.8h0M406.7 32.9h0M400.5 34.1h0M410.2 34.1h0M278.9 34.4h0M394.3 35.2h0M404 35.3h0M282.3 35.6h0M397.8 36.4h0M289.1 38.1h0M385.4 38.7h0M282.9 39.2h0M292.6 39.3h0M286.4 40.4h0M293.2 42.9h0M379.8 43.5h0M296.7 44.1h0M377.1 45.8h0M297.3 47.7h0M300.8 48.9h0M301.4 52.4h0M304.8 53.7h0M305.5 57.2h0M308.9 58.5h0M379.7 60.1h0M309.6 62h0M383.8 64.9h0M307.5 68h0M310.9 69.2h0M387.9 69.7h0M391.3 70.9h0M398.2 73.4h0M401.6 74.6h0M308.8 75.1h0M408.5 77h0M411.9 78.2h0M303.3 79.8h0M418.8 80.6h0M422.2 81.9h0M300.5 82.2h0M429.1 84.3h0M422.9 85.4h0M432.5 85.5h0M301.2 85.8h0M426.3 86.6h0M439.3 87.9h0M449 88h0M298.4 88.1h0M433.1 89.1h0M442.8 89.1h0M436.6 90.3h0M455.8 90.4h0M449.6 91.6h0M443.4 92.7h0M453.1 92.8h0M292.9 92.9h0M290.1 95.2h0M284.6 100h0M281.8 102.3h0"/><path stroke="#40dba3" d="M278.3 14.2h0M393.8 15h0M291.4 15.5h0M301 15.5h0M285.2 16.6h0M294.8 16.7h0M279 17.8h0M288.6 17.8h0M307.8 18h0M394.4 18.6h0M301.6 19.1h0M311.3 19.2h0M305.1 20.3h0M311.9 22.8h0M315.4 24h0M316 27.5h0M320.1 32.3h0M375.7 38.7h0M321.4 39.5h0M373 41h0M325.5 44.3h0M370.9 47h0M326.2 47.9h0M327.5 55h0M328.2 58.6h0M326.1 64.5h0M319.8 82.3h0M394 85.2h0M317.7 88.3h0M398.1 90h0M314.9 90.6h0M312.8 96.6h0M406.3 99.6h0M403.5 102h0M410.4 104.4h0M407.6 106.8h0M305.2 107.2h0M414.4 109.2h0M302.4 109.6h0M411.7 111.5h0M418.5 114h0M412.3 115.1h0M300.3 115.5h0M415.8 116.3h0M422.6 118.8h0M416.4 119.9h0M426.1 120h0M294.8 120.3h0M419.9 121.1h0M426.7 123.6h0M420.5 124.7h0M430.2 124.8h0"/><path stroke="#48db9b" d="M293.5 9.5h0M303.1 9.6h0M287.3 10.7h0M296.9 10.7h0M281.1 11.8h0M290.7 11.9h0M309.9 12h0M284.5 13h0M303.7 13.2h0M313.4 13.2h0M297.6 14.3h0M307.2 14.4h0M314 16.8h0M317.5 18h0M391.7 20.9h0M318.1 21.6h0M321.6 22.8h0M392.3 24.5h0M322.2 26.4h0M389.6 26.9h0M319.5 28.8h0M384 31.6h0M323.5 33.5h0M381.3 33.9h0M324.2 37.1h0M329.6 49.1h0M330.3 52.6h0M368.8 52.9h0M327.4 71.7h0M378.9 73.2h0M325.3 77.6h0M387.1 82.8h0M323.2 83.6h0M391.2 87.6h0M395.3 92.4h0M315.6 94.2h0M396 96h0M399.4 97.2h0M313.5 100.2h0M400.1 100.7h0M310.7 102.5h0M404.2 105.5h0M311.4 106.1h0M308.6 108.5h0M408.3 110.3h0M405.5 112.7h0M303.1 113.2h0M406.1 116.3h0M409.6 117.5h0M301 119.1h0M410.2 121.1h0M298.2 121.5h0M413.7 122.3h0"/><path stroke="#0fbcdb" d="M437.8 10.5h0M447.4 10.6h0M431.6 11.7h0M441.2 11.7h0M435 12.9h0M454.3 13h0M448.1 14.2h0M457.7 14.2h0M441.9 15.3h0M451.5 15.4h0M435.7 16.5h0M445.3 16.5h0M439.1 17.7h0M432.9 18.8h0M452.2 19h0M446 20.1h0M455.6 20.2h0M439.8 21.2h0M449.4 21.3h0M433.6 22.4h0M443.2 22.5h0M437 23.6h0M456.3 23.7h0M430.8 24.8h0M450.1 24.9h0M443.9 26h0M453.5 26.1h0M437.7 27.2h0M447.3 27.3h0M431.5 28.3h0M441.1 28.4h0M434.9 29.6h0M454.2 29.7h0M428.7 30.7h0M448 30.8h0M457.6 30.9h0M441.8 32h0M451.4 32h0M435.6 33.1h0M445.2 33.2h0M429.4 34.3h0M439 34.3h0M423.2 35.4h0M432.8 35.5h0M452.1 35.6h0M426.6 36.6h0M455.5 36.8h0M439.7 37.9h0M449.3 38h0M433.5 39.1h0M427.3 40.2h0M456.2 40.4h0M392.2 41.2h0M421.1 41.4h0M430.7 41.4h0M450 41.6h0M386 42.3h0M395.7 42.4h0M424.5 42.6h0M443.8 42.7h0M453.4 42.8h0M389.5 43.5h0M447.2 43.9h0M383.3 44.7h0M402.5 44.8h0M431.4 45h0M441 45.1h0M396.3 46h0M425.2 46.2h0M434.8 46.2h0M454.1 46.4h0M399.7 47.2h0M419 47.3h0M428.6 47.4h0M447.9 47.5h0M278.1 47.5h0M457.5 47.6h0M383.9 48.3h0M422.4 48.5h0M441.7 48.6h0M451.3 48.7h0M406.6 49.6h0M435.5 49.8h0M445.1 49.9h0M284.9 50h0M381.2 50.6h0M400.4 50.7h0M429.3 50.9h0M438.9 51h0M278.7 51.1h0M288.4 51.2h0M403.8 52h0M423.1 52.1h0M432.7 52.2h0M452 52.3h0M282.2 52.3h0M397.6 53.1h0M416.9 53.2h0M426.5 53.3h0M445.8 53.4h0M455.4 53.5h0M381.8 54.2h0M391.5 54.3h0M420.3 54.5h0M439.6 54.6h0M449.2 54.7h0M289 54.7h0M385.3 55.4h0M404.5 55.5h0M414.1 55.6h0M433.4 55.7h0M443 55.8h0M282.8 55.9h0M292.5 56h0M398.3 56.7h0M407.9 56.7h0M427.2 56.9h0M436.8 56.9h0M286.3 57.1h0M392.1 57.8h0M401.7 57.9h0M421 58h0M430.6 58.1h0M449.9 58.2h0M280.1 58.3h0M385.9 59h0M395.5 59h0M414.8 59.2h0M424.4 59.2h0M443.7 59.4h0M453.3 59.4h0M293.1 59.5h0M389.3 60.2h0M408.6 60.3h0M418.2 60.4h0M437.5 60.5h0M447.1 60.6h0M286.9 60.7h0M402.4 61.5h0M412 61.5h0M431.3 61.7h0M440.9 61.7h0M280.7 61.8h0M290.4 61.9h0M396.2 62.6h0M405.8 62.7h0M425.1 62.8h0M434.7 62.9h0M284.2 63h0M390 63.8h0M399.6 63.8h0M418.9 64h0M428.5 64h0M447.8 64.2h0M297.2 64.3h0M393.4 65h0M412.7 65.1h0M422.3 65.2h0M441.6 65.3h0M451.2 65.4h0M291 65.5h0M406.5 66.3h0M416.1 66.3h0M435.4 66.5h0M445 66.5h0M284.8 66.6h0M294.4 66.7h0M400.3 67.4h0M409.9 67.5h0M429.2 67.6h0M438.8 67.7h0M278.6 67.8h0M288.2 67.8h0M403.7 68.6h0M423 68.8h0M432.6 68.8h0M451.8 69h0M282.1 69h0M416.8 69.9h0M426.4 70h0M445.6 70.1h0M295.1 70.3h0M420.2 71.1h0M439.5 71.3h0M449.1 71.3h0M288.9 71.4h0M298.5 71.5h0M433.3 72.4h0M442.9 72.5h0M282.7 72.6h0M292.3 72.6h0M427.1 73.5h0M436.7 73.6h0M455.9 73.7h0M286.1 73.8h0M430.5 74.8h0M449.7 74.9h0M280 74.9h0M443.5 76h0M453.2 76.1h0M293 76.2h0M437.4 77.2h0M447 77.3h0M286.8 77.3h0M280.6 78.5h0M290.2 78.6h0M453.8 79.7h0M284 79.7h0M290.9 82.1h0M284.7 83.3h0M278.5 84.4h0M288.1 84.5h0M281.9 85.6h0M282.6 89.2h0M279.8 91.6h0"/><path stroke="#50db93" d="M322.3 9.7h0M389.7 10.2h0M316.1 10.9h0M319.6 12.1h0M390.4 13.8h0M320.2 15.7h0M323.7 16.9h0M324.3 20.5h0M325.6 27.6h0M326.3 31.2h0M327.6 38.3h0M328.3 41.9h0M369.4 56.5h0M331.6 59.8h0M329.5 65.7h0M330.2 69.3h0M328.1 75.3h0M326 81.2h0M383.7 81.6h0M387.8 86.4h0M323.9 87.1h0M321.1 89.5h0M391.9 91.2h0M319 95.4h0M316.9 101.4h0M397.3 103.1h0M401.4 107.9h0M402.1 111.5h0M309.3 112h0M306.5 114.4h0M307.2 118h0M403.4 118.6h0M304.4 120.3h0M404 122.2h0M407.5 123.4h0"/><path stroke="#59db8a" d="M325.8 10.9h0M326.4 14.5h0M387.6 16.1h0M388.3 19.7h0M327.7 21.7h0M328.4 25.2h0M329.7 32.4h0M330.4 36h0M331.7 43.1h0M367.5 45.8h0M332.4 46.7h0M333.7 53.9h0M334.4 57.4h0M332.3 63.4h0M374.9 68.4h0M321.8 93.1h0M389.1 93.5h0M393.2 98.3h0M319.7 99h0M393.9 101.9h0M317.6 104.9h0M398 106.7h0M314.8 107.3h0M395.9 112.6h0M312.7 113.2h0M399.3 113.8h0M400 117.4h0M310.6 119.2h0M397.2 119.8h0M397.9 123.4h0M305 123.9h0M401.3 124.6h0"/><path stroke="#61db82" d="M329.9 15.7h0M330.5 19.3h0M386.1 25.6h0M331.8 26.5h0M383.4 28h0M332.5 30h0M377.9 32.7h0M375.1 35.1h0M333.8 37.2h0M369.6 39.8h0M334.5 40.8h0M335.8 47.9h0M336.5 51.5h0M365.3 51.7h0M331.5 76.5h0M329.4 82.4h0M327.3 88.3h0M385 88.7h0M389.8 97.1h0M395.2 109h0M315.4 110.9h0M393.1 115h0M313.3 116.8h0M393.8 118.6h0M311.2 122.8h0"/><path stroke="#69db7a" d="M332 9.8h0M332.6 13.4h0M385.5 22.1h0M337.9 42h0M366.8 42.2h0M338.6 45.6h0M364.7 48.1h0M333.6 70.5h0M332.2 80h0M330.1 86h0M385.7 92.3h0M325.2 94.3h0M323.1 100.2h0M391.1 104.3h0M321 106.2h0M391.8 107.8h0M318.9 112.1h0M389.7 113.8h0M316.8 118h0M391 120.9h0M314.7 124h0M391.7 124.5h0"/><path stroke="#71db71" d="M383.5 11.3h0M384.2 14.9h0M333.9 20.5h0M334.6 24.1h0M335.9 31.3h0M336.6 34.8h0M339.9 52.7h0M337.8 58.6h0M366.7 58.8h0M335.7 64.6h0M334.3 74.1h0M381.6 87.5h0M328 91.9h0M325.8 97.9h0M387 99.5h0M387.7 103h0M323.7 103.8h0M321.6 109.7h0M389 110.2h0M319.5 115.7h0M386.9 116.1h0M387.6 119.7h0M317.4 121.6h0M384.8 122.1h0"/><path stroke="#7adb69" d="M336 14.6h0M336.7 18.2h0M371.7 33.9h0M340 36h0M368.9 36.2h0M340.7 39.6h0M342 46.8h0M342.7 50.3h0M362.6 54.1h0M340.6 56.3h0M338.5 62.2h0M367.3 62.4h0M336.4 68.2h0M376.8 79.2h0M382.9 94.7h0M383.6 98.3h0M384.9 105.4h0M385.6 109h0M383.5 114.9h0M381.4 120.9h0M320.9 122.8h0"/><path stroke="#82db61" d="M338.8 12.2h0M381.4 17.3h0M382.1 20.9h0M338 25.3h0M380 26.8h0M338.7 28.9h0M377.2 29.2h0M344.1 40.8h0M363.4 41h0M344.8 44.4h0M333.5 87.2h0M378.8 89.9h0M331.4 93.1h0M379.5 93.5h0M329.3 99.1h0M327.2 105h0M325.1 110.9h0M382.8 111.3h0M323 116.9h0M380.7 117.3h0M323.6 120.5h0M378.6 123.2h0"/><path stroke="#93db50" d="M379.3 23.2h0M371 30.3h0M346.2 34.9h0M365.5 35h0M362.7 37.4h0M346.9 38.5h0M357.2 42.1h0M354.4 44.5h0M352.3 50.4h0M353 54h0M356.4 55.2h0M344.7 61.1h0M341.9 63.4h0M339.8 69.4h0M337.7 75.3h0M373.4 77.9h0M336.3 84.8h0M376.7 95.8h0M377.4 99.4h0M378.7 106.6h0M376.6 112.5h0M329.2 115.7h0M374.5 118.4h0M327.1 121.7h0M372.4 124.4h0"/><path stroke="#8adb59" d="M380.1 10.1h0M340.1 19.4h0M340.8 23h0M342.1 30.1h0M342.8 33.7h0M348.2 45.6h0M348.9 49.2h0M346.1 51.6h0M359.2 52.8h0M346.8 55.1h0M344 57.5h0M372.8 74.4h0M335.6 81.3h0M334.1 90.8h0M332 96.7h0M380.8 100.6h0M329.9 102.6h0M381.5 104.2h0M327.8 108.6h0M379.4 110.1h0M325.7 114.5h0M377.3 116.1h0M375.2 122h0"/><path stroke="#9bdb48" d="M342.2 13.4h0M378 16.1h0M342.9 17h0M344.2 24.2h0M344.9 27.7h0M373.8 27.9h0M353.1 37.3h0M360.5 60h0M335.5 97.9h0M374.6 101.8h0M333.4 103.9h0M375.3 105.3h0M331.3 109.8h0M373.2 111.3h0M331.9 113.4h0M371.1 117.2h0M329.8 119.3h0M369 123.2h0"/><path stroke="#a3db40" d="M377.3 12.5h0M349 32.5h0M352.4 33.7h0M357.1 58.8h0M350.9 59.9h0M364.6 64.8h0M342.6 67h0M368.7 69.6h0M338.4 78.9h0M337.6 92h0M373.3 94.6h0M336.1 101.5h0M334 107.4h0M372.5 107.7h0M370.4 113.6h0M368.3 119.6h0M333.3 120.5h0M333.9 124.1h0"/><path stroke="#abdb37" d="M345 11.1h0M346.3 18.2h0M347 21.8h0M375.9 22h0M373.1 24.4h0M348.3 29h0M367.6 29.1h0M364.8 31.5h0M358.6 32.6h0M354.3 61.1h0M348.1 62.3h0M361.1 63.6h0M340.5 73h0M369.3 73.2h0M338.2 95.6h0M370.5 97h0M371.2 100.5h0M369.1 106.5h0M337.5 108.7h0M338.1 112.2h0M367 112.4h0M335.4 114.6h0M336 118.2h0M364.9 118.4h0M362.1 120.7h0M362.8 124.3h0"/><path stroke="#b3db2f" d="M375.2 18.4h0M351.1 26.6h0M361.4 30.2h0M355.2 31.4h0M365.2 68.4h0M371.3 83.9h0M339.7 86h0M340.3 89.6h0M341.7 96.8h0M339.6 102.7h0M368.4 102.9h0M340.2 106.3h0M366.3 108.9h0M341.6 113.4h0M360.8 113.6h0M364.2 114.8h0M339.4 119.4h0M358.7 119.5h0M340.1 123h0M343.5 124.2h0"/><path stroke="#bbdb27" d="M373.9 11.3h0M348.4 12.3h0M349.1 15.9h0M350.4 23h0M369.7 23.1h0M366.9 25.5h0M354.5 27.8h0M348.8 65.9h0M346 68.2h0M370.7 80.3h0M367.1 95.8h0M342.3 100.4h0M365 101.7h0M362.2 104.1h0M343.7 107.5h0M362.9 107.6h0M360.1 110h0M344.3 111.1h0M347.7 112.3h0M354.6 114.7h0M348.4 115.9h0M358 115.9h0M342.2 117h0M351.8 117.1h0M345.6 118.2h0M352.5 120.7h0M346.3 121.8h0M355.9 121.9h0M349.7 123h0"/><path stroke="#c3db1f" d="M351.2 9.9h0M352.5 17.1h0M371.8 17.2h0M353.2 20.7h0M357.3 25.4h0M360.7 26.7h0M354.9 64.7h0M358.4 65.9h0M344.4 94.4h0M364.3 98.1h0M345.8 101.6h0M358.8 102.8h0M352.6 104h0M346.4 105.1h0M356 105.2h0M349.9 106.4h0M356.7 108.8h0M350.5 109.9h0M353.9 111.1h0"/><path stroke="#cbdb17" d="M354.6 11.1h0M371.1 13.6h0M355.3 14.7h0M369 19.6h0M356.6 21.9h0M363.5 24.3h0M343.9 74.2h0M341.8 80.1h0M368.5 86.2h0M343.8 90.8h0M347.9 95.6h0M360.9 96.9h0M348.5 99.2h0M358.1 99.3h0M352 100.4h0"/><path stroke="#d4d30f" d="M360.8 10h0M367.7 12.4h0M361.5 13.6h0M364.9 14.8h0M358.7 15.9h0M365.6 18.4h0M359.4 19.5h0M362.8 20.7h0M352.2 67.1h0M366.6 75.5h0M342.4 83.7h0M354.7 98.1h0"/><path stroke="#dbb70f" d="M345.9 84.9h0M350 89.7h0"/><path stroke="#dbc00f" d="M359 69.5h0M344.5 77.7h0M365.1 85h0M346.5 88.5h0M356.8 92.1h0"/><path stroke="#dbca0f" d="M362.5 70.7h0M346.7 71.8h0M367.2 79.1h0M363 91h0M350.6 93.3h0M360.3 93.3h0M354.1 94.5h0"/><path stroke="#db7e0f" d="M348 79h0"/><path stroke="#db870f" d="M356.3 71.9h0M348.6 82.5h0M358.9 86.2h0"/><path stroke="#db620f" d="M361 80.2h0M352.1 83.7h0"/><path stroke="#db910f" d="M352.7 87.3h0"/><path stroke="#db9b0f" d="M350.1 73h0M356.2 88.5h0"/><path stroke="#db4f0f" d="M350.7 76.6h0"/><path stroke="#ba0f0f" d="M354.2 77.8h0"/><path stroke="#d1160f" d="M354.8 81.4h0"/><path stroke="#db450f" d="M358.3 82.6h0"/><path stroke="#dbad0f" d="M363.1 74.3h0M362.4 87.4h0"/><path stroke="#dba40f" d="M352.8 70.7h0M364.5 81.5h0"/><path stroke="#db290f" d="M356.9 75.4h0"/><path stroke="#db580f" d="M360.4 76.7h0"/><path stroke="#0fb2db" d="M445.9 36.8h0M443.1 39.1h0M436.9 40.3h0M437.6 43.9h0M390.1 47.1h0M393.6 48.3h0M387.4 49.5h0M394.2 51.9h0M388 53h0"/></g><g stroke-width="5.6" stroke-linecap="round" fill="none"><path stroke="#cdcdcd" d="M358 37h0M352 41h0M362 45.5h0M356 50h0M350 54h0M363 57.6h0M370.8 61h0M372 68.6h0M376 72h0M380.8 76.4h0M379 82h0M376 87.4h0M366 89.6h0M371 90h0"/></g></g></g><path d="M22 67.4H220M22 93.3H220" stroke="#111" stroke-width="1.1"/><path d="M270 66.7H465.6M270 92.5H465.6" stroke="#111" stroke-width="1.1"/><linearGradient id="cb224" x1="0" y1="0" x2="0" y2="1"><stop offset="0" stop-color="#800000"/><stop offset="0.05" stop-color="#b90000"/><stop offset="0.1" stop-color="#f30900"/><stop offset="0.15" stop-color="#ff3900"/><stop offset="0.2" stop-color="#ff6800"/><stop offset="0.25" stop-color="#ff9700"/><stop offset="0.3" stop-color="#ffc600"/><stop offset="0.35" stop-color="#f7f600"/><stop offset="0.4" stop-color="#ceff29"/><stop offset="0.45" stop-color="#a5ff52"/><stop offset="0.5" stop-color="#7bff7b"/><stop offset="0.55" stop-color="#52ffa5"/><stop offset="0.6" stop-color="#29ffce"/><stop offset="0.65" stop-color="#00e5f7"/><stop offset="0.7" stop-color="#00b3ff"/><stop offset="0.75" stop-color="#0080ff"/><stop offset="0.8" stop-color="#004cff"/><stop offset="0.85" stop-color="#001aff"/><stop offset="0.9" stop-color="#0000f3"/><stop offset="0.95" stop-color="#0000b9"/><stop offset="1" stop-color="#000080"/></linearGradient><rect x="224.5" y="5.7" width="6" height="111.6" fill="url(#cb224)" stroke="#000" stroke-width="0.4"/><path d="M230.5 117.3h2" stroke="#000" stroke-width="0.6"/><text x="233" y="121.3" font-size="8">0</text><path d="M230.5 93.8h2" stroke="#000" stroke-width="0.6"/><text x="233" y="97.8" font-size="8">2</text><path d="M230.5 70.3h2" stroke="#000" stroke-width="0.6"/><text x="233" y="74.3" font-size="8">4</text><path d="M230.5 46.8h2" stroke="#000" stroke-width="0.6"/><text x="233" y="50.8" font-size="8">6</text><path d="M230.5 23.3h2" stroke="#000" stroke-width="0.6"/><text x="233" y="27.3" font-size="8">8</text><text transform="translate(241 63.5) rotate(90)" text-anchor="middle">z [Å]</text><linearGradient id="cb474" x1="0" y1="0" x2="0" y2="1"><stop offset="0" stop-color="#800000"/><stop offset="0.05" stop-color="#b90000"/><stop offset="0.1" stop-color="#f30900"/><stop offset="0.15" stop-color="#ff3900"/><stop offset="0.2" stop-color="#ff6800"/><stop offset="0.25" stop-color="#ff9700"/><stop offset="0.3" stop-color="#ffc600"/><stop offset="0.35" stop-color="#f7f600"/><stop offset="0.4" stop-color="#ceff29"/><stop offset="0.45" stop-color="#a5ff52"/><stop offset="0.5" stop-color="#7bff7b"/><stop offset="0.55" stop-color="#52ffa5"/><stop offset="0.6" stop-color="#29ffce"/><stop offset="0.65" stop-color="#00e5f7"/><stop offset="0.7" stop-color="#00b3ff"/><stop offset="0.75" stop-color="#0080ff"/><stop offset="0.8" stop-color="#004cff"/><stop offset="0.85" stop-color="#001aff"/><stop offset="0.9" stop-color="#0000f3"/><stop offset="0.95" stop-color="#0000b9"/><stop offset="1" stop-color="#000080"/></linearGradient><rect x="474" y="11.9" width="6" height="111.4" fill="url(#cb474)" stroke="#000" stroke-width="0.4"/><path d="M480 123.3h2" stroke="#000" stroke-width="0.6"/><text x="482.5" y="127.3" font-size="8">0</text><path d="M480 100.2h2" stroke="#000" stroke-width="0.6"/><text x="482.5" y="104.2" font-size="8">2</text><path d="M480 77h2" stroke="#000" stroke-width="0.6"/><text x="482.5" y="81" font-size="8">4</text><path d="M480 53.9h2" stroke="#000" stroke-width="0.6"/><text x="482.5" y="57.9" font-size="8">6</text><path d="M480 30.7h2" stroke="#000" stroke-width="0.6"/><text x="482.5" y="34.7" font-size="8">8</text><text transform="translate(491 67) rotate(90)" text-anchor="middle">z [Å]</text><linearGradient id="cb224" x1="0" y1="0" x2="0" y2="1"><stop offset="0" stop-color="#800000"/><stop offset="0.05" stop-color="#b90000"/><stop offset="0.1" stop-color="#f30900"/><stop offset="0.15" stop-color="#ff3900"/><stop offset="0.2" stop-color="#ff6800"/><stop offset="0.25" stop-color="#ff9700"/><stop offset="0.3" stop-color="#ffc600"/><stop offset="0.35" stop-color="#f7f600"/><stop offset="0.4" stop-color="#ceff29"/><stop offset="0.45" stop-color="#a5ff52"/><stop offset="0.5" stop-color="#7bff7b"/><stop offset="0.55" stop-color="#52ffa5"/><stop offset="0.6" stop-color="#29ffce"/><stop offset="0.65" stop-color="#00e5f7"/><stop offset="0.7" stop-color="#00b3ff"/><stop offset="0.75" stop-color="#0080ff"/><stop offset="0.8" stop-color="#004cff"/><stop offset="0.85" stop-color="#001aff"/><stop offset="0.9" stop-color="#0000f3"/><stop offset="0.95" stop-color="#0000b9"/><stop offset="1" stop-color="#000080"/></linearGradient><rect x="224.6" y="202" width="6" height="112.2" fill="url(#cb224)" stroke="#000" stroke-width="0.4"/><path d="M230.6 314.2h2" stroke="#000" stroke-width="0.6"/><text x="233.1" y="318.2" font-size="8">0</text><path d="M230.6 290.9h2" stroke="#000" stroke-width="0.6"/><text x="233.1" y="294.9" font-size="8">2</text><path d="M230.6 267.6h2" stroke="#000" stroke-width="0.6"/><text x="233.1" y="271.6" font-size="8">4</text><path d="M230.6 244.4h2" stroke="#000" stroke-width="0.6"/><text x="233.1" y="248.4" font-size="8">6</text><path d="M230.6 221.1h2" stroke="#000" stroke-width="0.6"/><text x="233.1" y="225.1" font-size="8">8</text><text transform="translate(241 258) rotate(90)" text-anchor="middle">z [Å]</text><linearGradient id="cb473" x1="0" y1="0" x2="0" y2="1"><stop offset="0" stop-color="#800000"/><stop offset="0.05" stop-color="#b90000"/><stop offset="0.1" stop-color="#f30900"/><stop offset="0.15" stop-color="#ff3900"/><stop offset="0.2" stop-color="#ff6800"/><stop offset="0.25" stop-color="#ff9700"/><stop offset="0.3" stop-color="#ffc600"/><stop offset="0.35" stop-color="#f7f600"/><stop offset="0.4" stop-color="#ceff29"/><stop offset="0.45" stop-color="#a5ff52"/><stop offset="0.5" stop-color="#7bff7b"/><stop offset="0.55" stop-color="#52ffa5"/><stop offset="0.6" stop-color="#29ffce"/><stop offset="0.65" stop-color="#00e5f7"/><stop offset="0.7" stop-color="#00b3ff"/><stop offset="0.75" stop-color="#0080ff"/><stop offset="0.8" stop-color="#004cff"/><stop offset="0.85" stop-color="#001aff"/><stop offset="0.9" stop-color="#0000f3"/><stop offset="0.95" stop-color="#0000b9"/><stop offset="1" stop-color="#000080"/></linearGradient><rect x="473.7" y="198" width="6" height="111.2" fill="url(#cb473)" stroke="#000" stroke-width="0.4"/><path d="M479.7 309.2h2" stroke="#000" stroke-width="0.6"/><text x="482.2" y="313.2" font-size="8">0</text><path d="M479.7 286.1h2" stroke="#000" stroke-width="0.6"/><text x="482.2" y="290.1" font-size="8">2</text><path d="M479.7 263.1h2" stroke="#000" stroke-width="0.6"/><text x="482.2" y="267.1" font-size="8">4</text><path d="M479.7 240.1h2" stroke="#000" stroke-width="0.6"/><text x="482.2" y="244.1" font-size="8">6</text><path d="M479.7 217h2" stroke="#000" stroke-width="0.6"/><text x="482.2" y="221" font-size="8">8</text><text transform="translate(490 253) rotate(90)" text-anchor="middle">z [Å]</text><rect x="22.3" y="137.7" width="197.1" height="28.9" fill="none" stroke="#333" stroke-width="0.6"/><g fill="#ff0000" fill-opacity="0.15" stroke="#ff0000" stroke-opacity="0.4" stroke-width="0.6"><circle cx="38" cy="157.3" r="1.4"/><circle cx="38.1" cy="155.7" r="1.4"/><circle cx="38.3" cy="156.3" r="1.4"/><circle cx="39.3" cy="157.6" r="1.4"/><circle cx="39.6" cy="155.6" r="1.4"/><circle cx="39.8" cy="157.7" r="1.4"/><circle cx="39.8" cy="160.3" r="1.4"/><circle cx="41.1" cy="156.1" r="1.4"/><circle cx="41.4" cy="157.7" r="1.4"/><circle cx="42.3" cy="155.4" r="1.4"/><circle cx="42.6" cy="157.9" r="1.4"/><circle cx="42.8" cy="158.5" r="1.4"/><circle cx="45.4" cy="155.6" r="1.4"/><circle cx="45.7" cy="158.6" r="1.4"/><circle cx="45.8" cy="157.1" r="1.4"/><circle cx="46.4" cy="155.7" r="1.4"/><circle cx="46.6" cy="157.2" r="1.4"/><circle cx="46.7" cy="157.4" r="1.4"/><circle cx="48.4" cy="157.2" r="1.4"/><circle cx="48.4" cy="156.3" r="1.4"/><circle cx="50.6" cy="158.2" r="1.4"/><circle cx="51.8" cy="156.5" r="1.4"/><circle cx="51.9" cy="156.6" r="1.4"/><circle cx="52.3" cy="154.6" r="1.4"/><circle cx="52.8" cy="157.6" r="1.4"/><circle cx="53.2" cy="158.2" r="1.4"/><circle cx="53.3" cy="156.4" r="1.4"/><circle cx="54.7" cy="157.6" r="1.4"/><circle cx="55" cy="156.8" r="1.4"/><circle cx="56.6" cy="156.9" r="1.4"/><circle cx="56.8" cy="155.7" r="1.4"/><circle cx="57.5" cy="157.7" r="1.4"/><circle cx="58.5" cy="156.9" r="1.4"/><circle cx="58.6" cy="159.7" r="1.4"/><circle cx="58.7" cy="157.8" r="1.4"/><circle cx="60" cy="154.9" r="1.4"/><circle cx="60.2" cy="157.4" r="1.4"/><circle cx="60.2" cy="157.4" r="1.4"/><circle cx="60.8" cy="157.9" r="1.4"/><circle cx="61.5" cy="155.8" r="1.4"/><circle cx="61.9" cy="156.2" r="1.4"/><circle cx="62.1" cy="157.7" r="1.4"/><circle cx="62.3" cy="155.6" r="1.4"/><circle cx="63.1" cy="155.9" r="1.4"/><circle cx="64.1" cy="155.2" r="1.4"/><circle cx="64.2" cy="156.8" r="1.4"/><circle cx="64.4" cy="154.1" r="1.4"/><circle cx="65.5" cy="155.5" r="1.4"/><circle cx="65.7" cy="156.1" r="1.4"/><circle cx="65.7" cy="156.5" r="1.4"/><circle cx="66.5" cy="156.1" r="1.4"/><circle cx="67.5" cy="154.4" r="1.4"/><circle cx="68.7" cy="155.2" r="1.4"/><circle cx="68.7" cy="153.6" r="1.4"/><circle cx="69.2" cy="154" r="1.4"/><circle cx="69.7" cy="152.8" r="1.4"/><circle cx="70.2" cy="153.2" r="1.4"/><circle cx="70.3" cy="154.2" r="1.4"/><circle cx="70.5" cy="156.4" r="1.4"/><circle cx="70.5" cy="153.7" r="1.4"/><circle cx="70.8" cy="152.9" r="1.4"/><circle cx="71.6" cy="153.3" r="1.4"/><circle cx="71.7" cy="152.8" r="1.4"/><circle cx="72" cy="154" r="1.4"/><circle cx="72.4" cy="153.7" r="1.4"/><circle cx="72.8" cy="154.2" r="1.4"/><circle cx="72.8" cy="151.2" r="1.4"/><circle cx="73" cy="152.6" r="1.4"/><circle cx="73.1" cy="153.5" r="1.4"/><circle cx="73.9" cy="154.2" r="1.4"/><circle cx="74.5" cy="152.3" r="1.4"/><circle cx="74.9" cy="149.9" r="1.4"/><circle cx="75.6" cy="150.9" r="1.4"/><circle cx="76" cy="152.3" r="1.4"/><circle cx="76.8" cy="148.8" r="1.4"/><circle cx="76.8" cy="148.8" r="1.4"/><circle cx="76.8" cy="149.4" r="1.4"/><circle cx="78" cy="149.1" r="1.4"/><circle cx="78.1" cy="148.5" r="1.4"/><circle cx="78.4" cy="149.2" r="1.4"/><circle cx="79.6" cy="148.1" r="1.4"/><circle cx="80.4" cy="150.2" r="1.4"/><circle cx="81" cy="146.1" r="1.4"/><circle cx="81.5" cy="147.9" r="1.4"/><circle cx="81.7" cy="144.8" r="1.4"/><circle cx="82.4" cy="151.4" r="1.4"/><circle cx="83.2" cy="146.2" r="1.4"/><circle cx="83.9" cy="145.4" r="1.4"/><circle cx="84" cy="147.8" r="1.4"/><circle cx="84.7" cy="146.1" r="1.4"/><circle cx="85.9" cy="145.1" r="1.4"/><circle cx="86.1" cy="145.4" r="1.4"/><circle cx="86.7" cy="147.2" r="1.4"/><circle cx="87" cy="146.6" r="1.4"/><circle cx="87" cy="144.6" r="1.4"/><circle cx="87.9" cy="144.7" r="1.4"/><circle cx="88.6" cy="147.2" r="1.4"/><circle cx="89.6" cy="147.9" r="1.4"/><circle cx="90.2" cy="148.1" r="1.4"/><circle cx="91.2" cy="147.3" r="1.4"/><circle cx="91.7" cy="151.2" r="1.4"/><circle cx="92.2" cy="152" r="1.4"/><circle cx="92.7" cy="149.9" r="1.4"/><circle cx="92.7" cy="151.9" r="1.4"/><circle cx="93.3" cy="151.4" r="1.4"/><circle cx="93.8" cy="150.7" r="1.4"/><circle cx="93.9" cy="150.2" r="1.4"/><circle cx="94.3" cy="152.8" r="1.4"/><circle cx="95.2" cy="150.6" r="1.4"/><circle cx="95.3" cy="154.5" r="1.4"/><circle cx="96" cy="151.6" r="1.4"/><circle cx="96.6" cy="155" r="1.4"/><circle cx="98.5" cy="155.8" r="1.4"/><circle cx="98.7" cy="153.3" r="1.4"/><circle cx="99.1" cy="154.9" r="1.4"/><circle cx="99.5" cy="155.6" r="1.4"/><circle cx="100.5" cy="155.7" r="1.4"/><circle cx="100.8" cy="154.7" r="1.4"/><circle cx="101" cy="155.4" r="1.4"/><circle cx="101.9" cy="155.8" r="1.4"/><circle cx="102.1" cy="154.5" r="1.4"/><circle cx="102.2" cy="156.7" r="1.4"/><circle cx="102.3" cy="156.4" r="1.4"/><circle cx="102.6" cy="156.5" r="1.4"/><circle cx="102.7" cy="154.5" r="1.4"/><circle cx="102.7" cy="154.7" r="1.4"/><circle cx="103.6" cy="154.4" r="1.4"/><circle cx="103.7" cy="156" r="1.4"/><circle cx="103.9" cy="156.2" r="1.4"/><circle cx="103.9" cy="155" r="1.4"/><circle cx="104.5" cy="156.5" r="1.4"/><circle cx="104.6" cy="155.1" r="1.4"/><circle cx="106.2" cy="155.4" r="1.4"/><circle cx="106.2" cy="157" r="1.4"/><circle cx="106.3" cy="156.3" r="1.4"/><circle cx="106.4" cy="156.4" r="1.4"/><circle cx="108.3" cy="154.4" r="1.4"/><circle cx="108.4" cy="153.5" r="1.4"/><circle cx="108.8" cy="156.6" r="1.4"/><circle cx="109.2" cy="156.5" r="1.4"/><circle cx="109.4" cy="159.2" r="1.4"/><circle cx="109.4" cy="156.3" r="1.4"/><circle cx="109.6" cy="156.6" r="1.4"/><circle cx="110.7" cy="157.9" r="1.4"/><circle cx="110.9" cy="155.7" r="1.4"/><circle cx="111.5" cy="158.4" r="1.4"/><circle cx="112.2" cy="156.9" r="1.4"/><circle cx="113.9" cy="156.6" r="1.4"/><circle cx="114.3" cy="158.1" r="1.4"/><circle cx="115.5" cy="155.8" r="1.4"/><circle cx="116.8" cy="155.6" r="1.4"/><circle cx="116.9" cy="158.4" r="1.4"/><circle cx="117" cy="158.4" r="1.4"/><circle cx="117" cy="156.1" r="1.4"/><circle cx="117" cy="156.8" r="1.4"/><circle cx="117.2" cy="158.2" r="1.4"/><circle cx="117.8" cy="157.1" r="1.4"/><circle cx="118.1" cy="156.9" r="1.4"/><circle cx="119" cy="157" r="1.4"/><circle cx="119.1" cy="155.9" r="1.4"/><circle cx="119.4" cy="156.4" r="1.4"/><circle cx="119.4" cy="154.8" r="1.4"/><circle cx="120" cy="155.3" r="1.4"/><circle cx="120.5" cy="156.1" r="1.4"/><circle cx="121.8" cy="155.7" r="1.4"/><circle cx="122.1" cy="155.4" r="1.4"/><circle cx="122.3" cy="156.1" r="1.4"/><circle cx="122.9" cy="158.4" r="1.4"/><circle cx="123" cy="156" r="1.4"/><circle cx="123.6" cy="156.9" r="1.4"/><circle cx="124" cy="155.2" r="1.4"/><circle cx="124.8" cy="156.9" r="1.4"/><circle cx="126.2" cy="156.5" r="1.4"/><circle cx="126.2" cy="156.7" r="1.4"/><circle cx="126.3" cy="155.2" r="1.4"/><circle cx="126.4" cy="156.9" r="1.4"/><circle cx="126.5" cy="157.4" r="1.4"/><circle cx="127.3" cy="156.8" r="1.4"/><circle cx="127.6" cy="157.6" r="1.4"/><circle cx="127.7" cy="157" r="1.4"/><circle cx="127.9" cy="157.2" r="1.4"/><circle cx="128" cy="156.8" r="1.4"/><circle cx="129.2" cy="155" r="1.4"/><circle cx="130.3" cy="157.7" r="1.4"/><circle cx="130.3" cy="157.2" r="1.4"/><circle cx="130.4" cy="157.5" r="1.4"/><circle cx="130.5" cy="156.5" r="1.4"/><circle cx="130.5" cy="158.6" r="1.4"/><circle cx="130.6" cy="158" r="1.4"/><circle cx="130.9" cy="157.3" r="1.4"/><circle cx="131.3" cy="156.7" r="1.4"/><circle cx="132" cy="157.4" r="1.4"/><circle cx="133" cy="157.9" r="1.4"/><circle cx="133.8" cy="158.4" r="1.4"/><circle cx="133.8" cy="156.8" r="1.4"/><circle cx="134.3" cy="155.7" r="1.4"/><circle cx="134.5" cy="157" r="1.4"/><circle cx="134.8" cy="157.1" r="1.4"/><circle cx="135" cy="156.8" r="1.4"/><circle cx="135.4" cy="158.3" r="1.4"/><circle cx="136.7" cy="157.5" r="1.4"/><circle cx="137.8" cy="157.4" r="1.4"/><circle cx="138.3" cy="156.7" r="1.4"/><circle cx="138.8" cy="157" r="1.4"/><circle cx="139" cy="158.4" r="1.4"/><circle cx="139.2" cy="155.7" r="1.4"/><circle cx="139.4" cy="155" r="1.4"/><circle cx="139.8" cy="157.2" r="1.4"/><circle cx="140.6" cy="156.4" r="1.4"/><circle cx="140.8" cy="156.5" r="1.4"/><circle cx="141.4" cy="155.9" r="1.4"/><circle cx="141.7" cy="158.5" r="1.4"/><circle cx="142.7" cy="154.9" r="1.4"/><circle cx="143.1" cy="157.2" r="1.4"/><circle cx="143.3" cy="155.2" r="1.4"/><circle cx="143.9" cy="156.5" r="1.4"/><circle cx="144.7" cy="157" r="1.4"/><circle cx="145.1" cy="156.7" r="1.4"/><circle cx="145.3" cy="155.5" r="1.4"/><circle cx="146.2" cy="157.4" r="1.4"/><circle cx="146.2" cy="156.9" r="1.4"/><circle cx="146.5" cy="157" r="1.4"/><circle cx="146.6" cy="158.4" r="1.4"/><circle cx="146.7" cy="154.9" r="1.4"/><circle cx="147.1" cy="155.8" r="1.4"/><circle cx="147.2" cy="156.4" r="1.4"/><circle cx="147.5" cy="155.1" r="1.4"/><circle cx="147.6" cy="157.5" r="1.4"/><circle cx="147.9" cy="156.5" r="1.4"/><circle cx="148.1" cy="154.4" r="1.4"/><circle cx="148.1" cy="155.3" r="1.4"/><circle cx="148.1" cy="158.9" r="1.4"/><circle cx="148.1" cy="160.2" r="1.4"/><circle cx="148.2" cy="157.6" r="1.4"/><circle cx="149.5" cy="155.1" r="1.4"/><circle cx="149.9" cy="156.8" r="1.4"/><circle cx="150.3" cy="156.5" r="1.4"/><circle cx="150.5" cy="155.6" r="1.4"/><circle cx="150.9" cy="157.3" r="1.4"/><circle cx="151.7" cy="156" r="1.4"/><circle cx="152.6" cy="155.3" r="1.4"/><circle cx="152.7" cy="155.7" r="1.4"/><circle cx="152.9" cy="155.7" r="1.4"/><circle cx="153.8" cy="156.8" r="1.4"/><circle cx="154.2" cy="155.6" r="1.4"/><circle cx="154.3" cy="156.6" r="1.4"/><circle cx="154.3" cy="154.6" r="1.4"/><circle cx="154.5" cy="153.2" r="1.4"/><circle cx="155.3" cy="156.9" r="1.4"/><circle cx="156.3" cy="158.5" r="1.4"/><circle cx="156.6" cy="156.5" r="1.4"/><circle cx="156.8" cy="155.6" r="1.4"/><circle cx="157.6" cy="154.8" r="1.4"/><circle cx="158.2" cy="154.8" r="1.4"/><circle cx="158.8" cy="156.9" r="1.4"/><circle cx="158.9" cy="156.9" r="1.4"/><circle cx="159.4" cy="154.6" r="1.4"/><circle cx="159.5" cy="157.3" r="1.4"/><circle cx="160" cy="154.8" r="1.4"/><circle cx="160.1" cy="156.3" r="1.4"/><circle cx="160.4" cy="155.2" r="1.4"/><circle cx="160.4" cy="155.3" r="1.4"/><circle cx="160.9" cy="155.2" r="1.4"/><circle cx="160.9" cy="155.1" r="1.4"/><circle cx="161.8" cy="157.2" r="1.4"/><circle cx="162.8" cy="155.8" r="1.4"/><circle cx="163.9" cy="156.1" r="1.4"/><circle cx="164.4" cy="155.8" r="1.4"/><circle cx="164.6" cy="154.7" r="1.4"/><circle cx="165.2" cy="156.5" r="1.4"/><circle cx="165.4" cy="157" r="1.4"/><circle cx="165.9" cy="157" r="1.4"/><circle cx="167" cy="156.5" r="1.4"/><circle cx="167.3" cy="155.3" r="1.4"/><circle cx="167.5" cy="157.1" r="1.4"/><circle cx="168" cy="154.9" r="1.4"/><circle cx="168.8" cy="155.9" r="1.4"/><circle cx="169.9" cy="156.5" r="1.4"/><circle cx="170" cy="157.7" r="1.4"/><circle cx="170.7" cy="155.9" r="1.4"/><circle cx="170.9" cy="155.4" r="1.4"/><circle cx="171.4" cy="158.2" r="1.4"/><circle cx="171.8" cy="154.8" r="1.4"/><circle cx="173" cy="154.2" r="1.4"/><circle cx="173" cy="155.7" r="1.4"/><circle cx="173" cy="155.5" r="1.4"/><circle cx="174.5" cy="153.3" r="1.4"/><circle cx="174.6" cy="154.6" r="1.4"/><circle cx="175.5" cy="157" r="1.4"/><circle cx="176.6" cy="156" r="1.4"/><circle cx="177.4" cy="156.1" r="1.4"/><circle cx="177.8" cy="156.1" r="1.4"/><circle cx="177.9" cy="158.6" r="1.4"/><circle cx="178" cy="155" r="1.4"/><circle cx="178.2" cy="156.6" r="1.4"/><circle cx="179.2" cy="155.7" r="1.4"/><circle cx="179.3" cy="156" r="1.4"/><circle cx="180.6" cy="154.8" r="1.4"/><circle cx="180.8" cy="156.1" r="1.4"/><circle cx="181.4" cy="156.7" r="1.4"/><circle cx="181.6" cy="155.2" r="1.4"/><circle cx="182.2" cy="154.2" r="1.4"/><circle cx="182.2" cy="156.1" r="1.4"/><circle cx="182.5" cy="154.2" r="1.4"/><circle cx="182.6" cy="155.5" r="1.4"/><circle cx="182.9" cy="156.4" r="1.4"/><circle cx="183" cy="154" r="1.4"/><circle cx="183.3" cy="156.7" r="1.4"/><circle cx="183.6" cy="154.6" r="1.4"/><circle cx="183.9" cy="156.3" r="1.4"/><circle cx="184.8" cy="155.2" r="1.4"/><circle cx="184.9" cy="157.1" r="1.4"/><circle cx="185.1" cy="156.7" r="1.4"/><circle cx="186.4" cy="154.5" r="1.4"/><circle cx="187.6" cy="155.4" r="1.4"/><circle cx="187.7" cy="155.6" r="1.4"/><circle cx="187.9" cy="156.2" r="1.4"/><circle cx="189.6" cy="155.1" r="1.4"/><circle cx="189.7" cy="157.2" r="1.4"/><circle cx="189.8" cy="156.9" r="1.4"/><circle cx="190.5" cy="155.8" r="1.4"/><circle cx="191.3" cy="156.5" r="1.4"/><circle cx="191.4" cy="156.4" r="1.4"/><circle cx="192.2" cy="155.7" r="1.4"/><circle cx="192.3" cy="155.7" r="1.4"/><circle cx="192.4" cy="155.8" r="1.4"/><circle cx="193.1" cy="153.7" r="1.4"/><circle cx="193.4" cy="154.4" r="1.4"/><circle cx="193.9" cy="154.1" r="1.4"/><circle cx="195.4" cy="155.5" r="1.4"/><circle cx="195.9" cy="156.1" r="1.4"/><circle cx="196.4" cy="157.1" r="1.4"/><circle cx="196.7" cy="155.9" r="1.4"/><circle cx="196.8" cy="157.8" r="1.4"/><circle cx="196.9" cy="156.1" r="1.4"/><circle cx="197.8" cy="154.6" r="1.4"/><circle cx="198.2" cy="153.6" r="1.4"/><circle cx="200.7" cy="154.3" r="1.4"/><circle cx="201.5" cy="156.3" r="1.4"/><circle cx="202.6" cy="154.8" r="1.4"/></g><polyline points="37.8,156.6 39.5,156.8 41.2,157 42.8,157.2 44.5,157.4 46.1,157.3 47.8,157.3 49.5,157.3 51.1,157.2 52.8,157.2 54.5,157.2 56.1,157.1 57.8,156.9 59.5,156.7 61.1,156.5 62.8,156.3 64.5,156.1 66.1,155.9 67.8,155.3 69.4,154.5 71.1,153.8 72.8,153 74.4,152.1 76.1,151.2 77.8,150.4 79.4,149.5 81.1,148.5 82.8,147.6 84.4,147 86.1,146.4 87.8,146.9 89.4,147.9 91.1,149 92.8,150.1 94.4,151.3 96.1,152.4 97.7,153.6 99.4,154.5 101.1,155.4 102.7,155.9 104.4,156 106.1,156.2 107.7,156.4 109.4,156.6 111.1,156.6 112.7,156.7 114.4,156.7 116.1,156.8 117.7,156.8 119.4,156.9 121,156.9 122.7,157 124.4,157 126,157.1 127.7,157.1 129.4,157.2 131,157.3 132.7,157.3 134.4,157.3 136,157.2 137.7,157.1 139.4,157 141,156.8 142.7,156.7 144.4,156.6 146,156.5 147.7,156.4 149.3,156.3 151,156.3 152.7,156.2 154.3,156.1 156,156.1 157.7,156 159.3,156 161,156.1 162.7,156.1 164.3,156.1 166,156.2 167.7,156.2 169.3,156.2 171,156.2 172.6,156.1 174.3,156.1 176,156 177.6,155.9 179.3,155.9 181,155.8 182.6,155.8 184.3,155.7 186,155.7 187.6,155.7 189.3,155.6 191,155.6 192.6,155.6 194.3,155.5 196,155.5 197.6,155.4 199.3,155.4 200.9,155.4 202.6,155.3" fill="none" stroke="#3f6db5" stroke-width="0.9"/><path d="M39 166.6v2" stroke="#333" stroke-width="0.6"/><text x="39" y="177.1" text-anchor="middle" font-size="8">10</text><path d="M62.7 166.6v2" stroke="#333" stroke-width="0.6"/><text x="62.7" y="177.1" text-anchor="middle" font-size="8">20</text><path d="M86.4 166.6v2" stroke="#333" stroke-width="0.6"/><text x="86.4" y="177.1" text-anchor="middle" font-size="8">30</text><path d="M110.1 166.6v2" stroke="#333" stroke-width="0.6"/><text x="110.1" y="177.1" text-anchor="middle" font-size="8">40</text><path d="M133.8 166.6v2" stroke="#333" stroke-width="0.6"/><text x="133.8" y="177.1" text-anchor="middle" font-size="8">50</text><path d="M157.6 166.6v2" stroke="#333" stroke-width="0.6"/><text x="157.6" y="177.1" text-anchor="middle" font-size="8">60</text><path d="M181.3 166.6v2" stroke="#333" stroke-width="0.6"/><text x="181.3" y="177.1" text-anchor="middle" font-size="8">70</text><path d="M205 166.6v2" stroke="#333" stroke-width="0.6"/><text x="205" y="177.1" text-anchor="middle" font-size="8">80</text><path d="M20.3 155.1h2" stroke="#333" stroke-width="0.6"/><text x="19.3" y="158.1" text-anchor="end" font-size="8">0</text><path d="M20.3 143.7h2" stroke="#333" stroke-width="0.6"/><text x="19.3" y="146.7" text-anchor="end" font-size="8">5</text><rect x="273.5" y="137.2" width="201.9" height="29.2" fill="none" stroke="#333" stroke-width="0.6"/><g fill="#ff0000" fill-opacity="0.2" stroke="#ff0000" stroke-opacity="0.45" stroke-width="0.6"><circle cx="283.6" cy="155.9" r="1.4"/><circle cx="284" cy="154.8" r="1.4"/><circle cx="284.1" cy="156.7" r="1.4"/><circle cx="284.4" cy="154.8" r="1.4"/><circle cx="286.2" cy="157.3" r="1.4"/><circle cx="286.4" cy="156.5" r="1.4"/><circle cx="287" cy="155.7" r="1.4"/><circle cx="287.1" cy="154.6" r="1.4"/><circle cx="287.7" cy="156.3" r="1.4"/><circle cx="287.8" cy="157.8" r="1.4"/><circle cx="288" cy="155.3" r="1.4"/><circle cx="288.2" cy="155.7" r="1.4"/><circle cx="288.4" cy="156.8" r="1.4"/><circle cx="289.1" cy="156.7" r="1.4"/><circle cx="289.2" cy="156.3" r="1.4"/><circle cx="289.4" cy="155.6" r="1.4"/><circle cx="289.6" cy="155" r="1.4"/><circle cx="289.8" cy="157.1" r="1.4"/><circle cx="290.3" cy="153.4" r="1.4"/><circle cx="290.8" cy="155.7" r="1.4"/><circle cx="291.2" cy="156" r="1.4"/><circle cx="291.5" cy="154.9" r="1.4"/><circle cx="292.1" cy="155.5" r="1.4"/><circle cx="292.2" cy="153.3" r="1.4"/><circle cx="292.8" cy="154.5" r="1.4"/><circle cx="293" cy="155.9" r="1.4"/><circle cx="293.4" cy="155.9" r="1.4"/><circle cx="293.6" cy="156" r="1.4"/><circle cx="293.8" cy="155.9" r="1.4"/><circle cx="293.8" cy="154.9" r="1.4"/><circle cx="294.1" cy="156.2" r="1.4"/><circle cx="294.5" cy="153.9" r="1.4"/><circle cx="294.6" cy="155.6" r="1.4"/><circle cx="294.6" cy="155.7" r="1.4"/><circle cx="295.8" cy="154.6" r="1.4"/><circle cx="296.3" cy="157.4" r="1.4"/><circle cx="296.4" cy="156.4" r="1.4"/><circle cx="296.4" cy="154.9" r="1.4"/><circle cx="296.5" cy="155.5" r="1.4"/><circle cx="296.9" cy="155.5" r="1.4"/><circle cx="297" cy="155.1" r="1.4"/><circle cx="297" cy="156.1" r="1.4"/><circle cx="297.4" cy="155.6" r="1.4"/><circle cx="297.6" cy="156.8" r="1.4"/><circle cx="298.1" cy="157.3" r="1.4"/><circle cx="298.2" cy="154.2" r="1.4"/><circle cx="298.7" cy="156.4" r="1.4"/><circle cx="298.8" cy="156.1" r="1.4"/><circle cx="298.9" cy="154" r="1.4"/><circle cx="298.9" cy="154.4" r="1.4"/><circle cx="299" cy="155.9" r="1.4"/><circle cx="299.1" cy="155.9" r="1.4"/><circle cx="299.2" cy="155.5" r="1.4"/><circle cx="299.6" cy="156.4" r="1.4"/><circle cx="300.6" cy="154.8" r="1.4"/><circle cx="300.7" cy="155.2" r="1.4"/><circle cx="300.9" cy="155.2" r="1.4"/><circle cx="301.1" cy="154.6" r="1.4"/><circle cx="301.2" cy="154.7" r="1.4"/><circle cx="301.5" cy="153.5" r="1.4"/><circle cx="301.9" cy="153.8" r="1.4"/><circle cx="302.2" cy="157" r="1.4"/><circle cx="302.3" cy="154.4" r="1.4"/><circle cx="302.5" cy="156.4" r="1.4"/><circle cx="302.5" cy="156.8" r="1.4"/><circle cx="302.9" cy="154.6" r="1.4"/><circle cx="304.8" cy="156" r="1.4"/><circle cx="305" cy="155.6" r="1.4"/><circle cx="305.8" cy="154.2" r="1.4"/><circle cx="306" cy="155.9" r="1.4"/><circle cx="306.3" cy="156.1" r="1.4"/><circle cx="306.6" cy="154.9" r="1.4"/><circle cx="306.9" cy="154" r="1.4"/><circle cx="307.1" cy="154.7" r="1.4"/><circle cx="307.5" cy="156.7" r="1.4"/><circle cx="307.6" cy="155.8" r="1.4"/><circle cx="307.6" cy="155.3" r="1.4"/><circle cx="307.9" cy="153.2" r="1.4"/><circle cx="308.3" cy="154.2" r="1.4"/><circle cx="308.5" cy="154.3" r="1.4"/><circle cx="308.5" cy="153.9" r="1.4"/><circle cx="309" cy="155.4" r="1.4"/><circle cx="310.5" cy="154.6" r="1.4"/><circle cx="310.7" cy="154.6" r="1.4"/><circle cx="310.7" cy="156" r="1.4"/><circle cx="310.8" cy="155.1" r="1.4"/><circle cx="311.7" cy="154.4" r="1.4"/><circle cx="311.7" cy="156.1" r="1.4"/><circle cx="312.3" cy="154.2" r="1.4"/><circle cx="312.4" cy="154.2" r="1.4"/><circle cx="312.7" cy="153.9" r="1.4"/><circle cx="313" cy="155.7" r="1.4"/><circle cx="313.3" cy="154.8" r="1.4"/><circle cx="313.9" cy="153.5" r="1.4"/><circle cx="314.8" cy="154.1" r="1.4"/><circle cx="314.9" cy="155.7" r="1.4"/><circle cx="315.8" cy="154.6" r="1.4"/><circle cx="316.1" cy="153.4" r="1.4"/><circle cx="316.2" cy="154.9" r="1.4"/><circle cx="316.6" cy="154.4" r="1.4"/><circle cx="316.8" cy="152.3" r="1.4"/><circle cx="317.5" cy="154.8" r="1.4"/><circle cx="317.6" cy="154.9" r="1.4"/><circle cx="318.2" cy="155.8" r="1.4"/><circle cx="318.2" cy="155.4" r="1.4"/><circle cx="318.3" cy="153.3" r="1.4"/><circle cx="318.9" cy="154.9" r="1.4"/><circle cx="318.9" cy="155.9" r="1.4"/><circle cx="319" cy="155.7" r="1.4"/><circle cx="319.1" cy="154.7" r="1.4"/><circle cx="319.8" cy="153.9" r="1.4"/><circle cx="320.6" cy="155.4" r="1.4"/><circle cx="321.1" cy="154" r="1.4"/><circle cx="321.4" cy="155.1" r="1.4"/><circle cx="322.1" cy="154.3" r="1.4"/><circle cx="322.1" cy="154.1" r="1.4"/><circle cx="322.5" cy="154" r="1.4"/><circle cx="323" cy="155" r="1.4"/><circle cx="323" cy="154.8" r="1.4"/><circle cx="323" cy="154.1" r="1.4"/><circle cx="323.1" cy="155.9" r="1.4"/><circle cx="323.4" cy="154.4" r="1.4"/><circle cx="323.7" cy="154.1" r="1.4"/><circle cx="324.1" cy="153.5" r="1.4"/><circle cx="326.1" cy="154.5" r="1.4"/><circle cx="326.3" cy="154.7" r="1.4"/><circle cx="326.9" cy="154.3" r="1.4"/><circle cx="327.3" cy="155.2" r="1.4"/><circle cx="327.8" cy="154.6" r="1.4"/><circle cx="328" cy="154" r="1.4"/><circle cx="328.2" cy="154.1" r="1.4"/><circle cx="328.5" cy="155.4" r="1.4"/><circle cx="328.5" cy="154.7" r="1.4"/><circle cx="328.9" cy="156.5" r="1.4"/><circle cx="329.2" cy="153.6" r="1.4"/><circle cx="329.5" cy="154.9" r="1.4"/><circle cx="329.7" cy="154.1" r="1.4"/><circle cx="330" cy="155.5" r="1.4"/><circle cx="330.3" cy="154.4" r="1.4"/><circle cx="332" cy="153.8" r="1.4"/><circle cx="332.2" cy="153.3" r="1.4"/><circle cx="332.7" cy="155.6" r="1.4"/><circle cx="332.8" cy="153.4" r="1.4"/><circle cx="333.6" cy="154.4" r="1.4"/><circle cx="334.3" cy="154.9" r="1.4"/><circle cx="334.5" cy="153.6" r="1.4"/><circle cx="335.4" cy="154.2" r="1.4"/><circle cx="335.6" cy="154.1" r="1.4"/><circle cx="336.8" cy="154.3" r="1.4"/><circle cx="337.2" cy="153.3" r="1.4"/><circle cx="337.5" cy="153.4" r="1.4"/><circle cx="337.8" cy="153.5" r="1.4"/><circle cx="337.9" cy="154.3" r="1.4"/><circle cx="338.1" cy="153.8" r="1.4"/><circle cx="338.4" cy="152.8" r="1.4"/><circle cx="338.4" cy="151.9" r="1.4"/><circle cx="339" cy="153.1" r="1.4"/><circle cx="339.3" cy="151.5" r="1.4"/><circle cx="339.4" cy="153" r="1.4"/><circle cx="339.5" cy="154.1" r="1.4"/><circle cx="339.6" cy="152.3" r="1.4"/><circle cx="339.7" cy="154" r="1.4"/><circle cx="340" cy="152.4" r="1.4"/><circle cx="340.4" cy="151.6" r="1.4"/><circle cx="340.5" cy="153.1" r="1.4"/><circle cx="340.6" cy="152.8" r="1.4"/><circle cx="340.8" cy="149.9" r="1.4"/><circle cx="341" cy="152.4" r="1.4"/><circle cx="341.3" cy="152.2" r="1.4"/><circle cx="341.4" cy="151.5" r="1.4"/><circle cx="341.6" cy="152.4" r="1.4"/><circle cx="341.9" cy="152.3" r="1.4"/><circle cx="341.9" cy="151.7" r="1.4"/><circle cx="342.9" cy="154.6" r="1.4"/><circle cx="343" cy="149.9" r="1.4"/><circle cx="343.4" cy="152.7" r="1.4"/><circle cx="344" cy="152.5" r="1.4"/><circle cx="344.5" cy="150.2" r="1.4"/><circle cx="344.5" cy="150.8" r="1.4"/><circle cx="344.7" cy="152.4" r="1.4"/><circle cx="345" cy="150.3" r="1.4"/><circle cx="345.1" cy="152.1" r="1.4"/><circle cx="345.3" cy="151.4" r="1.4"/><circle cx="345.3" cy="152.5" r="1.4"/><circle cx="345.4" cy="151.6" r="1.4"/><circle cx="345.7" cy="149.7" r="1.4"/><circle cx="346" cy="150" r="1.4"/><circle cx="346.6" cy="149.5" r="1.4"/><circle cx="346.9" cy="148.5" r="1.4"/><circle cx="348.8" cy="149.2" r="1.4"/><circle cx="348.8" cy="150.2" r="1.4"/><circle cx="349.1" cy="149.5" r="1.4"/><circle cx="349.3" cy="146.2" r="1.4"/><circle cx="349.4" cy="148.9" r="1.4"/><circle cx="349.7" cy="148.3" r="1.4"/><circle cx="349.7" cy="149" r="1.4"/><circle cx="350.9" cy="147.9" r="1.4"/><circle cx="351" cy="147.5" r="1.4"/><circle cx="351.6" cy="148.2" r="1.4"/><circle cx="351.6" cy="148.4" r="1.4"/><circle cx="351.8" cy="149.6" r="1.4"/><circle cx="352.5" cy="149.6" r="1.4"/><circle cx="352.7" cy="146.9" r="1.4"/><circle cx="352.9" cy="146.1" r="1.4"/><circle cx="353" cy="145.6" r="1.4"/><circle cx="353.1" cy="147.5" r="1.4"/><circle cx="353.4" cy="149.3" r="1.4"/><circle cx="353.8" cy="146" r="1.4"/><circle cx="353.9" cy="146" r="1.4"/><circle cx="354.1" cy="150.7" r="1.4"/><circle cx="354.1" cy="145.5" r="1.4"/><circle cx="355.1" cy="145.7" r="1.4"/><circle cx="355.1" cy="143.1" r="1.4"/><circle cx="355.4" cy="149.7" r="1.4"/><circle cx="356" cy="150" r="1.4"/><circle cx="356.4" cy="144.7" r="1.4"/><circle cx="357.9" cy="151" r="1.4"/><circle cx="358.4" cy="148.1" r="1.4"/><circle cx="358.4" cy="149.1" r="1.4"/><circle cx="358.9" cy="148.7" r="1.4"/><circle cx="359" cy="151.1" r="1.4"/><circle cx="359.1" cy="146.6" r="1.4"/><circle cx="359.3" cy="143.3" r="1.4"/><circle cx="359.3" cy="144.7" r="1.4"/><circle cx="359.5" cy="144.7" r="1.4"/><circle cx="359.6" cy="146.8" r="1.4"/><circle cx="360.5" cy="141.7" r="1.4"/><circle cx="360.7" cy="144.1" r="1.4"/><circle cx="361" cy="142.6" r="1.4"/><circle cx="361.3" cy="149.7" r="1.4"/><circle cx="361.4" cy="144.6" r="1.4"/><circle cx="361.9" cy="148.8" r="1.4"/><circle cx="362" cy="144.8" r="1.4"/><circle cx="362.4" cy="145.3" r="1.4"/><circle cx="363.5" cy="149.1" r="1.4"/><circle cx="363.5" cy="145.6" r="1.4"/><circle cx="364.2" cy="143.3" r="1.4"/><circle cx="364.6" cy="145.1" r="1.4"/><circle cx="364.7" cy="144.9" r="1.4"/><circle cx="365.1" cy="148.7" r="1.4"/><circle cx="365.5" cy="148.3" r="1.4"/><circle cx="365.5" cy="149.4" r="1.4"/><circle cx="365.9" cy="146.4" r="1.4"/><circle cx="366" cy="143.8" r="1.4"/><circle cx="366" cy="145.7" r="1.4"/><circle cx="366.6" cy="146.9" r="1.4"/><circle cx="366.8" cy="149.6" r="1.4"/><circle cx="366.9" cy="146" r="1.4"/><circle cx="367.1" cy="147.6" r="1.4"/><circle cx="367.2" cy="151.6" r="1.4"/><circle cx="367.4" cy="151.2" r="1.4"/><circle cx="367.9" cy="148.3" r="1.4"/><circle cx="368.3" cy="149.7" r="1.4"/><circle cx="369.4" cy="144.8" r="1.4"/><circle cx="370" cy="148.5" r="1.4"/><circle cx="370.1" cy="150.6" r="1.4"/><circle cx="370.1" cy="149.6" r="1.4"/><circle cx="370.5" cy="145.6" r="1.4"/><circle cx="370.7" cy="150.7" r="1.4"/><circle cx="371.2" cy="147.7" r="1.4"/><circle cx="371.6" cy="148.5" r="1.4"/><circle cx="372" cy="146.9" r="1.4"/><circle cx="372" cy="148.6" r="1.4"/><circle cx="372" cy="150.2" r="1.4"/><circle cx="372.1" cy="148.6" r="1.4"/><circle cx="372.3" cy="149.5" r="1.4"/><circle cx="372.4" cy="148" r="1.4"/><circle cx="372.8" cy="150" r="1.4"/><circle cx="373" cy="146.6" r="1.4"/><circle cx="373.9" cy="150.5" r="1.4"/><circle cx="374" cy="149.6" r="1.4"/><circle cx="374.9" cy="151.7" r="1.4"/><circle cx="374.9" cy="150.5" r="1.4"/><circle cx="375.4" cy="150.9" r="1.4"/><circle cx="375.9" cy="150.8" r="1.4"/><circle cx="376" cy="149.9" r="1.4"/><circle cx="376.8" cy="152.2" r="1.4"/><circle cx="377.4" cy="152.8" r="1.4"/><circle cx="377.9" cy="150.5" r="1.4"/><circle cx="378.5" cy="152.3" r="1.4"/><circle cx="379.1" cy="152.8" r="1.4"/><circle cx="379.1" cy="150.6" r="1.4"/><circle cx="379.7" cy="151.2" r="1.4"/><circle cx="380.2" cy="155.2" r="1.4"/><circle cx="380.3" cy="152.6" r="1.4"/><circle cx="380.4" cy="151.3" r="1.4"/><circle cx="380.4" cy="151.2" r="1.4"/><circle cx="380.7" cy="152.8" r="1.4"/><circle cx="380.8" cy="150.5" r="1.4"/><circle cx="380.8" cy="153.1" r="1.4"/><circle cx="381" cy="152.5" r="1.4"/><circle cx="381" cy="152.1" r="1.4"/><circle cx="381.5" cy="152.3" r="1.4"/><circle cx="381.9" cy="151.5" r="1.4"/><circle cx="382.2" cy="151.3" r="1.4"/><circle cx="382.4" cy="152.5" r="1.4"/><circle cx="382.7" cy="151" r="1.4"/><circle cx="383" cy="153.2" r="1.4"/><circle cx="384.4" cy="152.9" r="1.4"/><circle cx="384.6" cy="150.9" r="1.4"/><circle cx="385.1" cy="152.6" r="1.4"/><circle cx="385.8" cy="151.7" r="1.4"/><circle cx="386.2" cy="153.3" r="1.4"/><circle cx="386.3" cy="153.1" r="1.4"/><circle cx="386.3" cy="153" r="1.4"/><circle cx="386.5" cy="152.7" r="1.4"/><circle cx="386.8" cy="153.2" r="1.4"/><circle cx="386.9" cy="152.9" r="1.4"/><circle cx="387.3" cy="152.3" r="1.4"/><circle cx="387.4" cy="151.7" r="1.4"/><circle cx="387.5" cy="152.8" r="1.4"/><circle cx="387.9" cy="152.3" r="1.4"/><circle cx="388.1" cy="152.1" r="1.4"/><circle cx="388.1" cy="154.1" r="1.4"/><circle cx="388.3" cy="154.6" r="1.4"/><circle cx="388.6" cy="151.4" r="1.4"/><circle cx="388.7" cy="151.7" r="1.4"/><circle cx="389" cy="153" r="1.4"/><circle cx="390.2" cy="152.8" r="1.4"/><circle cx="390.4" cy="154.1" r="1.4"/><circle cx="390.7" cy="154.5" r="1.4"/><circle cx="391" cy="152.8" r="1.4"/><circle cx="391" cy="154.6" r="1.4"/><circle cx="391.5" cy="152.3" r="1.4"/><circle cx="391.9" cy="153.9" r="1.4"/><circle cx="392.2" cy="153" r="1.4"/><circle cx="392.3" cy="151.3" r="1.4"/><circle cx="392.8" cy="151.4" r="1.4"/><circle cx="393" cy="153.6" r="1.4"/><circle cx="393.4" cy="152.3" r="1.4"/><circle cx="393.5" cy="154.4" r="1.4"/><circle cx="393.5" cy="153.9" r="1.4"/><circle cx="393.7" cy="153" r="1.4"/><circle cx="393.7" cy="152" r="1.4"/><circle cx="393.7" cy="153.9" r="1.4"/><circle cx="394.4" cy="152.8" r="1.4"/><circle cx="395" cy="153.3" r="1.4"/><circle cx="395.2" cy="154.7" r="1.4"/><circle cx="395.3" cy="153.6" r="1.4"/><circle cx="396.6" cy="152" r="1.4"/><circle cx="396.6" cy="153.6" r="1.4"/><circle cx="396.7" cy="153" r="1.4"/><circle cx="396.9" cy="152.7" r="1.4"/><circle cx="397.3" cy="154.3" r="1.4"/><circle cx="397.3" cy="152.3" r="1.4"/><circle cx="397.6" cy="152.1" r="1.4"/><circle cx="398.1" cy="152" r="1.4"/><circle cx="398.3" cy="152.3" r="1.4"/><circle cx="398.6" cy="154.1" r="1.4"/><circle cx="399" cy="154.2" r="1.4"/><circle cx="399.6" cy="154.4" r="1.4"/><circle cx="399.8" cy="154.6" r="1.4"/><circle cx="399.9" cy="154.5" r="1.4"/><circle cx="400.3" cy="152.7" r="1.4"/><circle cx="400.9" cy="152.3" r="1.4"/><circle cx="401.1" cy="154.4" r="1.4"/><circle cx="401.2" cy="152.9" r="1.4"/><circle cx="401.2" cy="155" r="1.4"/><circle cx="401.2" cy="154.1" r="1.4"/><circle cx="401.6" cy="154.7" r="1.4"/><circle cx="401.7" cy="155.4" r="1.4"/><circle cx="401.8" cy="153.7" r="1.4"/><circle cx="401.8" cy="153.7" r="1.4"/><circle cx="401.8" cy="154.2" r="1.4"/><circle cx="402" cy="154.3" r="1.4"/><circle cx="402.4" cy="154.8" r="1.4"/><circle cx="402.5" cy="153.9" r="1.4"/><circle cx="403.2" cy="154.4" r="1.4"/><circle cx="403.7" cy="153.6" r="1.4"/><circle cx="403.9" cy="155.1" r="1.4"/><circle cx="403.9" cy="153.7" r="1.4"/><circle cx="404.1" cy="153.4" r="1.4"/><circle cx="404.5" cy="152.7" r="1.4"/><circle cx="405.6" cy="152.9" r="1.4"/><circle cx="405.8" cy="153.8" r="1.4"/><circle cx="406.3" cy="154.7" r="1.4"/><circle cx="406.3" cy="155.8" r="1.4"/><circle cx="406.5" cy="154" r="1.4"/><circle cx="407.1" cy="152.7" r="1.4"/><circle cx="407.8" cy="152.5" r="1.4"/><circle cx="407.8" cy="156.6" r="1.4"/><circle cx="408.3" cy="154.9" r="1.4"/><circle cx="408.4" cy="154.5" r="1.4"/><circle cx="408.4" cy="155.2" r="1.4"/><circle cx="408.6" cy="154" r="1.4"/><circle cx="408.8" cy="154.1" r="1.4"/><circle cx="409.4" cy="154.7" r="1.4"/><circle cx="409.4" cy="154.2" r="1.4"/><circle cx="409.6" cy="155.8" r="1.4"/><circle cx="409.9" cy="155.2" r="1.4"/><circle cx="410" cy="155.1" r="1.4"/><circle cx="411.9" cy="153.4" r="1.4"/><circle cx="412.7" cy="155.9" r="1.4"/><circle cx="412.8" cy="154.5" r="1.4"/><circle cx="413.3" cy="153.5" r="1.4"/><circle cx="413.8" cy="154.3" r="1.4"/><circle cx="413.9" cy="153.5" r="1.4"/><circle cx="414.5" cy="155" r="1.4"/><circle cx="414.9" cy="153.9" r="1.4"/><circle cx="415.5" cy="153.4" r="1.4"/><circle cx="415.5" cy="152.1" r="1.4"/><circle cx="415.9" cy="153.6" r="1.4"/><circle cx="416" cy="152.9" r="1.4"/><circle cx="416.3" cy="154.3" r="1.4"/><circle cx="417.2" cy="154.3" r="1.4"/><circle cx="417.6" cy="152.8" r="1.4"/><circle cx="418" cy="153.8" r="1.4"/><circle cx="418.1" cy="153" r="1.4"/><circle cx="418.2" cy="153.7" r="1.4"/><circle cx="418.3" cy="152.3" r="1.4"/><circle cx="418.7" cy="152" r="1.4"/><circle cx="418.8" cy="155.2" r="1.4"/><circle cx="418.9" cy="152.5" r="1.4"/><circle cx="419.2" cy="154" r="1.4"/><circle cx="420.8" cy="154" r="1.4"/><circle cx="421.3" cy="154.5" r="1.4"/><circle cx="421.3" cy="153.7" r="1.4"/><circle cx="421.4" cy="155.5" r="1.4"/><circle cx="421.8" cy="155.2" r="1.4"/><circle cx="421.8" cy="155.2" r="1.4"/><circle cx="422" cy="154.2" r="1.4"/><circle cx="422.2" cy="153.5" r="1.4"/><circle cx="422.6" cy="153.7" r="1.4"/><circle cx="422.8" cy="154.1" r="1.4"/><circle cx="422.9" cy="155" r="1.4"/><circle cx="423" cy="156.2" r="1.4"/><circle cx="423.5" cy="154.1" r="1.4"/><circle cx="423.5" cy="154.3" r="1.4"/><circle cx="423.6" cy="154.1" r="1.4"/><circle cx="423.7" cy="153.1" r="1.4"/><circle cx="423.7" cy="154.7" r="1.4"/><circle cx="424.4" cy="154.7" r="1.4"/><circle cx="424.7" cy="156.8" r="1.4"/><circle cx="424.7" cy="153.9" r="1.4"/><circle cx="424.7" cy="154.5" r="1.4"/><circle cx="425.4" cy="155.2" r="1.4"/><circle cx="425.7" cy="154.1" r="1.4"/><circle cx="425.8" cy="155.6" r="1.4"/><circle cx="426.1" cy="155.1" r="1.4"/><circle cx="426.3" cy="152.6" r="1.4"/><circle cx="426.9" cy="153.8" r="1.4"/><circle cx="427.4" cy="153.6" r="1.4"/><circle cx="427.7" cy="153.8" r="1.4"/><circle cx="427.7" cy="153.9" r="1.4"/><circle cx="427.7" cy="154.4" r="1.4"/><circle cx="428.4" cy="152.3" r="1.4"/><circle cx="428.5" cy="154.7" r="1.4"/><circle cx="428.7" cy="153.9" r="1.4"/><circle cx="429.1" cy="154.8" r="1.4"/><circle cx="430.2" cy="155" r="1.4"/><circle cx="430.8" cy="157" r="1.4"/><circle cx="431.7" cy="156.5" r="1.4"/><circle cx="432.1" cy="153.1" r="1.4"/><circle cx="432.6" cy="153.2" r="1.4"/><circle cx="432.7" cy="155.1" r="1.4"/><circle cx="432.7" cy="154.7" r="1.4"/><circle cx="434.2" cy="154.1" r="1.4"/><circle cx="434.4" cy="155.7" r="1.4"/><circle cx="435" cy="152.9" r="1.4"/><circle cx="435.5" cy="155.7" r="1.4"/><circle cx="435.7" cy="155.4" r="1.4"/><circle cx="435.9" cy="157.4" r="1.4"/><circle cx="436" cy="153.2" r="1.4"/><circle cx="436.6" cy="154.6" r="1.4"/><circle cx="437.2" cy="153.1" r="1.4"/><circle cx="438.1" cy="155.7" r="1.4"/><circle cx="438.4" cy="154.4" r="1.4"/><circle cx="438.6" cy="154.7" r="1.4"/><circle cx="439.7" cy="154.5" r="1.4"/><circle cx="440.5" cy="152.7" r="1.4"/><circle cx="440.8" cy="152.5" r="1.4"/><circle cx="441.3" cy="153.4" r="1.4"/><circle cx="441.4" cy="155.2" r="1.4"/><circle cx="441.6" cy="153.9" r="1.4"/><circle cx="442.3" cy="153.4" r="1.4"/><circle cx="442.4" cy="154.2" r="1.4"/><circle cx="442.4" cy="154.2" r="1.4"/><circle cx="442.8" cy="154.3" r="1.4"/><circle cx="443.2" cy="155.7" r="1.4"/><circle cx="443.3" cy="154.5" r="1.4"/><circle cx="443.5" cy="153.2" r="1.4"/><circle cx="443.5" cy="155.8" r="1.4"/><circle cx="443.6" cy="154.7" r="1.4"/><circle cx="443.8" cy="154" r="1.4"/><circle cx="444.1" cy="156.2" r="1.4"/><circle cx="444.3" cy="154.9" r="1.4"/><circle cx="444.6" cy="156.5" r="1.4"/><circle cx="444.6" cy="155.4" r="1.4"/><circle cx="444.6" cy="156.2" r="1.4"/><circle cx="445" cy="155.7" r="1.4"/><circle cx="445.1" cy="155.3" r="1.4"/><circle cx="445.5" cy="155.1" r="1.4"/><circle cx="445.5" cy="155" r="1.4"/><circle cx="445.6" cy="157.2" r="1.4"/><circle cx="446" cy="153.3" r="1.4"/><circle cx="447.2" cy="155.1" r="1.4"/><circle cx="447.6" cy="155.9" r="1.4"/><circle cx="448" cy="155.5" r="1.4"/><circle cx="448.7" cy="154.6" r="1.4"/><circle cx="449" cy="155.9" r="1.4"/><circle cx="449.5" cy="155.3" r="1.4"/><circle cx="450.2" cy="155.4" r="1.4"/><circle cx="450.5" cy="154.4" r="1.4"/><circle cx="451.2" cy="155.6" r="1.4"/><circle cx="452" cy="154.5" r="1.4"/><circle cx="452.1" cy="154.6" r="1.4"/><circle cx="452.1" cy="155.1" r="1.4"/><circle cx="452.3" cy="153.7" r="1.4"/><circle cx="452.4" cy="154.9" r="1.4"/><circle cx="453.2" cy="156.1" r="1.4"/><circle cx="453.7" cy="154.6" r="1.4"/><circle cx="453.8" cy="154.8" r="1.4"/><circle cx="453.9" cy="155" r="1.4"/><circle cx="454" cy="154.7" r="1.4"/><circle cx="454.1" cy="152.6" r="1.4"/><circle cx="454.3" cy="154.7" r="1.4"/><circle cx="454.3" cy="154.5" r="1.4"/><circle cx="454.6" cy="155.2" r="1.4"/><circle cx="455.1" cy="153.7" r="1.4"/><circle cx="455.4" cy="155" r="1.4"/><circle cx="455.5" cy="155.8" r="1.4"/><circle cx="455.5" cy="156.2" r="1.4"/><circle cx="455.6" cy="154.4" r="1.4"/><circle cx="455.7" cy="154.2" r="1.4"/><circle cx="455.7" cy="156.5" r="1.4"/><circle cx="456" cy="155.7" r="1.4"/><circle cx="456.2" cy="154.3" r="1.4"/><circle cx="456.3" cy="154" r="1.4"/><circle cx="456.7" cy="156.3" r="1.4"/><circle cx="456.7" cy="155.4" r="1.4"/><circle cx="457" cy="154.2" r="1.4"/><circle cx="457.3" cy="155.5" r="1.4"/><circle cx="457.6" cy="155.4" r="1.4"/><circle cx="457.7" cy="155.5" r="1.4"/><circle cx="458.1" cy="156.3" r="1.4"/><circle cx="458.2" cy="155" r="1.4"/><circle cx="458.3" cy="154.7" r="1.4"/><circle cx="458.9" cy="156.4" r="1.4"/><circle cx="459.2" cy="154.9" r="1.4"/><circle cx="459.2" cy="153.9" r="1.4"/><circle cx="459.5" cy="154.8" r="1.4"/><circle cx="459.7" cy="154.1" r="1.4"/><circle cx="460.6" cy="155.6" r="1.4"/><circle cx="461" cy="153.7" r="1.4"/><circle cx="461.4" cy="155.8" r="1.4"/><circle cx="461.5" cy="153.2" r="1.4"/><circle cx="462.2" cy="155.5" r="1.4"/><circle cx="462.4" cy="155.8" r="1.4"/><circle cx="462.6" cy="155.9" r="1.4"/><circle cx="463" cy="155.5" r="1.4"/><circle cx="463.1" cy="155.6" r="1.4"/><circle cx="463.1" cy="155.7" r="1.4"/><circle cx="464" cy="155.4" r="1.4"/><circle cx="464.7" cy="154.4" r="1.4"/><circle cx="464.7" cy="154.2" r="1.4"/><circle cx="465.3" cy="155.4" r="1.4"/><circle cx="465.5" cy="153.9" r="1.4"/><circle cx="465.7" cy="156.1" r="1.4"/><circle cx="465.7" cy="156.1" r="1.4"/><circle cx="465.9" cy="156.2" r="1.4"/></g><polyline points="283.3,155.8 285.2,155.8 287,155.8 288.9,155.7 290.7,155.7 292.6,155.6 294.4,155.6 296.3,155.5 298.1,155.5 300,155.4 301.8,155.4 303.7,155.3 305.5,155.3 307.3,155.2 309.2,155.1 311,155.1 312.9,155 314.7,154.9 316.6,154.9 318.4,154.8 320.3,154.7 322.1,154.7 324,154.6 325.8,154.5 327.7,154.4 329.5,154.4 331.4,154.3 333.2,154.2 335.1,154 336.9,153.5 338.7,153.1 340.6,152.7 342.4,151.9 344.3,151 346.1,150.1 348,149.4 349.8,148.7 351.7,148.1 353.5,147.4 355.4,146.9 357.2,146.4 359.1,145.9 360.9,145.5 362.8,145.9 364.6,146.4 366.5,146.8 368.3,147.7 370.1,148.6 372,149.5 373.8,150.3 375.7,151 377.5,151.8 379.4,152.1 381.2,152.3 383.1,152.5 384.9,152.7 386.8,152.9 388.6,153 390.5,153.2 392.3,153.3 394.2,153.4 396,153.5 397.9,153.6 399.7,153.7 401.6,153.8 403.4,153.9 405.2,154 407.1,154.1 408.9,154.2 410.8,154.2 412.6,154.3 414.5,154.3 416.3,154.3 418.2,154.4 420,154.4 421.9,154.5 423.7,154.5 425.6,154.5 427.4,154.6 429.3,154.6 431.1,154.6 433,154.7 434.8,154.7 436.6,154.7 438.5,154.7 440.3,154.8 442.2,154.8 444,154.8 445.9,154.8 447.7,154.9 449.6,154.9 451.4,154.9 453.3,154.9 455.1,155 457,155 458.8,155 460.7,155 462.5,155.1 464.4,155.1 466.2,155.1" fill="none" stroke="#3f6db5" stroke-width="0.9"/><path d="M315.9 166.4v2" stroke="#333" stroke-width="0.6"/><text x="315.9" y="176.9" text-anchor="middle" font-size="8">20</text><path d="M366 166.4v2" stroke="#333" stroke-width="0.6"/><text x="366" y="176.9" text-anchor="middle" font-size="8">40</text><path d="M416.1 166.4v2" stroke="#333" stroke-width="0.6"/><text x="416.1" y="176.9" text-anchor="middle" font-size="8">60</text><path d="M466.2 166.4v2" stroke="#333" stroke-width="0.6"/><text x="466.2" y="176.9" text-anchor="middle" font-size="8">80</text><path d="M271.5 155.6h2" stroke="#333" stroke-width="0.6"/><text x="270.5" y="158.6" text-anchor="end" font-size="8">0</text><path d="M271.5 143.2h2" stroke="#333" stroke-width="0.6"/><text x="270.5" y="146.2" text-anchor="end" font-size="8">5</text><text x="120" y="185" text-anchor="middle"><tspan font-style="italic">x</tspan> [Å]</text><text x="370" y="185" text-anchor="middle">x [Å]</text><text transform="translate(7 150.5) rotate(-90)" text-anchor="middle"><tspan font-style="italic">z</tspan> [Å]</text><text transform="translate(259 152) rotate(-90)" text-anchor="middle">z [Å]</text><text x="5.8" y="5.8" font-weight="bold" font-size="8.5">a</text><text x="256.6" y="6" font-weight="bold" font-size="8.5">b</text>
</svg></body></html>
